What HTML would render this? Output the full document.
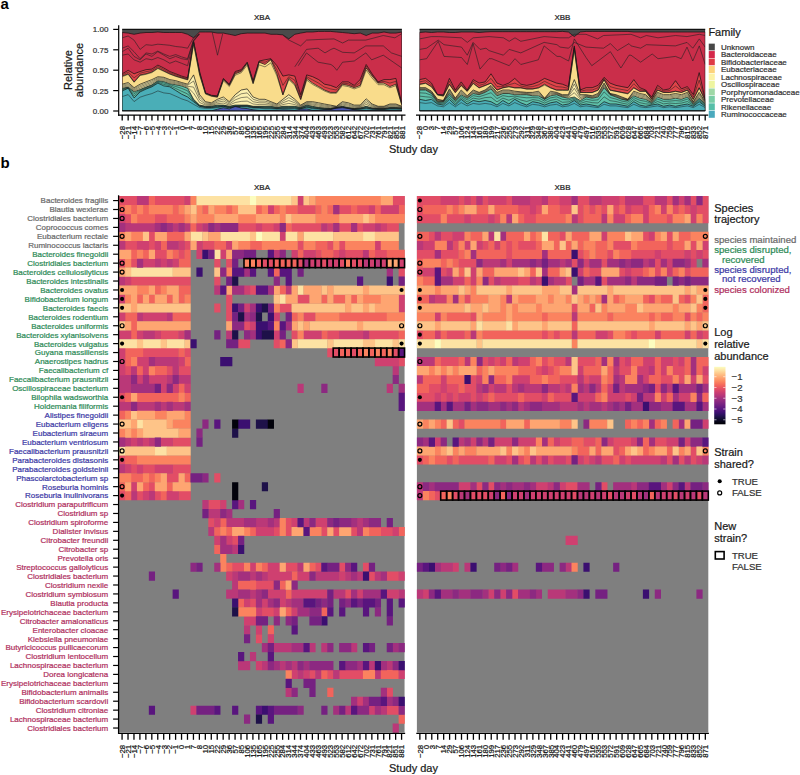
<!DOCTYPE html>
<html><head><meta charset="utf-8"><title>figure</title>
<style>
html,body{margin:0;padding:0;background:#fff;}
body{width:800px;height:775px;overflow:hidden;}
svg{display:block;font-family:"Liberation Sans", sans-serif;}
</style></head><body>
<svg width="800" height="775" viewBox="0 0 800 775">
<text x="0.6" y="8.5" font-size="15" font-weight="bold" fill="#000">a</text>
<text x="262" y="19.9" font-size="8" text-anchor="middle" fill="#1a1a1a" stroke="#1a1a1a" stroke-width="0.22">XBA</text>
<text x="562.4" y="19.9" font-size="8" text-anchor="middle" fill="#1a1a1a" stroke="#1a1a1a" stroke-width="0.22">XBB</text>
<defs><clipPath id="ca"><rect x="122.2" y="29.4" width="279.65000000000003" height="81.6"/></clipPath><clipPath id="cb"><rect x="419.6" y="29.4" width="285.6" height="81.6"/></clipPath></defs>
<g clip-path="url(#ca)"><polygon points="122.2,29.4 128.2,29.4 134.1,29.4 140.1,29.4 146.0,29.4 151.9,29.4 157.9,29.4 163.8,29.4 169.8,29.4 175.8,29.4 181.7,29.4 187.7,29.4 193.6,29.4 199.6,29.4 205.5,29.4 211.4,29.4 217.4,29.4 223.4,29.4 229.3,29.4 235.2,29.4 241.2,29.4 247.2,29.4 253.1,29.4 259.1,29.4 265.0,29.4 270.9,29.4 276.9,29.4 282.9,29.4 288.8,29.4 294.8,29.4 300.7,29.4 306.7,29.4 312.6,29.4 318.6,29.4 324.5,29.4 330.4,29.4 336.4,29.4 342.4,29.4 348.3,29.4 354.2,29.4 360.2,29.4 366.2,29.4 372.1,29.4 378.1,29.4 384.0,29.4 389.9,29.4 395.9,29.4 401.9,29.4 401.9,111.0 395.9,111.0 389.9,111.0 384.0,111.0 378.1,111.0 372.1,111.0 366.2,111.0 360.2,111.0 354.2,111.0 348.3,111.0 342.4,111.0 336.4,111.0 330.4,111.0 324.5,111.0 318.6,111.0 312.6,111.0 306.7,111.0 300.7,111.0 294.8,111.0 288.8,111.0 282.9,111.0 276.9,111.0 270.9,111.0 265.0,111.0 259.1,111.0 253.1,111.0 247.2,111.0 241.2,111.0 235.2,111.0 229.3,111.0 223.4,111.0 217.4,111.0 211.4,111.0 205.5,111.0 199.6,111.0 193.6,111.0 187.7,111.0 181.7,111.0 175.8,111.0 169.8,111.0 163.8,111.0 157.9,111.0 151.9,111.0 146.0,111.0 140.1,111.0 134.1,111.0 128.2,111.0 122.2,111.0" fill="#4a4a4a" stroke="#111" stroke-width="0.7" stroke-linejoin="round"/><polygon points="122.2,32.5 128.2,33.1 134.1,34.3 140.1,33.1 146.0,32.5 151.9,32.5 157.9,32.0 163.8,32.5 169.8,32.5 175.8,32.5 181.7,32.5 187.7,34.3 193.6,37.8 199.6,32.0 205.5,32.0 211.4,32.0 217.4,33.1 223.4,33.1 229.3,34.3 235.2,35.5 241.2,33.7 247.2,33.1 253.1,33.1 259.1,33.1 265.0,33.1 270.9,34.3 276.9,34.3 282.9,34.9 288.8,38.9 294.8,34.3 300.7,33.1 306.7,32.0 312.6,32.0 318.6,31.4 324.5,31.4 330.4,31.4 336.4,32.0 342.4,32.5 348.3,33.1 354.2,33.7 360.2,33.1 366.2,35.5 372.1,33.1 378.1,33.1 384.0,32.0 389.9,33.1 395.9,33.1 401.9,32.0 401.9,111.0 395.9,111.0 389.9,111.0 384.0,111.0 378.1,111.0 372.1,111.0 366.2,111.0 360.2,111.0 354.2,111.0 348.3,111.0 342.4,111.0 336.4,111.0 330.4,111.0 324.5,111.0 318.6,111.0 312.6,111.0 306.7,111.0 300.7,111.0 294.8,111.0 288.8,111.0 282.9,111.0 276.9,111.0 270.9,111.0 265.0,111.0 259.1,111.0 253.1,111.0 247.2,111.0 241.2,111.0 235.2,111.0 229.3,111.0 223.4,111.0 217.4,111.0 211.4,111.0 205.5,111.0 199.6,111.0 193.6,111.0 187.7,111.0 181.7,111.0 175.8,111.0 169.8,111.0 163.8,111.0 157.9,111.0 151.9,111.0 146.0,111.0 140.1,111.0 134.1,111.0 128.2,111.0 122.2,111.0" fill="#ca2e4a" stroke="#111" stroke-width="0.7" stroke-linejoin="round"/><polygon points="122.2,73.8 128.2,70.3 134.1,73.8 140.1,71.5 146.0,69.7 151.9,69.1 157.9,65.1 163.8,68.0 169.8,71.5 175.8,73.8 181.7,76.1 187.7,77.8 193.6,41.3 199.6,71.5 205.5,92.9 211.4,95.3 217.4,95.8 223.4,78.4 229.3,84.2 235.2,71.5 241.2,69.7 247.2,62.2 253.1,80.7 259.1,61.0 265.0,59.8 270.9,58.7 276.9,65.7 282.9,76.1 288.8,74.9 294.8,76.1 300.7,94.7 306.7,74.9 312.6,76.7 318.6,79.6 324.5,84.2 330.4,85.4 336.4,87.7 342.4,81.9 348.3,81.9 354.2,85.4 360.2,79.6 366.2,64.5 372.1,73.8 378.1,81.9 384.0,79.6 389.9,79.6 395.9,78.4 401.9,104.0 401.9,111.0 395.9,111.0 389.9,111.0 384.0,111.0 378.1,111.0 372.1,111.0 366.2,111.0 360.2,111.0 354.2,111.0 348.3,111.0 342.4,111.0 336.4,111.0 330.4,111.0 324.5,111.0 318.6,111.0 312.6,111.0 306.7,111.0 300.7,111.0 294.8,111.0 288.8,111.0 282.9,111.0 276.9,111.0 270.9,111.0 265.0,111.0 259.1,111.0 253.1,111.0 247.2,111.0 241.2,111.0 235.2,111.0 229.3,111.0 223.4,111.0 217.4,111.0 211.4,111.0 205.5,111.0 199.6,111.0 193.6,111.0 187.7,111.0 181.7,111.0 175.8,111.0 169.8,111.0 163.8,111.0 157.9,111.0 151.9,111.0 146.0,111.0 140.1,111.0 134.1,111.0 128.2,111.0 122.2,111.0" fill="#df4449" stroke="#111" stroke-width="0.7" stroke-linejoin="round"/><polygon points="122.2,76.1 128.2,73.8 134.1,81.9 140.1,74.9 146.0,73.8 151.9,72.0 157.9,68.0 163.8,70.9 169.8,73.8 175.8,76.1 181.7,77.8 187.7,79.6 193.6,42.4 199.6,73.8 205.5,93.5 211.4,95.8 217.4,97.0 223.4,79.6 229.3,85.4 235.2,73.8 241.2,71.5 247.2,63.3 253.1,83.1 259.1,62.2 265.0,64.5 270.9,59.8 276.9,73.8 282.9,94.7 288.8,78.4 294.8,84.2 300.7,99.3 306.7,78.4 312.6,83.1 318.6,86.6 324.5,90.0 330.4,92.4 336.4,92.4 342.4,84.2 348.3,85.4 354.2,87.7 360.2,85.4 366.2,68.0 372.1,76.1 378.1,83.1 384.0,83.1 389.9,86.6 395.9,84.2 401.9,105.1 401.9,111.0 395.9,111.0 389.9,111.0 384.0,111.0 378.1,111.0 372.1,111.0 366.2,111.0 360.2,111.0 354.2,111.0 348.3,111.0 342.4,111.0 336.4,111.0 330.4,111.0 324.5,111.0 318.6,111.0 312.6,111.0 306.7,111.0 300.7,111.0 294.8,111.0 288.8,111.0 282.9,111.0 276.9,111.0 270.9,111.0 265.0,111.0 259.1,111.0 253.1,111.0 247.2,111.0 241.2,111.0 235.2,111.0 229.3,111.0 223.4,111.0 217.4,111.0 211.4,111.0 205.5,111.0 199.6,111.0 193.6,111.0 187.7,111.0 181.7,111.0 175.8,111.0 169.8,111.0 163.8,111.0 157.9,111.0 151.9,111.0 146.0,111.0 140.1,111.0 134.1,111.0 128.2,111.0 122.2,111.0" fill="#f9dc8b" stroke="#111" stroke-width="0.7" stroke-linejoin="round"/><polygon points="122.2,84.2 128.2,82.5 134.1,87.7 140.1,84.2 146.0,81.9 151.9,79.6 157.9,76.7 163.8,77.3 169.8,79.6 175.8,80.7 181.7,82.5 187.7,84.2 193.6,74.9 199.6,94.7 205.5,101.7 211.4,102.8 217.4,99.3 223.4,97.0 229.3,101.7 235.2,94.7 241.2,90.0 247.2,88.9 253.1,97.0 259.1,99.3 265.0,99.3 270.9,101.7 276.9,104.0 282.9,99.3 288.8,94.7 294.8,99.3 300.7,105.1 306.7,101.7 312.6,101.7 318.6,102.8 324.5,104.0 330.4,105.1 336.4,106.3 342.4,101.7 348.3,102.8 354.2,105.1 360.2,105.1 366.2,98.8 372.1,104.0 378.1,106.3 384.0,106.3 389.9,104.0 395.9,104.0 401.9,106.3 401.9,111.0 395.9,111.0 389.9,111.0 384.0,111.0 378.1,111.0 372.1,111.0 366.2,111.0 360.2,111.0 354.2,111.0 348.3,111.0 342.4,111.0 336.4,111.0 330.4,111.0 324.5,111.0 318.6,111.0 312.6,111.0 306.7,111.0 300.7,111.0 294.8,111.0 288.8,111.0 282.9,111.0 276.9,111.0 270.9,111.0 265.0,111.0 259.1,111.0 253.1,111.0 247.2,111.0 241.2,111.0 235.2,111.0 229.3,111.0 223.4,111.0 217.4,111.0 211.4,111.0 205.5,111.0 199.6,111.0 193.6,111.0 187.7,111.0 181.7,111.0 175.8,111.0 169.8,111.0 163.8,111.0 157.9,111.0 151.9,111.0 146.0,111.0 140.1,111.0 134.1,111.0 128.2,111.0 122.2,111.0" fill="#fbf0b0" stroke="#111" stroke-width="0.7" stroke-linejoin="round"/><polygon points="122.2,88.3 128.2,87.1 134.1,91.8 140.1,89.5 146.0,87.1 151.9,84.8 157.9,80.7 163.8,81.6 169.8,83.7 175.8,84.8 181.7,86.0 187.7,88.3 193.6,99.3 199.6,105.1 205.5,106.3 211.4,106.3 217.4,105.1 223.4,105.1 229.3,106.3 235.2,105.1 241.2,105.1 247.2,105.1 253.1,106.3 259.1,106.3 265.0,106.3 270.9,106.3 276.9,107.5 282.9,106.3 288.8,106.3 294.8,106.3 300.7,107.5 306.7,105.1 312.6,106.3 318.6,107.5 324.5,108.0 330.4,108.6 336.4,107.5 342.4,106.3 348.3,107.5 354.2,108.6 360.2,108.0 366.2,106.3 372.1,108.0 378.1,108.6 384.0,108.6 389.9,107.5 395.9,107.5 401.9,108.0 401.9,111.0 395.9,111.0 389.9,111.0 384.0,111.0 378.1,111.0 372.1,111.0 366.2,111.0 360.2,111.0 354.2,111.0 348.3,111.0 342.4,111.0 336.4,111.0 330.4,111.0 324.5,111.0 318.6,111.0 312.6,111.0 306.7,111.0 300.7,111.0 294.8,111.0 288.8,111.0 282.9,111.0 276.9,111.0 270.9,111.0 265.0,111.0 259.1,111.0 253.1,111.0 247.2,111.0 241.2,111.0 235.2,111.0 229.3,111.0 223.4,111.0 217.4,111.0 211.4,111.0 205.5,111.0 199.6,111.0 193.6,111.0 187.7,111.0 181.7,111.0 175.8,111.0 169.8,111.0 163.8,111.0 157.9,111.0 151.9,111.0 146.0,111.0 140.1,111.0 134.1,111.0 128.2,111.0 122.2,111.0" fill="#5fc2aa" stroke="#111" stroke-width="0.7" stroke-linejoin="round"/><polygon points="122.2,91.0 128.2,88.2 134.1,97.9 140.1,91.9 146.0,89.1 151.9,86.8 157.9,83.1 163.8,85.9 169.8,86.8 175.8,90.5 181.7,94.2 187.7,97.0 193.6,101.7 199.6,106.3 205.5,107.5 211.4,107.5 217.4,106.9 223.4,106.3 229.3,107.5 235.2,106.9 241.2,106.3 247.2,106.3 253.1,107.5 259.1,107.5 265.0,108.0 270.9,108.0 276.9,108.6 282.9,108.0 288.8,108.0 294.8,108.0 300.7,108.6 306.7,106.9 312.6,108.0 318.6,108.6 324.5,109.2 330.4,109.2 336.4,108.6 342.4,108.0 348.3,108.6 354.2,109.2 360.2,108.9 366.2,108.0 372.1,108.9 378.1,109.2 384.0,109.2 389.9,108.6 395.9,108.6 401.9,108.9 401.9,111.0 395.9,111.0 389.9,111.0 384.0,111.0 378.1,111.0 372.1,111.0 366.2,111.0 360.2,111.0 354.2,111.0 348.3,111.0 342.4,111.0 336.4,111.0 330.4,111.0 324.5,111.0 318.6,111.0 312.6,111.0 306.7,111.0 300.7,111.0 294.8,111.0 288.8,111.0 282.9,111.0 276.9,111.0 270.9,111.0 265.0,111.0 259.1,111.0 253.1,111.0 247.2,111.0 241.2,111.0 235.2,111.0 229.3,111.0 223.4,111.0 217.4,111.0 211.4,111.0 205.5,111.0 199.6,111.0 193.6,111.0 187.7,111.0 181.7,111.0 175.8,111.0 169.8,111.0 163.8,111.0 157.9,111.0 151.9,111.0 146.0,111.0 140.1,111.0 134.1,111.0 128.2,111.0 122.2,111.0" fill="#4aaeb7" stroke="#111" stroke-width="0.7" stroke-linejoin="round"/><polygon points="122.2,110.9 128.2,110.9 134.1,110.9 140.1,110.9 146.0,110.9 151.9,110.9 157.9,110.9 163.8,110.9 169.8,110.9 175.8,110.9 181.7,110.9 187.7,110.9 193.6,110.9 199.6,110.9 205.5,110.9 211.4,110.9 217.4,109.2 223.4,107.7 229.3,108.9 235.2,106.3 241.2,108.0 247.2,108.6 253.1,109.8 259.1,110.4 265.0,110.4 270.9,110.4 276.9,110.4 282.9,109.8 288.8,110.0 294.8,110.4 300.7,109.2 306.7,108.9 312.6,110.4 318.6,110.4 324.5,109.8 330.4,109.6 336.4,107.7 342.4,106.9 348.3,108.4 354.2,109.8 360.2,110.4 366.2,110.4 372.1,110.4 378.1,110.4 384.0,110.4 389.9,110.4 395.9,110.4 401.9,110.4 401.9,111.0 395.9,111.0 389.9,111.0 384.0,111.0 378.1,111.0 372.1,111.0 366.2,111.0 360.2,111.0 354.2,111.0 348.3,111.0 342.4,111.0 336.4,111.0 330.4,111.0 324.5,111.0 318.6,111.0 312.6,111.0 306.7,111.0 300.7,111.0 294.8,111.0 288.8,111.0 282.9,111.0 276.9,111.0 270.9,111.0 265.0,111.0 259.1,111.0 253.1,111.0 247.2,111.0 241.2,111.0 235.2,111.0 229.3,111.0 223.4,111.0 217.4,111.0 211.4,111.0 205.5,111.0 199.6,111.0 193.6,111.0 187.7,111.0 181.7,111.0 175.8,111.0 169.8,111.0 163.8,111.0 157.9,111.0 151.9,111.0 146.0,111.0 140.1,111.0 134.1,111.0 128.2,111.0 122.2,111.0" fill="#4a58b4" stroke="#111" stroke-width="0.7" stroke-linejoin="round"/><polyline points="122.2,96.6 128.2,94.6 134.1,101.6 140.1,97.2 146.0,95.2 151.9,93.6 157.9,90.9 163.8,92.9 169.8,93.6 175.8,96.2 181.7,98.9 187.7,100.9 193.6,104.3 199.6,107.6 205.5,108.4 211.4,108.4 217.4,107.5 223.4,106.7 229.3,107.9 235.2,106.7 241.2,106.8 247.2,107.0 253.1,108.1 259.1,108.3 265.0,108.7 270.9,108.7 276.9,109.1 282.9,108.5 288.8,108.6 294.8,108.7 300.7,108.8 306.7,107.4 312.6,108.7 318.6,109.1 324.5,109.4 330.4,109.3 336.4,108.4 342.4,107.7 348.3,108.6 354.2,109.4 360.2,109.3 366.2,108.7 372.1,109.3 378.1,109.5 384.0,109.5 389.9,109.1 395.9,109.1 401.9,109.3" fill="none" stroke="#1a1a1a" stroke-width="0.5" stroke-linejoin="round"/><polyline points="122.2,90.0 128.2,87.8 134.1,95.8 140.1,91.0 146.0,88.4 151.9,86.1 157.9,82.3 163.8,84.4 169.8,85.7 175.8,88.5 181.7,91.3 187.7,94.0 193.6,100.8 199.6,105.9 205.5,107.1 211.4,107.1 217.4,106.3 223.4,105.9 229.3,107.1 235.2,106.3 241.2,105.9 247.2,105.9 253.1,107.1 259.1,107.1 265.0,107.4 270.9,107.4 276.9,108.2 282.9,107.4 288.8,107.4 294.8,107.4 300.7,108.2 306.7,106.3 312.6,107.4 318.6,108.2 324.5,108.8 330.4,109.0 336.4,108.2 342.4,107.4 348.3,108.2 354.2,109.0 360.2,108.6 366.2,107.4 372.1,108.6 378.1,109.0 384.0,109.0 389.9,108.2 395.9,108.2 401.9,108.6" fill="none" stroke="#1a1a1a" stroke-width="0.5" stroke-linejoin="round"/><polyline points="122.2,89.1 128.2,87.5 134.1,93.6 140.1,90.2 146.0,87.7 151.9,85.4 157.9,81.4 163.8,82.9 169.8,84.6 175.8,86.5 181.7,88.4 187.7,90.9 193.6,100.0 199.6,105.5 205.5,106.6 211.4,106.6 217.4,105.7 223.4,105.5 229.3,106.6 235.2,105.7 241.2,105.5 247.2,105.5 253.1,106.6 259.1,106.6 265.0,106.8 270.9,106.8 276.9,107.8 282.9,106.8 288.8,106.8 294.8,106.8 300.7,107.8 306.7,105.7 312.6,106.8 318.6,107.8 324.5,108.4 330.4,108.8 336.4,107.8 342.4,106.8 348.3,107.8 354.2,108.8 360.2,108.3 366.2,106.8 372.1,108.3 378.1,108.8 384.0,108.8 389.9,107.8 395.9,107.8 401.9,108.3" fill="none" stroke="#1a1a1a" stroke-width="0.5" stroke-linejoin="round"/><polyline points="122.2,87.3 128.2,86.0 134.1,90.8 140.1,88.2 146.0,85.8 151.9,83.5 157.9,79.7 163.8,80.5 169.8,82.6 175.8,83.8 181.7,85.1 187.7,87.3 193.6,93.2 199.6,102.5 205.5,105.1 211.4,105.4 217.4,103.7 223.4,103.1 229.3,105.1 235.2,102.5 241.2,101.4 247.2,101.1 253.1,104.0 259.1,104.6 265.0,104.6 270.9,105.1 276.9,106.6 282.9,104.6 288.8,103.4 294.8,104.6 300.7,106.9 306.7,104.3 312.6,105.1 318.6,106.3 324.5,107.0 330.4,107.8 336.4,107.2 342.4,105.1 348.3,106.3 354.2,107.8 360.2,107.3 366.2,104.4 372.1,107.0 378.1,108.0 384.0,108.0 389.9,106.6 395.9,106.6 401.9,107.6" fill="none" stroke="#1a1a1a" stroke-width="0.5" stroke-linejoin="round"/><polyline points="122.2,86.3 128.2,84.8 134.1,89.8 140.1,86.8 146.0,84.5 151.9,82.2 157.9,78.7 163.8,79.4 169.8,81.6 175.8,82.8 181.7,84.2 187.7,86.3 193.6,87.1 199.6,99.9 205.5,104.0 211.4,104.6 217.4,102.2 223.4,101.1 229.3,104.0 235.2,99.9 241.2,97.6 247.2,97.0 253.1,101.7 259.1,102.8 265.0,102.8 270.9,104.0 276.9,105.7 282.9,102.8 288.8,100.5 294.8,102.8 300.7,106.3 306.7,103.4 312.6,104.0 318.6,105.1 324.5,106.0 330.4,106.9 336.4,106.9 342.4,104.0 348.3,105.1 354.2,106.9 360.2,106.6 366.2,102.5 372.1,106.0 378.1,107.5 384.0,107.5 389.9,105.7 395.9,105.7 401.9,107.2" fill="none" stroke="#1a1a1a" stroke-width="0.5" stroke-linejoin="round"/><polyline points="122.2,85.2 128.2,83.7 134.1,88.7 140.1,85.5 146.0,83.2 151.9,80.9 157.9,77.7 163.8,78.3 169.8,80.6 175.8,81.8 181.7,83.4 187.7,85.2 193.6,81.0 199.6,97.3 205.5,102.8 211.4,103.7 217.4,100.8 223.4,99.0 229.3,102.8 235.2,97.3 241.2,93.8 247.2,92.9 253.1,99.3 259.1,101.1 265.0,101.1 270.9,102.8 276.9,104.8 282.9,101.1 288.8,97.6 294.8,101.1 300.7,105.7 306.7,102.5 312.6,102.8 318.6,104.0 324.5,105.0 330.4,106.0 336.4,106.6 342.4,102.8 348.3,104.0 354.2,106.0 360.2,105.9 366.2,100.6 372.1,105.0 378.1,106.9 384.0,106.9 389.9,104.8 395.9,104.8 401.9,106.7" fill="none" stroke="#1a1a1a" stroke-width="0.5" stroke-linejoin="round"/><polyline points="122.2,76.7 128.2,74.4 134.1,82.3 140.1,75.6 146.0,74.3 151.9,72.6 157.9,68.6 163.8,71.3 169.8,74.2 175.8,76.4 181.7,78.2 187.7,79.9 193.6,44.7 199.6,75.2 205.5,94.1 211.4,96.3 217.4,97.2 223.4,80.8 229.3,86.5 235.2,75.2 241.2,72.8 247.2,65.1 253.1,84.0 259.1,64.8 265.0,66.9 270.9,62.8 276.9,75.9 282.9,95.0 288.8,79.6 294.8,85.3 300.7,99.7 306.7,80.1 312.6,84.4 318.6,87.7 324.5,91.0 330.4,93.3 336.4,93.3 342.4,85.5 348.3,86.6 354.2,88.9 360.2,86.8 366.2,70.1 372.1,78.1 378.1,84.7 384.0,84.7 389.9,87.8 395.9,85.6 401.9,105.2" fill="none" stroke="#1a1a1a" stroke-width="0.5" stroke-linejoin="round"/><polyline points="122.2,74.9 128.2,72.0 134.1,77.8 140.1,73.2 146.0,71.7 151.9,70.6 157.9,66.5 163.8,69.4 169.8,72.6 175.8,74.9 181.7,77.0 187.7,78.7 193.6,41.8 199.6,72.6 205.5,93.2 211.4,95.6 217.4,96.4 223.4,79.0 229.3,84.8 235.2,72.6 241.2,70.6 247.2,62.7 253.1,81.9 259.1,61.6 265.0,62.2 270.9,59.3 276.9,69.7 282.9,85.4 288.8,76.7 294.8,80.2 300.7,97.0 306.7,76.7 312.6,79.9 318.6,83.1 324.5,87.1 330.4,88.9 336.4,90.0 342.4,83.1 348.3,83.7 354.2,86.6 360.2,82.5 366.2,66.2 372.1,74.9 378.1,82.5 384.0,81.3 389.9,83.1 395.9,81.3 401.9,104.6" fill="none" stroke="#1a1a1a" stroke-width="0.5" stroke-linejoin="round"/><polyline points="122.2,37.8 128.1,36.0 134.0,40.1 140.1,49.4 146.0,44.7 151.9,45.3 157.8,44.2 163.8,44.7 169.8,45.3 175.7,46.5 181.6,47.1 187.6,48.2 193.5,37.8 199.3,34.3" fill="none" stroke="#222" stroke-width="0.6" stroke-linejoin="round"/><polyline points="122.2,48.2 128.1,45.9 134.0,51.7 140.1,58.7 146.0,52.9 151.9,54.0 157.8,51.1 163.8,54.0 169.8,56.4 175.7,54.6 181.6,56.9 187.6,58.7 193.5,40.1 199.3,33.7" fill="none" stroke="#222" stroke-width="0.6" stroke-linejoin="round"/><polyline points="122.2,55.2 128.1,54.0 134.0,59.8 140.1,62.2 146.0,58.7 151.9,59.8 157.8,57.5 163.8,59.8 169.8,63.3 175.7,61.0 181.6,63.3 187.6,65.7 193.5,41.3 199.3,34.3" fill="none" stroke="#222" stroke-width="0.6" stroke-linejoin="round"/><polyline points="122.2,51.7 128.1,48.2 134.0,56.4 140.1,59.8 146.0,54.0 151.9,56.4 157.8,51.7 163.8,55.2 169.8,58.7 175.7,56.4 181.6,58.7 187.6,59.8 193.5,40.7 199.3,34.1" fill="none" stroke="#222" stroke-width="0.6" stroke-linejoin="round"/><polyline points="212.2,32.2 217.5,55.2 222.7,33.7" fill="none" stroke="#222" stroke-width="0.6" stroke-linejoin="round"/><polyline points="283.2,35.5 289.0,40.1 300.7,45.9 306.5,40.1 318.1,39.5 334.0,38.9 342.6,43.0 348.4,40.1 365.8,40.1 383.3,35.5 394.9,37.8 401.8,33.7" fill="none" stroke="#222" stroke-width="0.6" stroke-linejoin="round"/><polyline points="294.8,66.8 306.5,49.4 318.1,48.2 325.0,52.9 331.0,49.4 334.0,48.2 342.6,52.3 354.2,52.9 365.8,45.9 383.3,45.9 391.4,52.9 401.8,56.4" fill="none" stroke="#222" stroke-width="0.6" stroke-linejoin="round"/><polyline points="298.3,65.7 306.5,52.9 318.1,62.2 331.0,64.5 334.0,66.8 336.8,70.3 342.6,62.2 354.2,61.0 365.8,52.9 371.7,59.8 383.3,55.2 401.8,68.0" fill="none" stroke="#222" stroke-width="0.6" stroke-linejoin="round"/></g>
<g clip-path="url(#cb)"><polygon points="419.6,29.4 425.6,29.4 431.5,29.4 437.5,29.4 443.4,29.4 449.4,29.4 455.3,29.4 461.2,29.4 467.2,29.4 473.2,29.4 479.1,29.4 485.1,29.4 491.0,29.4 497.0,29.4 502.9,29.4 508.9,29.4 514.8,29.4 520.8,29.4 526.7,29.4 532.6,29.4 538.6,29.4 544.6,29.4 550.5,29.4 556.5,29.4 562.4,29.4 568.4,29.4 574.3,29.4 580.2,29.4 586.2,29.4 592.2,29.4 598.1,29.4 604.1,29.4 610.0,29.4 616.0,29.4 621.9,29.4 627.9,29.4 633.8,29.4 639.8,29.4 645.7,29.4 651.7,29.4 657.6,29.4 663.6,29.4 669.5,29.4 675.5,29.4 681.4,29.4 687.4,29.4 693.3,29.4 699.2,29.4 705.2,29.4 705.2,111.0 699.2,111.0 693.3,111.0 687.4,111.0 681.4,111.0 675.5,111.0 669.5,111.0 663.6,111.0 657.6,111.0 651.7,111.0 645.7,111.0 639.8,111.0 633.8,111.0 627.9,111.0 621.9,111.0 616.0,111.0 610.0,111.0 604.1,111.0 598.1,111.0 592.2,111.0 586.2,111.0 580.2,111.0 574.3,111.0 568.4,111.0 562.4,111.0 556.5,111.0 550.5,111.0 544.6,111.0 538.6,111.0 532.6,111.0 526.7,111.0 520.8,111.0 514.8,111.0 508.9,111.0 502.9,111.0 497.0,111.0 491.0,111.0 485.1,111.0 479.1,111.0 473.2,111.0 467.2,111.0 461.2,111.0 455.3,111.0 449.4,111.0 443.4,111.0 437.5,111.0 431.5,111.0 425.6,111.0 419.6,111.0" fill="#4a4a4a" stroke="#111" stroke-width="0.7" stroke-linejoin="round"/><polygon points="419.6,32.5 425.6,32.0 431.5,32.5 437.5,32.0 443.4,32.0 449.4,32.5 455.3,32.5 461.2,32.0 467.2,32.0 473.2,32.0 479.1,32.5 485.1,32.0 491.0,31.7 497.0,31.7 502.9,31.7 508.9,31.7 514.8,31.7 520.8,31.7 526.7,31.7 532.6,31.7 538.6,31.7 544.6,31.7 550.5,31.7 556.5,31.7 562.4,31.4 568.4,32.0 574.3,36.6 580.2,32.0 586.2,31.4 592.2,31.4 598.1,31.4 604.1,31.4 610.0,31.4 616.0,31.4 621.9,31.4 627.9,31.4 633.8,32.0 639.8,32.0 645.7,32.0 651.7,32.0 657.6,32.0 663.6,32.0 669.5,32.0 675.5,32.0 681.4,32.0 687.4,32.0 693.3,32.0 699.2,32.0 705.2,32.0 705.2,111.0 699.2,111.0 693.3,111.0 687.4,111.0 681.4,111.0 675.5,111.0 669.5,111.0 663.6,111.0 657.6,111.0 651.7,111.0 645.7,111.0 639.8,111.0 633.8,111.0 627.9,111.0 621.9,111.0 616.0,111.0 610.0,111.0 604.1,111.0 598.1,111.0 592.2,111.0 586.2,111.0 580.2,111.0 574.3,111.0 568.4,111.0 562.4,111.0 556.5,111.0 550.5,111.0 544.6,111.0 538.6,111.0 532.6,111.0 526.7,111.0 520.8,111.0 514.8,111.0 508.9,111.0 502.9,111.0 497.0,111.0 491.0,111.0 485.1,111.0 479.1,111.0 473.2,111.0 467.2,111.0 461.2,111.0 455.3,111.0 449.4,111.0 443.4,111.0 437.5,111.0 431.5,111.0 425.6,111.0 419.6,111.0" fill="#ca2e4a" stroke="#111" stroke-width="0.7" stroke-linejoin="round"/><polygon points="419.6,79.6 425.6,78.4 431.5,83.1 437.5,94.7 443.4,94.7 449.4,78.4 455.3,90.0 461.2,81.9 467.2,90.0 473.2,79.6 479.1,83.1 485.1,81.9 491.0,73.8 497.0,83.1 502.9,85.4 508.9,83.1 514.8,78.4 520.8,84.2 526.7,85.4 532.6,84.2 538.6,81.9 544.6,78.4 550.5,80.7 556.5,83.1 562.4,84.2 568.4,86.6 574.3,45.9 580.2,90.0 586.2,87.7 592.2,87.7 598.1,85.4 604.1,77.3 610.0,83.1 616.0,85.4 621.9,86.6 627.9,87.7 633.8,79.6 639.8,87.7 645.7,90.0 651.7,97.0 657.6,85.4 663.6,90.0 669.5,88.9 675.5,80.7 681.4,88.9 687.4,86.6 693.3,94.7 699.2,72.6 705.2,99.3 705.2,111.0 699.2,111.0 693.3,111.0 687.4,111.0 681.4,111.0 675.5,111.0 669.5,111.0 663.6,111.0 657.6,111.0 651.7,111.0 645.7,111.0 639.8,111.0 633.8,111.0 627.9,111.0 621.9,111.0 616.0,111.0 610.0,111.0 604.1,111.0 598.1,111.0 592.2,111.0 586.2,111.0 580.2,111.0 574.3,111.0 568.4,111.0 562.4,111.0 556.5,111.0 550.5,111.0 544.6,111.0 538.6,111.0 532.6,111.0 526.7,111.0 520.8,111.0 514.8,111.0 508.9,111.0 502.9,111.0 497.0,111.0 491.0,111.0 485.1,111.0 479.1,111.0 473.2,111.0 467.2,111.0 461.2,111.0 455.3,111.0 449.4,111.0 443.4,111.0 437.5,111.0 431.5,111.0 425.6,111.0 419.6,111.0" fill="#df4449" stroke="#111" stroke-width="0.7" stroke-linejoin="round"/><polygon points="419.6,84.2 425.6,83.1 431.5,86.6 437.5,94.7 443.4,95.8 449.4,84.2 455.3,92.4 461.2,85.4 467.2,91.2 473.2,83.1 479.1,87.7 485.1,85.4 491.0,83.1 497.0,90.0 502.9,87.7 508.9,86.6 514.8,87.7 520.8,87.7 526.7,88.9 532.6,88.9 538.6,87.7 544.6,84.2 550.5,87.7 556.5,90.0 562.4,90.0 568.4,90.0 574.3,48.2 580.2,92.4 586.2,92.4 592.2,92.4 598.1,90.0 604.1,79.6 610.0,90.0 616.0,91.2 621.9,92.4 627.9,93.5 633.8,87.7 639.8,91.2 645.7,91.2 651.7,99.3 657.6,90.0 663.6,92.4 669.5,92.4 675.5,91.2 681.4,92.4 687.4,90.0 693.3,99.3 699.2,87.7 705.2,100.5 705.2,111.0 699.2,111.0 693.3,111.0 687.4,111.0 681.4,111.0 675.5,111.0 669.5,111.0 663.6,111.0 657.6,111.0 651.7,111.0 645.7,111.0 639.8,111.0 633.8,111.0 627.9,111.0 621.9,111.0 616.0,111.0 610.0,111.0 604.1,111.0 598.1,111.0 592.2,111.0 586.2,111.0 580.2,111.0 574.3,111.0 568.4,111.0 562.4,111.0 556.5,111.0 550.5,111.0 544.6,111.0 538.6,111.0 532.6,111.0 526.7,111.0 520.8,111.0 514.8,111.0 508.9,111.0 502.9,111.0 497.0,111.0 491.0,111.0 485.1,111.0 479.1,111.0 473.2,111.0 467.2,111.0 461.2,111.0 455.3,111.0 449.4,111.0 443.4,111.0 437.5,111.0 431.5,111.0 425.6,111.0 419.6,111.0" fill="#f9dc8b" stroke="#111" stroke-width="0.7" stroke-linejoin="round"/><polygon points="419.6,87.7 425.6,87.7 431.5,91.2 437.5,99.3 443.4,100.5 449.4,88.9 455.3,98.2 461.2,90.0 467.2,95.8 473.2,90.0 479.1,92.4 485.1,90.0 491.0,85.4 497.0,92.4 502.9,90.0 508.9,90.0 514.8,91.2 520.8,91.8 526.7,92.4 532.6,92.4 538.6,91.2 544.6,98.2 550.5,91.2 556.5,92.4 562.4,94.7 568.4,94.7 574.3,79.6 580.2,94.7 586.2,94.7 592.2,95.8 598.1,93.5 604.1,83.1 610.0,93.5 616.0,94.7 621.9,97.0 627.9,99.3 633.8,91.2 639.8,93.5 645.7,94.7 651.7,100.5 657.6,92.4 663.6,94.7 669.5,94.7 675.5,93.5 681.4,94.7 687.4,92.4 693.3,101.7 699.2,92.4 705.2,101.7 705.2,111.0 699.2,111.0 693.3,111.0 687.4,111.0 681.4,111.0 675.5,111.0 669.5,111.0 663.6,111.0 657.6,111.0 651.7,111.0 645.7,111.0 639.8,111.0 633.8,111.0 627.9,111.0 621.9,111.0 616.0,111.0 610.0,111.0 604.1,111.0 598.1,111.0 592.2,111.0 586.2,111.0 580.2,111.0 574.3,111.0 568.4,111.0 562.4,111.0 556.5,111.0 550.5,111.0 544.6,111.0 538.6,111.0 532.6,111.0 526.7,111.0 520.8,111.0 514.8,111.0 508.9,111.0 502.9,111.0 497.0,111.0 491.0,111.0 485.1,111.0 479.1,111.0 473.2,111.0 467.2,111.0 461.2,111.0 455.3,111.0 449.4,111.0 443.4,111.0 437.5,111.0 431.5,111.0 425.6,111.0 419.6,111.0" fill="#fbf0b0" stroke="#111" stroke-width="0.7" stroke-linejoin="round"/><polygon points="419.6,90.0 425.6,90.0 431.5,93.5 437.5,101.7 443.4,101.7 449.4,93.5 455.3,100.5 461.2,94.7 467.2,98.2 473.2,93.5 479.1,94.7 485.1,92.4 491.0,88.9 497.0,95.8 502.9,93.5 508.9,93.5 514.8,94.7 520.8,94.7 526.7,94.7 532.6,95.8 538.6,95.8 544.6,99.3 550.5,95.8 556.5,94.7 562.4,97.0 568.4,98.2 574.3,97.0 580.2,100.5 586.2,97.0 592.2,98.2 598.1,97.0 604.1,87.7 610.0,94.7 616.0,97.0 621.9,99.3 627.9,100.5 633.8,95.8 639.8,98.2 645.7,99.3 651.7,102.8 657.6,97.0 663.6,99.3 669.5,99.3 675.5,98.2 681.4,99.3 687.4,97.0 693.3,104.0 699.2,98.2 705.2,104.0 705.2,111.0 699.2,111.0 693.3,111.0 687.4,111.0 681.4,111.0 675.5,111.0 669.5,111.0 663.6,111.0 657.6,111.0 651.7,111.0 645.7,111.0 639.8,111.0 633.8,111.0 627.9,111.0 621.9,111.0 616.0,111.0 610.0,111.0 604.1,111.0 598.1,111.0 592.2,111.0 586.2,111.0 580.2,111.0 574.3,111.0 568.4,111.0 562.4,111.0 556.5,111.0 550.5,111.0 544.6,111.0 538.6,111.0 532.6,111.0 526.7,111.0 520.8,111.0 514.8,111.0 508.9,111.0 502.9,111.0 497.0,111.0 491.0,111.0 485.1,111.0 479.1,111.0 473.2,111.0 467.2,111.0 461.2,111.0 455.3,111.0 449.4,111.0 443.4,111.0 437.5,111.0 431.5,111.0 425.6,111.0 419.6,111.0" fill="#5fc2aa" stroke="#111" stroke-width="0.7" stroke-linejoin="round"/><polygon points="419.6,99.3 425.6,100.5 431.5,99.3 437.5,104.0 443.4,105.1 449.4,99.3 455.3,105.1 461.2,99.3 467.2,104.0 473.2,100.5 479.1,101.7 485.1,100.5 491.0,101.7 497.0,105.1 502.9,100.5 508.9,104.0 514.8,99.3 520.8,102.8 526.7,105.1 532.6,101.7 538.6,102.8 544.6,105.1 550.5,102.8 556.5,101.7 562.4,105.1 568.4,104.0 574.3,100.5 580.2,105.1 586.2,104.0 592.2,105.1 598.1,106.3 604.1,101.7 610.0,104.0 616.0,104.0 621.9,105.1 627.9,106.3 633.8,101.7 639.8,105.1 645.7,106.3 651.7,105.1 657.6,104.0 663.6,106.3 669.5,105.1 675.5,106.3 681.4,105.1 687.4,104.0 693.3,106.3 699.2,101.7 705.2,106.3 705.2,111.0 699.2,111.0 693.3,111.0 687.4,111.0 681.4,111.0 675.5,111.0 669.5,111.0 663.6,111.0 657.6,111.0 651.7,111.0 645.7,111.0 639.8,111.0 633.8,111.0 627.9,111.0 621.9,111.0 616.0,111.0 610.0,111.0 604.1,111.0 598.1,111.0 592.2,111.0 586.2,111.0 580.2,111.0 574.3,111.0 568.4,111.0 562.4,111.0 556.5,111.0 550.5,111.0 544.6,111.0 538.6,111.0 532.6,111.0 526.7,111.0 520.8,111.0 514.8,111.0 508.9,111.0 502.9,111.0 497.0,111.0 491.0,111.0 485.1,111.0 479.1,111.0 473.2,111.0 467.2,111.0 461.2,111.0 455.3,111.0 449.4,111.0 443.4,111.0 437.5,111.0 431.5,111.0 425.6,111.0 419.6,111.0" fill="#4aaeb7" stroke="#111" stroke-width="0.7" stroke-linejoin="round"/><polygon points="419.6,110.9 425.6,110.9 431.5,110.9 437.5,110.9 443.4,110.9 449.4,110.9 455.3,110.9 461.2,110.9 467.2,110.9 473.2,110.9 479.1,110.9 485.1,110.9 491.0,110.9 497.0,110.9 502.9,110.9 508.9,110.9 514.8,110.9 520.8,110.9 526.7,110.9 532.6,110.9 538.6,110.9 544.6,110.9 550.5,110.9 556.5,110.9 562.4,110.9 568.4,110.9 574.3,110.9 580.2,110.9 586.2,110.9 592.2,110.9 598.1,110.9 604.1,110.9 610.0,110.9 616.0,110.9 621.9,110.9 627.9,110.9 633.8,110.9 639.8,110.9 645.7,110.9 651.7,110.9 657.6,110.9 663.6,110.9 669.5,110.9 675.5,110.9 681.4,110.9 687.4,110.9 693.3,110.9 699.2,110.9 705.2,110.9 705.2,111.0 699.2,111.0 693.3,111.0 687.4,111.0 681.4,111.0 675.5,111.0 669.5,111.0 663.6,111.0 657.6,111.0 651.7,111.0 645.7,111.0 639.8,111.0 633.8,111.0 627.9,111.0 621.9,111.0 616.0,111.0 610.0,111.0 604.1,111.0 598.1,111.0 592.2,111.0 586.2,111.0 580.2,111.0 574.3,111.0 568.4,111.0 562.4,111.0 556.5,111.0 550.5,111.0 544.6,111.0 538.6,111.0 532.6,111.0 526.7,111.0 520.8,111.0 514.8,111.0 508.9,111.0 502.9,111.0 497.0,111.0 491.0,111.0 485.1,111.0 479.1,111.0 473.2,111.0 467.2,111.0 461.2,111.0 455.3,111.0 449.4,111.0 443.4,111.0 437.5,111.0 431.5,111.0 425.6,111.0 419.6,111.0" fill="#4a58b4" stroke="#111" stroke-width="0.7" stroke-linejoin="round"/><polyline points="419.6,102.6 425.6,103.4 431.5,102.6 437.5,105.9 443.4,106.8 449.4,102.6 455.3,106.8 461.2,102.6 467.2,105.9 473.2,103.4 479.1,104.3 485.1,103.4 491.0,104.3 497.0,106.8 502.9,103.4 508.9,105.9 514.8,102.6 520.8,105.1 526.7,106.8 532.6,104.3 538.6,105.1 544.6,106.8 550.5,105.1 556.5,104.3 562.4,106.8 568.4,105.9 574.3,103.4 580.2,106.8 586.2,105.9 592.2,106.8 598.1,107.6 604.1,104.3 610.0,105.9 616.0,105.9 621.9,106.8 627.9,107.6 633.8,104.3 639.8,106.8 645.7,107.6 651.7,106.8 657.6,105.9 663.6,107.6 669.5,106.8 675.5,107.6 681.4,106.8 687.4,105.9 693.3,107.6 699.2,104.3 705.2,107.6" fill="none" stroke="#1a1a1a" stroke-width="0.5" stroke-linejoin="round"/><polyline points="419.6,96.1 425.6,96.8 431.5,97.3 437.5,103.2 443.4,103.9 449.4,97.3 455.3,103.5 461.2,97.7 467.2,101.9 473.2,98.1 479.1,99.2 485.1,97.6 491.0,97.2 497.0,101.9 502.9,98.1 508.9,100.3 514.8,97.7 520.8,100.0 526.7,101.5 532.6,99.6 538.6,100.4 544.6,103.1 550.5,100.4 556.5,99.2 562.4,102.3 568.4,101.9 574.3,99.3 580.2,103.5 586.2,101.5 592.2,102.7 598.1,103.0 604.1,96.8 610.0,100.7 616.0,101.5 621.9,103.1 627.9,104.3 633.8,99.6 639.8,102.7 645.7,103.9 651.7,104.3 657.6,101.5 663.6,103.9 669.5,103.1 675.5,103.5 681.4,103.1 687.4,101.5 693.3,105.5 699.2,100.4 705.2,105.5" fill="none" stroke="#1a1a1a" stroke-width="0.5" stroke-linejoin="round"/><polyline points="419.6,92.8 425.6,93.2 431.5,95.3 437.5,102.4 443.4,102.7 449.4,95.3 455.3,101.9 461.2,96.1 467.2,99.9 473.2,95.6 479.1,96.8 485.1,94.8 491.0,92.7 497.0,98.6 502.9,95.6 508.9,96.7 514.8,96.1 520.8,97.1 526.7,97.8 532.6,97.6 538.6,97.9 544.6,101.1 550.5,97.9 556.5,96.8 562.4,99.4 568.4,99.9 574.3,98.1 580.2,101.9 586.2,99.1 592.2,100.3 598.1,99.8 604.1,91.9 610.0,97.5 616.0,99.1 621.9,101.1 627.9,102.2 633.8,97.6 639.8,100.3 645.7,101.4 651.7,103.5 657.6,99.1 663.6,101.4 669.5,101.1 675.5,100.6 681.4,101.1 687.4,99.1 693.3,104.7 699.2,99.2 705.2,104.7" fill="none" stroke="#1a1a1a" stroke-width="0.5" stroke-linejoin="round"/><polyline points="419.6,89.5 425.6,89.5 431.5,92.9 437.5,101.1 443.4,101.4 449.4,92.4 455.3,99.9 461.2,93.5 467.2,97.6 473.2,92.7 479.1,94.1 485.1,91.8 491.0,88.0 497.0,95.0 502.9,92.7 508.9,92.7 514.8,93.8 520.8,94.0 526.7,94.1 532.6,95.0 538.6,94.7 544.6,99.0 550.5,94.7 556.5,94.1 562.4,96.4 568.4,97.3 574.3,92.7 580.2,99.0 586.2,96.4 592.2,97.6 598.1,96.1 604.1,86.6 610.0,94.4 616.0,96.4 621.9,98.8 627.9,100.2 633.8,94.7 639.8,97.0 645.7,98.2 651.7,102.2 657.6,95.8 663.6,98.2 669.5,98.2 675.5,97.0 681.4,98.2 687.4,95.8 693.3,103.4 699.2,96.7 705.2,103.4" fill="none" stroke="#1a1a1a" stroke-width="0.5" stroke-linejoin="round"/><polyline points="419.6,88.9 425.6,88.9 431.5,92.4 437.5,100.5 443.4,101.1 449.4,91.2 455.3,99.3 461.2,92.4 467.2,97.0 473.2,91.8 479.1,93.5 485.1,91.2 491.0,87.1 497.0,94.1 502.9,91.8 508.9,91.8 514.8,92.9 520.8,93.2 526.7,93.5 532.6,94.1 538.6,93.5 544.6,98.8 550.5,93.5 556.5,93.5 562.4,95.8 568.4,96.4 574.3,88.3 580.2,97.6 586.2,95.8 592.2,97.0 598.1,95.3 604.1,85.4 610.0,94.1 616.0,95.8 621.9,98.2 627.9,99.9 633.8,93.5 639.8,95.8 645.7,97.0 651.7,101.7 657.6,94.7 663.6,97.0 669.5,97.0 675.5,95.8 681.4,97.0 687.4,94.7 693.3,102.8 699.2,95.3 705.2,102.8" fill="none" stroke="#1a1a1a" stroke-width="0.5" stroke-linejoin="round"/><polyline points="419.6,88.3 425.6,88.3 431.5,91.8 437.5,99.9 443.4,100.8 449.4,90.0 455.3,98.8 461.2,91.2 467.2,96.4 473.2,90.9 479.1,92.9 485.1,90.6 491.0,86.3 497.0,93.2 502.9,90.9 508.9,90.9 514.8,92.1 520.8,92.5 526.7,92.9 532.6,93.2 538.6,92.4 544.6,98.5 550.5,92.4 556.5,92.9 562.4,95.3 568.4,95.6 574.3,83.9 580.2,96.1 586.2,95.3 592.2,96.4 598.1,94.4 604.1,84.2 610.0,93.8 616.0,95.3 621.9,97.6 627.9,99.6 633.8,92.4 639.8,94.7 645.7,95.8 651.7,101.1 657.6,93.5 663.6,95.8 669.5,95.8 675.5,94.7 681.4,95.8 687.4,93.5 693.3,102.2 699.2,93.8 705.2,102.2" fill="none" stroke="#1a1a1a" stroke-width="0.5" stroke-linejoin="round"/><polyline points="419.6,84.5 425.6,83.4 431.5,86.9 437.5,95.0 443.4,96.2 449.4,84.6 455.3,92.8 461.2,85.7 467.2,91.5 473.2,83.6 479.1,88.0 485.1,85.7 491.0,83.2 497.0,90.2 502.9,87.9 508.9,86.8 514.8,88.0 520.8,88.0 526.7,89.1 532.6,89.1 538.6,88.0 544.6,85.2 550.5,88.0 556.5,90.2 562.4,90.4 568.4,90.4 574.3,50.4 580.2,92.5 586.2,92.5 592.2,92.6 598.1,90.3 604.1,79.8 610.0,90.3 616.0,91.4 621.9,92.7 627.9,93.9 633.8,88.0 639.8,91.4 645.7,91.4 651.7,99.4 657.6,90.2 663.6,92.5 669.5,92.5 675.5,91.4 681.4,92.5 687.4,90.2 693.3,99.5 699.2,88.0 705.2,100.6" fill="none" stroke="#1a1a1a" stroke-width="0.5" stroke-linejoin="round"/><polyline points="419.6,81.9 425.6,80.7 431.5,84.8 437.5,94.7 443.4,95.3 449.4,81.3 455.3,91.2 461.2,83.7 467.2,90.6 473.2,81.3 479.1,85.4 485.1,83.7 491.0,78.4 497.0,86.6 502.9,86.6 508.9,84.8 514.8,83.1 520.8,86.0 526.7,87.1 532.6,86.6 538.6,84.8 544.6,81.3 550.5,84.2 556.5,86.6 562.4,87.1 568.4,88.3 574.3,47.1 580.2,91.2 586.2,90.0 592.2,90.0 598.1,87.7 604.1,78.4 610.0,86.6 616.0,88.3 621.9,89.5 627.9,90.6 633.8,83.7 639.8,89.5 645.7,90.6 651.7,98.2 657.6,87.7 663.6,91.2 669.5,90.6 675.5,86.0 681.4,90.6 687.4,88.3 693.3,97.0 699.2,80.2 705.2,99.9" fill="none" stroke="#1a1a1a" stroke-width="0.5" stroke-linejoin="round"/><polyline points="419.6,38.9 431.3,36.6 438.2,36.6 461.5,37.8 467.3,42.4 473.1,37.8 489.0,36.6 503.4,37.8 509.2,41.3 515.0,37.8 520.8,41.3 544.1,36.6 560.0,37.8 568.6,37.8 574.3,34.3 586.0,34.3 597.7,38.9 603.5,35.5 631.0,34.3 640.6,37.8 646.4,35.5 658.0,37.8 675.4,35.5 687.0,36.6 699.3,34.3 705.2,35.5" fill="none" stroke="#222" stroke-width="0.6" stroke-linejoin="round"/><polyline points="419.6,49.4 426.6,48.2 438.2,40.1 444.0,44.7 461.5,47.1 467.3,55.2 473.1,42.4 480.0,49.4 486.0,48.2 489.0,50.6 503.4,55.2 509.2,49.4 520.8,52.9 544.1,42.4 557.0,44.7 560.0,47.1 568.6,48.2 574.3,42.4 586.0,47.1 603.5,48.2 610.4,43.6 617.4,50.6 629.0,43.6 631.0,45.9 640.6,48.2 646.4,44.7 675.4,45.9 687.0,42.4 692.8,48.2 699.3,38.9 705.2,47.1" fill="none" stroke="#222" stroke-width="0.6" stroke-linejoin="round"/><polyline points="419.6,59.8 426.6,58.7 438.2,41.3 444.0,56.4 461.5,57.5 467.3,64.5 473.1,43.6 480.0,69.1 489.0,58.7 491.8,58.7 509.2,65.7 515.0,58.7 520.8,64.5 538.3,59.8 544.1,45.9 557.0,56.4 560.0,56.4 568.6,61.0 574.3,38.9 586.0,57.5 591.8,65.7 610.4,51.7 620.9,68.0 629.0,55.2 631.0,55.2 640.6,62.2 652.2,54.0 658.0,58.7 675.4,56.4 681.2,58.7 687.0,47.1 692.8,61.0 699.3,45.9 705.2,64.5" fill="none" stroke="#222" stroke-width="0.6" stroke-linejoin="round"/></g>
<line x1="122.2" y1="29.4" x2="401.85" y2="29.4" stroke="#111" stroke-width="1.4"/>
<line x1="419.6" y1="29.4" x2="705.2" y2="29.4" stroke="#111" stroke-width="1.4"/>
<line x1="122.2" y1="111.0" x2="401.85" y2="111.0" stroke="#111" stroke-width="1.0"/>
<line x1="419.6" y1="111.0" x2="705.2" y2="111.0" stroke="#111" stroke-width="1.0"/>
<line x1="118.7" y1="25.3" x2="118.7" y2="115.69999999999999" stroke="#000" stroke-width="1.2"/>
<line x1="118.10000000000001" y1="115.1" x2="405.5" y2="115.1" stroke="#000" stroke-width="1.2"/>
<line x1="416.0" y1="115.1" x2="708.6" y2="115.1" stroke="#000" stroke-width="1.2"/>
<line x1="113.2" y1="29.40" x2="118.7" y2="29.40" stroke="#000" stroke-width="1.2"/>
<text x="108.4" y="32.30" font-size="8" text-anchor="end" fill="#333333" stroke="#333333" stroke-width="0.22">1.00</text>
<line x1="113.2" y1="49.80" x2="118.7" y2="49.80" stroke="#000" stroke-width="1.2"/>
<text x="108.4" y="52.70" font-size="8" text-anchor="end" fill="#333333" stroke="#333333" stroke-width="0.22">0.75</text>
<line x1="113.2" y1="70.20" x2="118.7" y2="70.20" stroke="#000" stroke-width="1.2"/>
<text x="108.4" y="73.10" font-size="8" text-anchor="end" fill="#333333" stroke="#333333" stroke-width="0.22">0.50</text>
<line x1="113.2" y1="90.60" x2="118.7" y2="90.60" stroke="#000" stroke-width="1.2"/>
<text x="108.4" y="93.50" font-size="8" text-anchor="end" fill="#333333" stroke="#333333" stroke-width="0.22">0.25</text>
<line x1="113.2" y1="111.00" x2="118.7" y2="111.00" stroke="#000" stroke-width="1.2"/>
<text x="108.4" y="113.90" font-size="8" text-anchor="end" fill="#333333" stroke="#333333" stroke-width="0.22">0.00</text>
<text transform="translate(71.6,70) rotate(-90)" font-size="11" text-anchor="middle" fill="#1a1a1a" stroke="#1a1a1a" stroke-width="0.22">Relative</text>
<text transform="translate(83.4,70) rotate(-90)" font-size="11" text-anchor="middle" fill="#1a1a1a" stroke="#1a1a1a" stroke-width="0.22">abundance</text>
<line x1="122.20" y1="115.1" x2="122.20" y2="120.6" stroke="#000" stroke-width="1.3"/>
<text transform="translate(125.00,126.0) rotate(-90)" font-size="7.8" text-anchor="end" fill="#111" stroke="#111" stroke-width="0.22">−28</text>
<line x1="128.15" y1="115.1" x2="128.15" y2="120.6" stroke="#000" stroke-width="1.3"/>
<text transform="translate(130.95,126.0) rotate(-90)" font-size="7.8" text-anchor="end" fill="#111" stroke="#111" stroke-width="0.22">−21</text>
<line x1="134.10" y1="115.1" x2="134.10" y2="120.6" stroke="#000" stroke-width="1.3"/>
<text transform="translate(136.90,126.0) rotate(-90)" font-size="7.8" text-anchor="end" fill="#111" stroke="#111" stroke-width="0.22">−14</text>
<line x1="140.05" y1="115.1" x2="140.05" y2="120.6" stroke="#000" stroke-width="1.3"/>
<text transform="translate(142.85,126.0) rotate(-90)" font-size="7.8" text-anchor="end" fill="#111" stroke="#111" stroke-width="0.22">−7</text>
<line x1="146.00" y1="115.1" x2="146.00" y2="120.6" stroke="#000" stroke-width="1.3"/>
<text transform="translate(148.80,126.0) rotate(-90)" font-size="7.8" text-anchor="end" fill="#111" stroke="#111" stroke-width="0.22">−6</text>
<line x1="151.95" y1="115.1" x2="151.95" y2="120.6" stroke="#000" stroke-width="1.3"/>
<text transform="translate(154.75,126.0) rotate(-90)" font-size="7.8" text-anchor="end" fill="#111" stroke="#111" stroke-width="0.22">−5</text>
<line x1="157.90" y1="115.1" x2="157.90" y2="120.6" stroke="#000" stroke-width="1.3"/>
<text transform="translate(160.70,126.0) rotate(-90)" font-size="7.8" text-anchor="end" fill="#111" stroke="#111" stroke-width="0.22">−4</text>
<line x1="163.85" y1="115.1" x2="163.85" y2="120.6" stroke="#000" stroke-width="1.3"/>
<text transform="translate(166.65,126.0) rotate(-90)" font-size="7.8" text-anchor="end" fill="#111" stroke="#111" stroke-width="0.22">−3</text>
<line x1="169.80" y1="115.1" x2="169.80" y2="120.6" stroke="#000" stroke-width="1.3"/>
<text transform="translate(172.60,126.0) rotate(-90)" font-size="7.8" text-anchor="end" fill="#111" stroke="#111" stroke-width="0.22">−2</text>
<line x1="175.75" y1="115.1" x2="175.75" y2="120.6" stroke="#000" stroke-width="1.3"/>
<text transform="translate(178.55,126.0) rotate(-90)" font-size="7.8" text-anchor="end" fill="#111" stroke="#111" stroke-width="0.22">−1</text>
<line x1="181.70" y1="115.1" x2="181.70" y2="120.6" stroke="#000" stroke-width="1.3"/>
<text transform="translate(184.50,126.0) rotate(-90)" font-size="7.8" text-anchor="end" fill="#111" stroke="#111" stroke-width="0.22">0</text>
<line x1="187.65" y1="115.1" x2="187.65" y2="120.6" stroke="#000" stroke-width="1.3"/>
<text transform="translate(190.45,126.0) rotate(-90)" font-size="7.8" text-anchor="end" fill="#111" stroke="#111" stroke-width="0.22">1</text>
<line x1="193.60" y1="115.1" x2="193.60" y2="120.6" stroke="#000" stroke-width="1.3"/>
<text transform="translate(196.40,126.0) rotate(-90)" font-size="7.8" text-anchor="end" fill="#111" stroke="#111" stroke-width="0.22">7</text>
<line x1="199.55" y1="115.1" x2="199.55" y2="120.6" stroke="#000" stroke-width="1.3"/>
<text transform="translate(202.35,126.0) rotate(-90)" font-size="7.8" text-anchor="end" fill="#111" stroke="#111" stroke-width="0.22">8</text>
<line x1="205.50" y1="115.1" x2="205.50" y2="120.6" stroke="#000" stroke-width="1.3"/>
<text transform="translate(208.30,126.0) rotate(-90)" font-size="7.8" text-anchor="end" fill="#111" stroke="#111" stroke-width="0.22">10</text>
<line x1="211.45" y1="115.1" x2="211.45" y2="120.6" stroke="#000" stroke-width="1.3"/>
<text transform="translate(214.25,126.0) rotate(-90)" font-size="7.8" text-anchor="end" fill="#111" stroke="#111" stroke-width="0.22">15</text>
<line x1="217.40" y1="115.1" x2="217.40" y2="120.6" stroke="#000" stroke-width="1.3"/>
<text transform="translate(220.20,126.0) rotate(-90)" font-size="7.8" text-anchor="end" fill="#111" stroke="#111" stroke-width="0.22">22</text>
<line x1="223.35" y1="115.1" x2="223.35" y2="120.6" stroke="#000" stroke-width="1.3"/>
<text transform="translate(226.15,126.0) rotate(-90)" font-size="7.8" text-anchor="end" fill="#111" stroke="#111" stroke-width="0.22">29</text>
<line x1="229.30" y1="115.1" x2="229.30" y2="120.6" stroke="#000" stroke-width="1.3"/>
<text transform="translate(232.10,126.0) rotate(-90)" font-size="7.8" text-anchor="end" fill="#111" stroke="#111" stroke-width="0.22">36</text>
<line x1="235.25" y1="115.1" x2="235.25" y2="120.6" stroke="#000" stroke-width="1.3"/>
<text transform="translate(238.05,126.0) rotate(-90)" font-size="7.8" text-anchor="end" fill="#111" stroke="#111" stroke-width="0.22">57</text>
<line x1="241.20" y1="115.1" x2="241.20" y2="120.6" stroke="#000" stroke-width="1.3"/>
<text transform="translate(244.00,126.0) rotate(-90)" font-size="7.8" text-anchor="end" fill="#111" stroke="#111" stroke-width="0.22">85</text>
<line x1="247.15" y1="115.1" x2="247.15" y2="120.6" stroke="#000" stroke-width="1.3"/>
<text transform="translate(249.95,126.0) rotate(-90)" font-size="7.8" text-anchor="end" fill="#111" stroke="#111" stroke-width="0.22">106</text>
<line x1="253.10" y1="115.1" x2="253.10" y2="120.6" stroke="#000" stroke-width="1.3"/>
<text transform="translate(255.90,126.0) rotate(-90)" font-size="7.8" text-anchor="end" fill="#111" stroke="#111" stroke-width="0.22">135</text>
<line x1="259.05" y1="115.1" x2="259.05" y2="120.6" stroke="#000" stroke-width="1.3"/>
<text transform="translate(261.85,126.0) rotate(-90)" font-size="7.8" text-anchor="end" fill="#111" stroke="#111" stroke-width="0.22">165</text>
<line x1="265.00" y1="115.1" x2="265.00" y2="120.6" stroke="#000" stroke-width="1.3"/>
<text transform="translate(267.80,126.0) rotate(-90)" font-size="7.8" text-anchor="end" fill="#111" stroke="#111" stroke-width="0.22">195</text>
<line x1="270.95" y1="115.1" x2="270.95" y2="120.6" stroke="#000" stroke-width="1.3"/>
<text transform="translate(273.75,126.0) rotate(-90)" font-size="7.8" text-anchor="end" fill="#111" stroke="#111" stroke-width="0.22">225</text>
<line x1="276.90" y1="115.1" x2="276.90" y2="120.6" stroke="#000" stroke-width="1.3"/>
<text transform="translate(279.70,126.0) rotate(-90)" font-size="7.8" text-anchor="end" fill="#111" stroke="#111" stroke-width="0.22">255</text>
<line x1="282.85" y1="115.1" x2="282.85" y2="120.6" stroke="#000" stroke-width="1.3"/>
<text transform="translate(285.65,126.0) rotate(-90)" font-size="7.8" text-anchor="end" fill="#111" stroke="#111" stroke-width="0.22">284</text>
<line x1="288.80" y1="115.1" x2="288.80" y2="120.6" stroke="#000" stroke-width="1.3"/>
<text transform="translate(291.60,126.0) rotate(-90)" font-size="7.8" text-anchor="end" fill="#111" stroke="#111" stroke-width="0.22">314</text>
<line x1="294.75" y1="115.1" x2="294.75" y2="120.6" stroke="#000" stroke-width="1.3"/>
<text transform="translate(297.55,126.0) rotate(-90)" font-size="7.8" text-anchor="end" fill="#111" stroke="#111" stroke-width="0.22">344</text>
<line x1="300.70" y1="115.1" x2="300.70" y2="120.6" stroke="#000" stroke-width="1.3"/>
<text transform="translate(303.50,126.0) rotate(-90)" font-size="7.8" text-anchor="end" fill="#111" stroke="#111" stroke-width="0.22">374</text>
<line x1="306.65" y1="115.1" x2="306.65" y2="120.6" stroke="#000" stroke-width="1.3"/>
<text transform="translate(309.45,126.0) rotate(-90)" font-size="7.8" text-anchor="end" fill="#111" stroke="#111" stroke-width="0.22">404</text>
<line x1="312.60" y1="115.1" x2="312.60" y2="120.6" stroke="#000" stroke-width="1.3"/>
<text transform="translate(315.40,126.0) rotate(-90)" font-size="7.8" text-anchor="end" fill="#111" stroke="#111" stroke-width="0.22">433</text>
<line x1="318.55" y1="115.1" x2="318.55" y2="120.6" stroke="#000" stroke-width="1.3"/>
<text transform="translate(321.35,126.0) rotate(-90)" font-size="7.8" text-anchor="end" fill="#111" stroke="#111" stroke-width="0.22">463</text>
<line x1="324.50" y1="115.1" x2="324.50" y2="120.6" stroke="#000" stroke-width="1.3"/>
<text transform="translate(327.30,126.0) rotate(-90)" font-size="7.8" text-anchor="end" fill="#111" stroke="#111" stroke-width="0.22">493</text>
<line x1="330.45" y1="115.1" x2="330.45" y2="120.6" stroke="#000" stroke-width="1.3"/>
<text transform="translate(333.25,126.0) rotate(-90)" font-size="7.8" text-anchor="end" fill="#111" stroke="#111" stroke-width="0.22">523</text>
<line x1="336.40" y1="115.1" x2="336.40" y2="120.6" stroke="#000" stroke-width="1.3"/>
<text transform="translate(339.20,126.0) rotate(-90)" font-size="7.8" text-anchor="end" fill="#111" stroke="#111" stroke-width="0.22">553</text>
<line x1="342.35" y1="115.1" x2="342.35" y2="120.6" stroke="#000" stroke-width="1.3"/>
<text transform="translate(345.15,126.0) rotate(-90)" font-size="7.8" text-anchor="end" fill="#111" stroke="#111" stroke-width="0.22">582</text>
<line x1="348.30" y1="115.1" x2="348.30" y2="120.6" stroke="#000" stroke-width="1.3"/>
<text transform="translate(351.10,126.0) rotate(-90)" font-size="7.8" text-anchor="end" fill="#111" stroke="#111" stroke-width="0.22">612</text>
<line x1="354.25" y1="115.1" x2="354.25" y2="120.6" stroke="#000" stroke-width="1.3"/>
<text transform="translate(357.05,126.0) rotate(-90)" font-size="7.8" text-anchor="end" fill="#111" stroke="#111" stroke-width="0.22">642</text>
<line x1="360.20" y1="115.1" x2="360.20" y2="120.6" stroke="#000" stroke-width="1.3"/>
<text transform="translate(363.00,126.0) rotate(-90)" font-size="7.8" text-anchor="end" fill="#111" stroke="#111" stroke-width="0.22">672</text>
<line x1="366.15" y1="115.1" x2="366.15" y2="120.6" stroke="#000" stroke-width="1.3"/>
<text transform="translate(368.95,126.0) rotate(-90)" font-size="7.8" text-anchor="end" fill="#111" stroke="#111" stroke-width="0.22">702</text>
<line x1="372.10" y1="115.1" x2="372.10" y2="120.6" stroke="#000" stroke-width="1.3"/>
<text transform="translate(374.90,126.0) rotate(-90)" font-size="7.8" text-anchor="end" fill="#111" stroke="#111" stroke-width="0.22">731</text>
<line x1="378.05" y1="115.1" x2="378.05" y2="120.6" stroke="#000" stroke-width="1.3"/>
<text transform="translate(380.85,126.0) rotate(-90)" font-size="7.8" text-anchor="end" fill="#111" stroke="#111" stroke-width="0.22">761</text>
<line x1="384.00" y1="115.1" x2="384.00" y2="120.6" stroke="#000" stroke-width="1.3"/>
<text transform="translate(386.80,126.0) rotate(-90)" font-size="7.8" text-anchor="end" fill="#111" stroke="#111" stroke-width="0.22">791</text>
<line x1="389.95" y1="115.1" x2="389.95" y2="120.6" stroke="#000" stroke-width="1.3"/>
<text transform="translate(392.75,126.0) rotate(-90)" font-size="7.8" text-anchor="end" fill="#111" stroke="#111" stroke-width="0.22">821</text>
<line x1="395.90" y1="115.1" x2="395.90" y2="120.6" stroke="#000" stroke-width="1.3"/>
<text transform="translate(398.70,126.0) rotate(-90)" font-size="7.8" text-anchor="end" fill="#111" stroke="#111" stroke-width="0.22">851</text>
<line x1="401.85" y1="115.1" x2="401.85" y2="120.6" stroke="#000" stroke-width="1.3"/>
<text transform="translate(404.65,126.0) rotate(-90)" font-size="7.8" text-anchor="end" fill="#111" stroke="#111" stroke-width="0.22">881</text>
<line x1="419.60" y1="115.1" x2="419.60" y2="120.6" stroke="#000" stroke-width="1.3"/>
<text transform="translate(422.40,126.0) rotate(-90)" font-size="7.8" text-anchor="end" fill="#111" stroke="#111" stroke-width="0.22">−28</text>
<line x1="425.55" y1="115.1" x2="425.55" y2="120.6" stroke="#000" stroke-width="1.3"/>
<text transform="translate(428.35,126.0) rotate(-90)" font-size="7.8" text-anchor="end" fill="#111" stroke="#111" stroke-width="0.22">0</text>
<line x1="431.50" y1="115.1" x2="431.50" y2="120.6" stroke="#000" stroke-width="1.3"/>
<text transform="translate(434.30,126.0) rotate(-90)" font-size="7.8" text-anchor="end" fill="#111" stroke="#111" stroke-width="0.22">3</text>
<line x1="437.45" y1="115.1" x2="437.45" y2="120.6" stroke="#000" stroke-width="1.3"/>
<text transform="translate(440.25,126.0) rotate(-90)" font-size="7.8" text-anchor="end" fill="#111" stroke="#111" stroke-width="0.22">7</text>
<line x1="443.40" y1="115.1" x2="443.40" y2="120.6" stroke="#000" stroke-width="1.3"/>
<text transform="translate(446.20,126.0) rotate(-90)" font-size="7.8" text-anchor="end" fill="#111" stroke="#111" stroke-width="0.22">14</text>
<line x1="449.35" y1="115.1" x2="449.35" y2="120.6" stroke="#000" stroke-width="1.3"/>
<text transform="translate(452.15,126.0) rotate(-90)" font-size="7.8" text-anchor="end" fill="#111" stroke="#111" stroke-width="0.22">29</text>
<line x1="455.30" y1="115.1" x2="455.30" y2="120.6" stroke="#000" stroke-width="1.3"/>
<text transform="translate(458.10,126.0) rotate(-90)" font-size="7.8" text-anchor="end" fill="#111" stroke="#111" stroke-width="0.22">57</text>
<line x1="461.25" y1="115.1" x2="461.25" y2="120.6" stroke="#000" stroke-width="1.3"/>
<text transform="translate(464.05,126.0) rotate(-90)" font-size="7.8" text-anchor="end" fill="#111" stroke="#111" stroke-width="0.22">106</text>
<line x1="467.20" y1="115.1" x2="467.20" y2="120.6" stroke="#000" stroke-width="1.3"/>
<text transform="translate(470.00,126.0) rotate(-90)" font-size="7.8" text-anchor="end" fill="#111" stroke="#111" stroke-width="0.22">124</text>
<line x1="473.15" y1="115.1" x2="473.15" y2="120.6" stroke="#000" stroke-width="1.3"/>
<text transform="translate(475.95,126.0) rotate(-90)" font-size="7.8" text-anchor="end" fill="#111" stroke="#111" stroke-width="0.22">143</text>
<line x1="479.10" y1="115.1" x2="479.10" y2="120.6" stroke="#000" stroke-width="1.3"/>
<text transform="translate(481.90,126.0) rotate(-90)" font-size="7.8" text-anchor="end" fill="#111" stroke="#111" stroke-width="0.22">161</text>
<line x1="485.05" y1="115.1" x2="485.05" y2="120.6" stroke="#000" stroke-width="1.3"/>
<text transform="translate(487.85,126.0) rotate(-90)" font-size="7.8" text-anchor="end" fill="#111" stroke="#111" stroke-width="0.22">180</text>
<line x1="491.00" y1="115.1" x2="491.00" y2="120.6" stroke="#000" stroke-width="1.3"/>
<text transform="translate(493.80,126.0) rotate(-90)" font-size="7.8" text-anchor="end" fill="#111" stroke="#111" stroke-width="0.22">199</text>
<line x1="496.95" y1="115.1" x2="496.95" y2="120.6" stroke="#000" stroke-width="1.3"/>
<text transform="translate(499.75,126.0) rotate(-90)" font-size="7.8" text-anchor="end" fill="#111" stroke="#111" stroke-width="0.22">217</text>
<line x1="502.90" y1="115.1" x2="502.90" y2="120.6" stroke="#000" stroke-width="1.3"/>
<text transform="translate(505.70,126.0) rotate(-90)" font-size="7.8" text-anchor="end" fill="#111" stroke="#111" stroke-width="0.22">236</text>
<line x1="508.85" y1="115.1" x2="508.85" y2="120.6" stroke="#000" stroke-width="1.3"/>
<text transform="translate(511.65,126.0) rotate(-90)" font-size="7.8" text-anchor="end" fill="#111" stroke="#111" stroke-width="0.22">255</text>
<line x1="514.80" y1="115.1" x2="514.80" y2="120.6" stroke="#000" stroke-width="1.3"/>
<text transform="translate(517.60,126.0) rotate(-90)" font-size="7.8" text-anchor="end" fill="#111" stroke="#111" stroke-width="0.22">273</text>
<line x1="520.75" y1="115.1" x2="520.75" y2="120.6" stroke="#000" stroke-width="1.3"/>
<text transform="translate(523.55,126.0) rotate(-90)" font-size="7.8" text-anchor="end" fill="#111" stroke="#111" stroke-width="0.22">292</text>
<line x1="526.70" y1="115.1" x2="526.70" y2="120.6" stroke="#000" stroke-width="1.3"/>
<text transform="translate(529.50,126.0) rotate(-90)" font-size="7.8" text-anchor="end" fill="#111" stroke="#111" stroke-width="0.22">311</text>
<line x1="532.65" y1="115.1" x2="532.65" y2="120.6" stroke="#000" stroke-width="1.3"/>
<text transform="translate(535.45,126.0) rotate(-90)" font-size="7.8" text-anchor="end" fill="#111" stroke="#111" stroke-width="0.22">329</text>
<line x1="538.60" y1="115.1" x2="538.60" y2="120.6" stroke="#000" stroke-width="1.3"/>
<text transform="translate(541.40,126.0) rotate(-90)" font-size="7.8" text-anchor="end" fill="#111" stroke="#111" stroke-width="0.22">348</text>
<line x1="544.55" y1="115.1" x2="544.55" y2="120.6" stroke="#000" stroke-width="1.3"/>
<text transform="translate(547.35,126.0) rotate(-90)" font-size="7.8" text-anchor="end" fill="#111" stroke="#111" stroke-width="0.22">367</text>
<line x1="550.50" y1="115.1" x2="550.50" y2="120.6" stroke="#000" stroke-width="1.3"/>
<text transform="translate(553.30,126.0) rotate(-90)" font-size="7.8" text-anchor="end" fill="#111" stroke="#111" stroke-width="0.22">385</text>
<line x1="556.45" y1="115.1" x2="556.45" y2="120.6" stroke="#000" stroke-width="1.3"/>
<text transform="translate(559.25,126.0) rotate(-90)" font-size="7.8" text-anchor="end" fill="#111" stroke="#111" stroke-width="0.22">404</text>
<line x1="562.40" y1="115.1" x2="562.40" y2="120.6" stroke="#000" stroke-width="1.3"/>
<text transform="translate(565.20,126.0) rotate(-90)" font-size="7.8" text-anchor="end" fill="#111" stroke="#111" stroke-width="0.22">423</text>
<line x1="568.35" y1="115.1" x2="568.35" y2="120.6" stroke="#000" stroke-width="1.3"/>
<text transform="translate(571.15,126.0) rotate(-90)" font-size="7.8" text-anchor="end" fill="#111" stroke="#111" stroke-width="0.22">441</text>
<line x1="574.30" y1="115.1" x2="574.30" y2="120.6" stroke="#000" stroke-width="1.3"/>
<text transform="translate(577.10,126.0) rotate(-90)" font-size="7.8" text-anchor="end" fill="#111" stroke="#111" stroke-width="0.22">460</text>
<line x1="580.25" y1="115.1" x2="580.25" y2="120.6" stroke="#000" stroke-width="1.3"/>
<text transform="translate(583.05,126.0) rotate(-90)" font-size="7.8" text-anchor="end" fill="#111" stroke="#111" stroke-width="0.22">479</text>
<line x1="586.20" y1="115.1" x2="586.20" y2="120.6" stroke="#000" stroke-width="1.3"/>
<text transform="translate(589.00,126.0) rotate(-90)" font-size="7.8" text-anchor="end" fill="#111" stroke="#111" stroke-width="0.22">497</text>
<line x1="592.15" y1="115.1" x2="592.15" y2="120.6" stroke="#000" stroke-width="1.3"/>
<text transform="translate(594.95,126.0) rotate(-90)" font-size="7.8" text-anchor="end" fill="#111" stroke="#111" stroke-width="0.22">516</text>
<line x1="598.10" y1="115.1" x2="598.10" y2="120.6" stroke="#000" stroke-width="1.3"/>
<text transform="translate(600.90,126.0) rotate(-90)" font-size="7.8" text-anchor="end" fill="#111" stroke="#111" stroke-width="0.22">535</text>
<line x1="604.05" y1="115.1" x2="604.05" y2="120.6" stroke="#000" stroke-width="1.3"/>
<text transform="translate(606.85,126.0) rotate(-90)" font-size="7.8" text-anchor="end" fill="#111" stroke="#111" stroke-width="0.22">553</text>
<line x1="610.00" y1="115.1" x2="610.00" y2="120.6" stroke="#000" stroke-width="1.3"/>
<text transform="translate(612.80,126.0) rotate(-90)" font-size="7.8" text-anchor="end" fill="#111" stroke="#111" stroke-width="0.22">572</text>
<line x1="615.95" y1="115.1" x2="615.95" y2="120.6" stroke="#000" stroke-width="1.3"/>
<text transform="translate(618.75,126.0) rotate(-90)" font-size="7.8" text-anchor="end" fill="#111" stroke="#111" stroke-width="0.22">591</text>
<line x1="621.90" y1="115.1" x2="621.90" y2="120.6" stroke="#000" stroke-width="1.3"/>
<text transform="translate(624.70,126.0) rotate(-90)" font-size="7.8" text-anchor="end" fill="#111" stroke="#111" stroke-width="0.22">609</text>
<line x1="627.85" y1="115.1" x2="627.85" y2="120.6" stroke="#000" stroke-width="1.3"/>
<text transform="translate(630.65,126.0) rotate(-90)" font-size="7.8" text-anchor="end" fill="#111" stroke="#111" stroke-width="0.22">628</text>
<line x1="633.80" y1="115.1" x2="633.80" y2="120.6" stroke="#000" stroke-width="1.3"/>
<text transform="translate(636.60,126.0) rotate(-90)" font-size="7.8" text-anchor="end" fill="#111" stroke="#111" stroke-width="0.22">647</text>
<line x1="639.75" y1="115.1" x2="639.75" y2="120.6" stroke="#000" stroke-width="1.3"/>
<text transform="translate(642.55,126.0) rotate(-90)" font-size="7.8" text-anchor="end" fill="#111" stroke="#111" stroke-width="0.22">665</text>
<line x1="645.70" y1="115.1" x2="645.70" y2="120.6" stroke="#000" stroke-width="1.3"/>
<text transform="translate(648.50,126.0) rotate(-90)" font-size="7.8" text-anchor="end" fill="#111" stroke="#111" stroke-width="0.22">684</text>
<line x1="651.65" y1="115.1" x2="651.65" y2="120.6" stroke="#000" stroke-width="1.3"/>
<text transform="translate(654.45,126.0) rotate(-90)" font-size="7.8" text-anchor="end" fill="#111" stroke="#111" stroke-width="0.22">703</text>
<line x1="657.60" y1="115.1" x2="657.60" y2="120.6" stroke="#000" stroke-width="1.3"/>
<text transform="translate(660.40,126.0) rotate(-90)" font-size="7.8" text-anchor="end" fill="#111" stroke="#111" stroke-width="0.22">721</text>
<line x1="663.55" y1="115.1" x2="663.55" y2="120.6" stroke="#000" stroke-width="1.3"/>
<text transform="translate(666.35,126.0) rotate(-90)" font-size="7.8" text-anchor="end" fill="#111" stroke="#111" stroke-width="0.22">740</text>
<line x1="669.50" y1="115.1" x2="669.50" y2="120.6" stroke="#000" stroke-width="1.3"/>
<text transform="translate(672.30,126.0) rotate(-90)" font-size="7.8" text-anchor="end" fill="#111" stroke="#111" stroke-width="0.22">759</text>
<line x1="675.45" y1="115.1" x2="675.45" y2="120.6" stroke="#000" stroke-width="1.3"/>
<text transform="translate(678.25,126.0) rotate(-90)" font-size="7.8" text-anchor="end" fill="#111" stroke="#111" stroke-width="0.22">777</text>
<line x1="681.40" y1="115.1" x2="681.40" y2="120.6" stroke="#000" stroke-width="1.3"/>
<text transform="translate(684.20,126.0) rotate(-90)" font-size="7.8" text-anchor="end" fill="#111" stroke="#111" stroke-width="0.22">796</text>
<line x1="687.35" y1="115.1" x2="687.35" y2="120.6" stroke="#000" stroke-width="1.3"/>
<text transform="translate(690.15,126.0) rotate(-90)" font-size="7.8" text-anchor="end" fill="#111" stroke="#111" stroke-width="0.22">815</text>
<line x1="693.30" y1="115.1" x2="693.30" y2="120.6" stroke="#000" stroke-width="1.3"/>
<text transform="translate(696.10,126.0) rotate(-90)" font-size="7.8" text-anchor="end" fill="#111" stroke="#111" stroke-width="0.22">833</text>
<line x1="699.25" y1="115.1" x2="699.25" y2="120.6" stroke="#000" stroke-width="1.3"/>
<text transform="translate(702.05,126.0) rotate(-90)" font-size="7.8" text-anchor="end" fill="#111" stroke="#111" stroke-width="0.22">852</text>
<line x1="705.20" y1="115.1" x2="705.20" y2="120.6" stroke="#000" stroke-width="1.3"/>
<text transform="translate(708.00,126.0) rotate(-90)" font-size="7.8" text-anchor="end" fill="#111" stroke="#111" stroke-width="0.22">871</text>
<text x="413.5" y="153.1" font-size="11" text-anchor="middle" fill="#1a1a1a" stroke="#1a1a1a" stroke-width="0.22">Study day</text>
<text x="708.4" y="35.6" font-size="11" fill="#1a1a1a" stroke="#1a1a1a" stroke-width="0.22">Family</text>
<rect x="708.6" y="43.40" width="6.4" height="7.46" fill="#474747" stroke="#fff" stroke-width="0.4"/>
<text x="721" y="49.93" font-size="8" fill="#333333" stroke="#333333" stroke-width="0.22">Unknown</text>
<rect x="708.6" y="50.86" width="6.4" height="7.46" fill="#d5274a" stroke="#fff" stroke-width="0.4"/>
<text x="721" y="57.39" font-size="8" fill="#333333" stroke="#333333" stroke-width="0.22">Bacteroidaceae</text>
<rect x="708.6" y="58.32" width="6.4" height="7.46" fill="#df3b45" stroke="#fff" stroke-width="0.4"/>
<text x="721" y="64.85" font-size="8" fill="#333333" stroke="#333333" stroke-width="0.22">Bifidobacteriaceae</text>
<rect x="708.6" y="65.78" width="6.4" height="7.46" fill="#fdd37c" stroke="#fff" stroke-width="0.4"/>
<text x="721" y="72.31" font-size="8" fill="#333333" stroke="#333333" stroke-width="0.22">Eubacteriaceae</text>
<rect x="708.6" y="73.24" width="6.4" height="7.46" fill="#fdf2a5" stroke="#fff" stroke-width="0.4"/>
<text x="721" y="79.77" font-size="8" fill="#333333" stroke="#333333" stroke-width="0.22">Lachnospiraceae</text>
<rect x="708.6" y="80.70" width="6.4" height="7.46" fill="#eef5a0" stroke="#fff" stroke-width="0.4"/>
<text x="721" y="87.23" font-size="8" fill="#333333" stroke="#333333" stroke-width="0.22">Oscillospiraceae</text>
<rect x="708.6" y="88.16" width="6.4" height="7.46" fill="#9fd8a6" stroke="#fff" stroke-width="0.4"/>
<text x="721" y="94.69" font-size="8" fill="#333333" stroke="#333333" stroke-width="0.22">Porphyromonadaceae</text>
<rect x="708.6" y="95.62" width="6.4" height="7.46" fill="#79cda6" stroke="#fff" stroke-width="0.4"/>
<text x="721" y="102.15" font-size="8" fill="#333333" stroke="#333333" stroke-width="0.22">Prevotellaceae</text>
<rect x="708.6" y="103.08" width="6.4" height="7.46" fill="#56bfa8" stroke="#fff" stroke-width="0.4"/>
<text x="721" y="109.61" font-size="8" fill="#333333" stroke="#333333" stroke-width="0.22">Rikenellaceae</text>
<rect x="708.6" y="110.54" width="6.4" height="7.46" fill="#4aa9bd" stroke="#fff" stroke-width="0.4"/>
<text x="721" y="117.07" font-size="8" fill="#333333" stroke="#333333" stroke-width="0.22">Ruminococcaceae</text>
<text x="0.6" y="167.8" font-size="15" font-weight="bold" fill="#000">b</text>
<text x="262" y="189.6" font-size="8" text-anchor="middle" fill="#1a1a1a" stroke="#1a1a1a" stroke-width="0.22">XBA</text>
<text x="562.5" y="189.6" font-size="8" text-anchor="middle" fill="#1a1a1a" stroke="#1a1a1a" stroke-width="0.22">XBB</text>
<rect x="119.1" y="196.1" width="285.46" height="536.40" fill="#7f7f7f"/>
<rect x="416.9" y="196.1" width="291.40" height="536.40" fill="#7f7f7f"/>
<path fill="#e24d66" d="M119.10 196.10h6.20v9.19h-6.20zM125.05 196.10h6.20v9.19h-6.20zM130.99 196.10h6.20v9.19h-6.20zM154.78 196.10h6.20v9.19h-6.20zM160.73 196.10h6.20v9.19h-6.20zM166.68 196.10h6.20v9.19h-6.20zM172.62 196.10h6.20v9.19h-6.20zM178.57 196.10h6.20v9.19h-6.20zM392.66 196.10h6.20v9.19h-6.20zM398.61 196.10h6.20v9.19h-6.20zM297.51 205.04h6.20v9.19h-6.20zM303.46 205.04h6.20v9.19h-6.20zM309.40 205.04h6.20v9.19h-6.20zM339.14 205.04h6.20v9.19h-6.20zM345.09 205.04h6.20v9.19h-6.20zM356.98 205.04h6.20v9.19h-6.20zM362.93 205.04h6.20v9.19h-6.20zM125.05 213.98h6.20v9.19h-6.20zM154.78 213.98h6.20v9.19h-6.20zM160.73 213.98h6.20v9.19h-6.20zM238.04 222.92h6.20v9.19h-6.20zM243.99 222.92h6.20v9.19h-6.20zM249.93 222.92h6.20v9.19h-6.20zM261.83 222.92h6.20v9.19h-6.20zM267.77 222.92h6.20v9.19h-6.20zM291.56 222.92h6.20v9.19h-6.20zM297.51 222.92h6.20v9.19h-6.20zM303.46 222.92h6.20v9.19h-6.20zM309.40 222.92h6.20v9.19h-6.20zM315.35 222.92h6.20v9.19h-6.20zM339.14 222.92h6.20v9.19h-6.20zM345.09 222.92h6.20v9.19h-6.20zM356.98 222.92h6.20v9.19h-6.20zM386.72 222.92h6.20v9.19h-6.20zM392.66 222.92h6.20v9.19h-6.20zM148.83 231.86h6.20v9.19h-6.20zM125.05 240.80h6.20v9.19h-6.20zM130.99 240.80h6.20v9.19h-6.20zM148.83 240.80h6.20v9.19h-6.20zM184.52 240.80h6.20v9.19h-6.20zM202.36 240.80h6.20v9.19h-6.20zM208.31 240.80h6.20v9.19h-6.20zM297.51 240.80h6.20v9.19h-6.20zM327.25 240.80h6.20v9.19h-6.20zM339.14 240.80h6.20v9.19h-6.20zM154.78 249.74h6.20v9.19h-6.20zM160.73 249.74h6.20v9.19h-6.20zM178.57 249.74h6.20v9.19h-6.20zM315.35 249.74h6.20v9.19h-6.20zM333.19 249.74h6.20v9.19h-6.20zM345.09 249.74h6.20v9.19h-6.20zM351.03 249.74h6.20v9.19h-6.20zM356.98 249.74h6.20v9.19h-6.20zM374.82 249.74h6.20v9.19h-6.20zM380.77 249.74h6.20v9.19h-6.20zM119.10 258.68h6.20v9.19h-6.20zM130.99 258.68h6.20v9.19h-6.20zM214.25 258.68h6.20v9.19h-6.20zM226.15 258.68h6.20v9.19h-6.20zM261.83 258.68h6.20v9.19h-6.20zM267.77 258.68h6.20v9.19h-6.20zM297.51 258.68h6.20v9.19h-6.20zM321.30 258.68h6.20v9.19h-6.20zM339.14 258.68h6.20v9.19h-6.20zM351.03 258.68h6.20v9.19h-6.20zM356.98 258.68h6.20v9.19h-6.20zM398.61 267.62h6.20v9.19h-6.20zM130.99 276.56h6.20v9.19h-6.20zM136.94 276.56h6.20v9.19h-6.20zM142.89 276.56h6.20v9.19h-6.20zM148.83 276.56h6.20v9.19h-6.20zM154.78 276.56h6.20v9.19h-6.20zM160.73 276.56h6.20v9.19h-6.20zM166.68 276.56h6.20v9.19h-6.20zM172.62 276.56h6.20v9.19h-6.20zM178.57 276.56h6.20v9.19h-6.20zM184.52 276.56h6.20v9.19h-6.20zM214.25 276.56h6.20v9.19h-6.20zM249.93 285.50h6.20v9.19h-6.20zM226.15 294.44h6.20v9.19h-6.20zM297.51 294.44h6.20v9.19h-6.20zM303.46 294.44h6.20v9.19h-6.20zM214.25 303.38h6.20v9.19h-6.20zM226.15 303.38h6.20v9.19h-6.20zM279.67 303.38h6.20v9.19h-6.20zM285.62 303.38h6.20v9.19h-6.20zM226.15 312.32h6.20v9.19h-6.20zM303.46 312.32h6.20v9.19h-6.20zM309.40 312.32h6.20v9.19h-6.20zM243.99 321.26h6.20v9.19h-6.20zM160.73 330.20h6.20v9.19h-6.20zM166.68 330.20h6.20v9.19h-6.20zM172.62 330.20h6.20v9.19h-6.20zM291.56 330.20h6.20v9.19h-6.20zM327.25 330.20h6.20v9.19h-6.20zM333.19 330.20h6.20v9.19h-6.20zM368.87 330.20h6.20v9.19h-6.20zM374.82 330.20h6.20v9.19h-6.20zM380.77 330.20h6.20v9.19h-6.20zM386.72 330.20h6.20v9.19h-6.20zM392.66 330.20h6.20v9.19h-6.20zM238.04 339.14h6.20v9.19h-6.20zM243.99 339.14h6.20v9.19h-6.20zM273.72 339.14h6.20v9.19h-6.20zM142.89 348.08h6.20v9.19h-6.20zM148.83 348.08h6.20v9.19h-6.20zM154.78 348.08h6.20v9.19h-6.20zM160.73 348.08h6.20v9.19h-6.20zM166.68 348.08h6.20v9.19h-6.20zM172.62 348.08h6.20v9.19h-6.20zM184.52 348.08h6.20v9.19h-6.20zM327.25 348.08h6.20v9.19h-6.20zM333.19 348.08h6.20v9.19h-6.20zM351.03 348.08h6.20v9.19h-6.20zM392.66 348.08h6.20v9.19h-6.20zM398.61 357.02h6.20v9.19h-6.20zM125.05 365.96h6.20v9.19h-6.20zM166.68 365.96h6.20v9.19h-6.20zM178.57 365.96h6.20v9.19h-6.20zM184.52 365.96h6.20v9.19h-6.20zM119.10 392.78h6.20v9.19h-6.20zM172.62 437.48h6.20v9.19h-6.20zM178.57 437.48h6.20v9.19h-6.20zM184.52 437.48h6.20v9.19h-6.20zM119.10 455.36h6.20v9.19h-6.20zM130.99 464.30h6.20v9.19h-6.20zM142.89 464.30h6.20v9.19h-6.20zM148.83 464.30h6.20v9.19h-6.20zM172.62 464.30h6.20v9.19h-6.20zM178.57 464.30h6.20v9.19h-6.20zM184.52 464.30h6.20v9.19h-6.20zM166.68 473.24h6.20v9.19h-6.20zM172.62 473.24h6.20v9.19h-6.20zM214.25 473.24h6.20v9.19h-6.20zM148.83 482.18h6.20v9.19h-6.20zM119.10 491.12h6.20v9.19h-6.20zM136.94 491.12h6.20v9.19h-6.20zM154.78 491.12h6.20v9.19h-6.20zM178.57 491.12h6.20v9.19h-6.20zM184.52 491.12h6.20v9.19h-6.20zM208.31 500.06h6.20v9.19h-6.20zM214.25 500.06h6.20v9.19h-6.20zM208.31 517.94h6.20v9.19h-6.20zM285.62 517.94h6.20v9.19h-6.20zM273.72 526.88h6.20v9.19h-6.20zM285.62 526.88h6.20v9.19h-6.20zM321.30 526.88h6.20v9.19h-6.20zM333.19 526.88h6.20v9.19h-6.20zM351.03 526.88h6.20v9.19h-6.20zM380.77 526.88h6.20v9.19h-6.20zM386.72 526.88h6.20v9.19h-6.20zM232.09 535.82h6.20v9.19h-6.20zM232.09 562.64h6.20v9.19h-6.20zM238.04 562.64h6.20v9.19h-6.20zM285.62 562.64h6.20v9.19h-6.20zM291.56 562.64h6.20v9.19h-6.20zM315.35 562.64h6.20v9.19h-6.20zM339.14 562.64h6.20v9.19h-6.20zM362.93 562.64h6.20v9.19h-6.20zM368.87 571.58h6.20v9.19h-6.20zM386.72 571.58h6.20v9.19h-6.20zM392.66 571.58h6.20v9.19h-6.20zM255.88 580.52h6.20v9.19h-6.20zM261.83 580.52h6.20v9.19h-6.20zM267.77 580.52h6.20v9.19h-6.20zM345.09 589.46h6.20v9.19h-6.20zM249.93 598.40h6.20v9.19h-6.20zM261.83 607.34h6.20v9.19h-6.20zM267.77 607.34h6.20v9.19h-6.20zM255.88 634.16h6.20v9.19h-6.20zM309.40 669.92h6.20v9.19h-6.20zM327.25 669.92h6.20v9.19h-6.20zM339.14 669.92h6.20v9.19h-6.20zM345.09 669.92h6.20v9.19h-6.20zM351.03 669.92h6.20v9.19h-6.20zM356.98 669.92h6.20v9.19h-6.20zM386.72 687.80h6.20v9.19h-6.20zM386.72 705.68h6.20v9.19h-6.20zM392.66 705.68h6.20v9.19h-6.20z"/>
<path fill="#ba3878" d="M136.94 196.10h6.20v9.19h-6.20zM142.89 196.10h6.20v9.19h-6.20zM125.05 222.92h6.20v9.19h-6.20zM130.99 222.92h6.20v9.19h-6.20zM136.94 222.92h6.20v9.19h-6.20zM142.89 222.92h6.20v9.19h-6.20zM148.83 222.92h6.20v9.19h-6.20zM172.62 222.92h6.20v9.19h-6.20zM184.52 222.92h6.20v9.19h-6.20zM202.36 222.92h6.20v9.19h-6.20zM321.30 222.92h6.20v9.19h-6.20zM374.82 222.92h6.20v9.19h-6.20zM119.10 240.80h6.20v9.19h-6.20zM166.68 240.80h6.20v9.19h-6.20zM172.62 240.80h6.20v9.19h-6.20zM273.72 249.74h6.20v9.19h-6.20zM362.93 249.74h6.20v9.19h-6.20zM154.78 258.68h6.20v9.19h-6.20zM166.68 258.68h6.20v9.19h-6.20zM362.93 258.68h6.20v9.19h-6.20zM374.82 258.68h6.20v9.19h-6.20zM119.10 276.56h6.20v9.19h-6.20zM214.25 285.50h6.20v9.19h-6.20zM285.62 285.50h6.20v9.19h-6.20zM136.94 312.32h6.20v9.19h-6.20zM166.68 312.32h6.20v9.19h-6.20zM142.89 330.20h6.20v9.19h-6.20zM148.83 330.20h6.20v9.19h-6.20zM226.15 330.20h6.20v9.19h-6.20zM362.93 330.20h6.20v9.19h-6.20zM154.78 357.02h6.20v9.19h-6.20zM160.73 357.02h6.20v9.19h-6.20zM166.68 357.02h6.20v9.19h-6.20zM172.62 357.02h6.20v9.19h-6.20zM130.99 365.96h6.20v9.19h-6.20zM172.62 365.96h6.20v9.19h-6.20zM392.66 365.96h6.20v9.19h-6.20zM119.10 374.90h6.20v9.19h-6.20zM125.05 374.90h6.20v9.19h-6.20zM166.68 374.90h6.20v9.19h-6.20zM178.57 374.90h6.20v9.19h-6.20zM184.52 374.90h6.20v9.19h-6.20zM119.10 383.84h6.20v9.19h-6.20zM125.05 383.84h6.20v9.19h-6.20zM297.51 383.84h6.20v9.19h-6.20zM386.72 383.84h6.20v9.19h-6.20zM119.10 401.72h6.20v9.19h-6.20zM125.05 401.72h6.20v9.19h-6.20zM136.94 401.72h6.20v9.19h-6.20zM142.89 401.72h6.20v9.19h-6.20zM148.83 401.72h6.20v9.19h-6.20zM160.73 401.72h6.20v9.19h-6.20zM172.62 401.72h6.20v9.19h-6.20zM178.57 401.72h6.20v9.19h-6.20zM125.05 437.48h6.20v9.19h-6.20zM136.94 437.48h6.20v9.19h-6.20zM148.83 437.48h6.20v9.19h-6.20zM119.10 464.30h6.20v9.19h-6.20zM130.99 491.12h6.20v9.19h-6.20zM148.83 491.12h6.20v9.19h-6.20zM202.36 500.06h6.20v9.19h-6.20zM208.31 509.00h6.20v9.19h-6.20zM214.25 509.00h6.20v9.19h-6.20zM226.15 517.94h6.20v9.19h-6.20zM232.09 517.94h6.20v9.19h-6.20zM238.04 517.94h6.20v9.19h-6.20zM255.88 517.94h6.20v9.19h-6.20zM261.83 517.94h6.20v9.19h-6.20zM273.72 517.94h6.20v9.19h-6.20zM303.46 517.94h6.20v9.19h-6.20zM356.98 517.94h6.20v9.19h-6.20zM208.31 526.88h6.20v9.19h-6.20zM356.98 526.88h6.20v9.19h-6.20zM232.09 544.76h6.20v9.19h-6.20zM297.51 562.64h6.20v9.19h-6.20zM232.09 571.58h6.20v9.19h-6.20zM249.93 571.58h6.20v9.19h-6.20zM261.83 571.58h6.20v9.19h-6.20zM315.35 571.58h6.20v9.19h-6.20zM321.30 571.58h6.20v9.19h-6.20zM327.25 571.58h6.20v9.19h-6.20zM333.19 571.58h6.20v9.19h-6.20zM345.09 571.58h6.20v9.19h-6.20zM356.98 571.58h6.20v9.19h-6.20zM374.82 571.58h6.20v9.19h-6.20zM232.09 580.52h6.20v9.19h-6.20zM226.15 589.46h6.20v9.19h-6.20zM232.09 589.46h6.20v9.19h-6.20zM249.93 589.46h6.20v9.19h-6.20zM333.19 589.46h6.20v9.19h-6.20zM339.14 589.46h6.20v9.19h-6.20zM398.61 589.46h6.20v9.19h-6.20zM285.62 598.40h6.20v9.19h-6.20zM243.99 625.22h6.20v9.19h-6.20zM273.72 643.10h6.20v9.19h-6.20zM279.67 643.10h6.20v9.19h-6.20zM285.62 643.10h6.20v9.19h-6.20zM309.40 643.10h6.20v9.19h-6.20zM321.30 643.10h6.20v9.19h-6.20zM351.03 643.10h6.20v9.19h-6.20zM249.93 652.04h6.20v9.19h-6.20zM238.04 660.98h6.20v9.19h-6.20zM243.99 660.98h6.20v9.19h-6.20zM261.83 660.98h6.20v9.19h-6.20zM279.67 660.98h6.20v9.19h-6.20zM291.56 660.98h6.20v9.19h-6.20zM368.87 660.98h6.20v9.19h-6.20zM386.72 660.98h6.20v9.19h-6.20zM297.51 669.92h6.20v9.19h-6.20zM315.35 669.92h6.20v9.19h-6.20zM333.19 669.92h6.20v9.19h-6.20zM374.82 669.92h6.20v9.19h-6.20zM285.62 687.80h6.20v9.19h-6.20zM345.09 705.68h6.20v9.19h-6.20zM380.77 705.68h6.20v9.19h-6.20zM392.66 723.56h6.20v9.19h-6.20z"/>
<path fill="#f2645c" d="M148.83 196.10h6.20v9.19h-6.20zM119.10 205.04h6.20v9.19h-6.20zM130.99 205.04h6.20v9.19h-6.20zM142.89 205.04h6.20v9.19h-6.20zM172.62 205.04h6.20v9.19h-6.20zM202.36 205.04h6.20v9.19h-6.20zM226.15 205.04h6.20v9.19h-6.20zM255.88 205.04h6.20v9.19h-6.20zM273.72 205.04h6.20v9.19h-6.20zM285.62 205.04h6.20v9.19h-6.20zM291.56 205.04h6.20v9.19h-6.20zM315.35 205.04h6.20v9.19h-6.20zM327.25 205.04h6.20v9.19h-6.20zM351.03 205.04h6.20v9.19h-6.20zM374.82 205.04h6.20v9.19h-6.20zM398.61 205.04h6.20v9.19h-6.20zM136.94 213.98h6.20v9.19h-6.20zM142.89 213.98h6.20v9.19h-6.20zM148.83 213.98h6.20v9.19h-6.20zM166.68 213.98h6.20v9.19h-6.20zM172.62 213.98h6.20v9.19h-6.20zM178.57 213.98h6.20v9.19h-6.20zM190.46 222.92h6.20v9.19h-6.20zM285.62 222.92h6.20v9.19h-6.20zM166.68 231.86h6.20v9.19h-6.20zM172.62 231.86h6.20v9.19h-6.20zM178.57 231.86h6.20v9.19h-6.20zM160.73 240.80h6.20v9.19h-6.20zM214.25 240.80h6.20v9.19h-6.20zM220.20 240.80h6.20v9.19h-6.20zM249.93 240.80h6.20v9.19h-6.20zM255.88 240.80h6.20v9.19h-6.20zM315.35 240.80h6.20v9.19h-6.20zM321.30 240.80h6.20v9.19h-6.20zM130.99 249.74h6.20v9.19h-6.20zM142.89 249.74h6.20v9.19h-6.20zM172.62 249.74h6.20v9.19h-6.20zM184.52 249.74h6.20v9.19h-6.20zM297.51 249.74h6.20v9.19h-6.20zM321.30 249.74h6.20v9.19h-6.20zM327.25 249.74h6.20v9.19h-6.20zM368.87 249.74h6.20v9.19h-6.20zM386.72 249.74h6.20v9.19h-6.20zM392.66 249.74h6.20v9.19h-6.20zM398.61 249.74h6.20v9.19h-6.20zM178.57 258.68h6.20v9.19h-6.20zM184.52 258.68h6.20v9.19h-6.20zM255.88 258.68h6.20v9.19h-6.20zM273.72 258.68h6.20v9.19h-6.20zM279.67 258.68h6.20v9.19h-6.20zM285.62 258.68h6.20v9.19h-6.20zM291.56 258.68h6.20v9.19h-6.20zM273.72 267.62h6.20v9.19h-6.20zM154.78 285.50h6.20v9.19h-6.20zM178.57 285.50h6.20v9.19h-6.20zM184.52 285.50h6.20v9.19h-6.20zM279.67 285.50h6.20v9.19h-6.20zM136.94 294.44h6.20v9.19h-6.20zM148.83 294.44h6.20v9.19h-6.20zM166.68 294.44h6.20v9.19h-6.20zM178.57 294.44h6.20v9.19h-6.20zM321.30 294.44h6.20v9.19h-6.20zM333.19 294.44h6.20v9.19h-6.20zM339.14 294.44h6.20v9.19h-6.20zM351.03 294.44h6.20v9.19h-6.20zM125.05 312.32h6.20v9.19h-6.20zM130.99 312.32h6.20v9.19h-6.20zM172.62 312.32h6.20v9.19h-6.20zM178.57 312.32h6.20v9.19h-6.20zM184.52 312.32h6.20v9.19h-6.20zM291.56 312.32h6.20v9.19h-6.20zM339.14 312.32h6.20v9.19h-6.20zM345.09 312.32h6.20v9.19h-6.20zM351.03 312.32h6.20v9.19h-6.20zM356.98 312.32h6.20v9.19h-6.20zM362.93 312.32h6.20v9.19h-6.20zM368.87 312.32h6.20v9.19h-6.20zM374.82 312.32h6.20v9.19h-6.20zM380.77 312.32h6.20v9.19h-6.20zM130.99 321.26h6.20v9.19h-6.20zM130.99 330.20h6.20v9.19h-6.20zM321.30 330.20h6.20v9.19h-6.20zM398.61 330.20h6.20v9.19h-6.20zM279.67 339.14h6.20v9.19h-6.20zM125.05 348.08h6.20v9.19h-6.20zM130.99 348.08h6.20v9.19h-6.20zM136.94 348.08h6.20v9.19h-6.20zM178.57 348.08h6.20v9.19h-6.20zM339.14 348.08h6.20v9.19h-6.20zM345.09 348.08h6.20v9.19h-6.20zM356.98 348.08h6.20v9.19h-6.20zM368.87 348.08h6.20v9.19h-6.20zM380.77 348.08h6.20v9.19h-6.20zM125.05 357.02h6.20v9.19h-6.20zM184.52 357.02h6.20v9.19h-6.20zM136.94 365.96h6.20v9.19h-6.20zM154.78 365.96h6.20v9.19h-6.20zM160.73 365.96h6.20v9.19h-6.20zM178.57 383.84h6.20v9.19h-6.20zM125.05 392.78h6.20v9.19h-6.20zM136.94 392.78h6.20v9.19h-6.20zM142.89 392.78h6.20v9.19h-6.20zM148.83 392.78h6.20v9.19h-6.20zM154.78 392.78h6.20v9.19h-6.20zM160.73 392.78h6.20v9.19h-6.20zM166.68 392.78h6.20v9.19h-6.20zM172.62 392.78h6.20v9.19h-6.20zM184.52 392.78h6.20v9.19h-6.20zM119.10 410.66h6.20v9.19h-6.20zM125.05 455.36h6.20v9.19h-6.20zM130.99 455.36h6.20v9.19h-6.20zM130.99 473.24h6.20v9.19h-6.20zM136.94 473.24h6.20v9.19h-6.20zM148.83 473.24h6.20v9.19h-6.20zM184.52 473.24h6.20v9.19h-6.20zM119.10 482.18h6.20v9.19h-6.20zM142.89 482.18h6.20v9.19h-6.20zM166.68 482.18h6.20v9.19h-6.20zM125.05 491.12h6.20v9.19h-6.20zM160.73 491.12h6.20v9.19h-6.20zM220.20 517.94h6.20v9.19h-6.20zM214.25 526.88h6.20v9.19h-6.20zM226.15 526.88h6.20v9.19h-6.20zM249.93 526.88h6.20v9.19h-6.20zM368.87 526.88h6.20v9.19h-6.20zM374.82 526.88h6.20v9.19h-6.20zM398.61 526.88h6.20v9.19h-6.20zM214.25 544.76h6.20v9.19h-6.20zM226.15 562.64h6.20v9.19h-6.20zM261.83 562.64h6.20v9.19h-6.20zM309.40 562.64h6.20v9.19h-6.20zM291.56 571.58h6.20v9.19h-6.20zM238.04 580.52h6.20v9.19h-6.20zM243.99 580.52h6.20v9.19h-6.20zM249.93 580.52h6.20v9.19h-6.20zM279.67 580.52h6.20v9.19h-6.20zM285.62 589.46h6.20v9.19h-6.20zM238.04 598.40h6.20v9.19h-6.20zM285.62 607.34h6.20v9.19h-6.20zM321.30 607.34h6.20v9.19h-6.20zM267.77 625.22h6.20v9.19h-6.20zM321.30 669.92h6.20v9.19h-6.20zM380.77 669.92h6.20v9.19h-6.20zM386.72 669.92h6.20v9.19h-6.20zM392.66 669.92h6.20v9.19h-6.20zM327.25 687.80h6.20v9.19h-6.20zM398.61 714.62h6.20v9.19h-6.20z"/>
<path fill="#cf4070" d="M184.52 196.10h6.20v9.19h-6.20zM297.51 196.10h6.20v9.19h-6.20zM267.77 205.04h6.20v9.19h-6.20zM368.87 205.04h6.20v9.19h-6.20zM380.77 205.04h6.20v9.19h-6.20zM386.72 205.04h6.20v9.19h-6.20zM392.66 205.04h6.20v9.19h-6.20zM119.10 213.98h6.20v9.19h-6.20zM196.41 222.92h6.20v9.19h-6.20zM255.88 222.92h6.20v9.19h-6.20zM273.72 222.92h6.20v9.19h-6.20zM327.25 222.92h6.20v9.19h-6.20zM362.93 222.92h6.20v9.19h-6.20zM368.87 222.92h6.20v9.19h-6.20zM380.77 222.92h6.20v9.19h-6.20zM279.67 231.86h6.20v9.19h-6.20zM136.94 240.80h6.20v9.19h-6.20zM142.89 240.80h6.20v9.19h-6.20zM154.78 240.80h6.20v9.19h-6.20zM178.57 240.80h6.20v9.19h-6.20zM196.41 240.80h6.20v9.19h-6.20zM226.15 240.80h6.20v9.19h-6.20zM374.82 240.80h6.20v9.19h-6.20zM196.41 249.74h6.20v9.19h-6.20zM220.20 249.74h6.20v9.19h-6.20zM291.56 249.74h6.20v9.19h-6.20zM303.46 249.74h6.20v9.19h-6.20zM309.40 249.74h6.20v9.19h-6.20zM339.14 249.74h6.20v9.19h-6.20zM142.89 258.68h6.20v9.19h-6.20zM148.83 258.68h6.20v9.19h-6.20zM160.73 258.68h6.20v9.19h-6.20zM172.62 258.68h6.20v9.19h-6.20zM309.40 258.68h6.20v9.19h-6.20zM315.35 258.68h6.20v9.19h-6.20zM327.25 258.68h6.20v9.19h-6.20zM333.19 258.68h6.20v9.19h-6.20zM368.87 258.68h6.20v9.19h-6.20zM380.77 258.68h6.20v9.19h-6.20zM398.61 258.68h6.20v9.19h-6.20zM125.05 276.56h6.20v9.19h-6.20zM243.99 285.50h6.20v9.19h-6.20zM119.10 294.44h6.20v9.19h-6.20zM398.61 294.44h6.20v9.19h-6.20zM243.99 303.38h6.20v9.19h-6.20zM398.61 303.38h6.20v9.19h-6.20zM119.10 312.32h6.20v9.19h-6.20zM142.89 312.32h6.20v9.19h-6.20zM148.83 312.32h6.20v9.19h-6.20zM154.78 312.32h6.20v9.19h-6.20zM160.73 312.32h6.20v9.19h-6.20zM273.72 312.32h6.20v9.19h-6.20zM249.93 321.26h6.20v9.19h-6.20zM119.10 330.20h6.20v9.19h-6.20zM125.05 330.20h6.20v9.19h-6.20zM136.94 330.20h6.20v9.19h-6.20zM154.78 330.20h6.20v9.19h-6.20zM178.57 330.20h6.20v9.19h-6.20zM273.72 330.20h6.20v9.19h-6.20zM303.46 330.20h6.20v9.19h-6.20zM309.40 330.20h6.20v9.19h-6.20zM315.35 330.20h6.20v9.19h-6.20zM339.14 330.20h6.20v9.19h-6.20zM345.09 330.20h6.20v9.19h-6.20zM351.03 330.20h6.20v9.19h-6.20zM356.98 330.20h6.20v9.19h-6.20zM119.10 348.08h6.20v9.19h-6.20zM119.10 357.02h6.20v9.19h-6.20zM136.94 357.02h6.20v9.19h-6.20zM142.89 357.02h6.20v9.19h-6.20zM178.57 357.02h6.20v9.19h-6.20zM374.82 357.02h6.20v9.19h-6.20zM380.77 357.02h6.20v9.19h-6.20zM386.72 357.02h6.20v9.19h-6.20zM392.66 357.02h6.20v9.19h-6.20zM119.10 365.96h6.20v9.19h-6.20zM142.89 365.96h6.20v9.19h-6.20zM136.94 374.90h6.20v9.19h-6.20zM148.83 374.90h6.20v9.19h-6.20zM154.78 374.90h6.20v9.19h-6.20zM160.73 374.90h6.20v9.19h-6.20zM160.73 383.84h6.20v9.19h-6.20zM172.62 383.84h6.20v9.19h-6.20zM184.52 383.84h6.20v9.19h-6.20zM130.99 437.48h6.20v9.19h-6.20zM142.89 437.48h6.20v9.19h-6.20zM160.73 437.48h6.20v9.19h-6.20zM166.68 437.48h6.20v9.19h-6.20zM125.05 464.30h6.20v9.19h-6.20zM136.94 464.30h6.20v9.19h-6.20zM154.78 464.30h6.20v9.19h-6.20zM160.73 464.30h6.20v9.19h-6.20zM166.68 464.30h6.20v9.19h-6.20zM130.99 482.18h6.20v9.19h-6.20zM142.89 491.12h6.20v9.19h-6.20zM166.68 491.12h6.20v9.19h-6.20zM172.62 491.12h6.20v9.19h-6.20zM220.20 500.06h6.20v9.19h-6.20zM214.25 517.94h6.20v9.19h-6.20zM291.56 517.94h6.20v9.19h-6.20zM315.35 517.94h6.20v9.19h-6.20zM321.30 517.94h6.20v9.19h-6.20zM255.88 526.88h6.20v9.19h-6.20zM261.83 526.88h6.20v9.19h-6.20zM267.77 526.88h6.20v9.19h-6.20zM392.66 526.88h6.20v9.19h-6.20zM214.25 535.82h6.20v9.19h-6.20zM226.15 535.82h6.20v9.19h-6.20zM249.93 562.64h6.20v9.19h-6.20zM267.77 562.64h6.20v9.19h-6.20zM273.72 562.64h6.20v9.19h-6.20zM226.15 571.58h6.20v9.19h-6.20zM267.77 571.58h6.20v9.19h-6.20zM273.72 571.58h6.20v9.19h-6.20zM279.67 571.58h6.20v9.19h-6.20zM285.62 571.58h6.20v9.19h-6.20zM297.51 571.58h6.20v9.19h-6.20zM303.46 571.58h6.20v9.19h-6.20zM339.14 571.58h6.20v9.19h-6.20zM398.61 571.58h6.20v9.19h-6.20zM267.77 589.46h6.20v9.19h-6.20zM273.72 589.46h6.20v9.19h-6.20zM279.67 589.46h6.20v9.19h-6.20zM291.56 589.46h6.20v9.19h-6.20zM297.51 589.46h6.20v9.19h-6.20zM303.46 589.46h6.20v9.19h-6.20zM309.40 589.46h6.20v9.19h-6.20zM315.35 589.46h6.20v9.19h-6.20zM321.30 589.46h6.20v9.19h-6.20zM356.98 589.46h6.20v9.19h-6.20zM386.72 589.46h6.20v9.19h-6.20zM392.66 589.46h6.20v9.19h-6.20zM243.99 598.40h6.20v9.19h-6.20zM261.83 598.40h6.20v9.19h-6.20zM279.67 598.40h6.20v9.19h-6.20zM255.88 607.34h6.20v9.19h-6.20zM273.72 607.34h6.20v9.19h-6.20zM291.56 607.34h6.20v9.19h-6.20zM243.99 616.28h6.20v9.19h-6.20zM249.93 616.28h6.20v9.19h-6.20zM255.88 625.22h6.20v9.19h-6.20zM267.77 634.16h6.20v9.19h-6.20zM255.88 660.98h6.20v9.19h-6.20zM291.56 669.92h6.20v9.19h-6.20zM303.46 669.92h6.20v9.19h-6.20zM398.61 669.92h6.20v9.19h-6.20zM356.98 696.74h6.20v9.19h-6.20zM190.46 705.68h6.20v9.19h-6.20zM368.87 705.68h6.20v9.19h-6.20z"/>
<path fill="#fb835f" d="M190.46 196.10h6.20v9.19h-6.20zM315.35 196.10h6.20v9.19h-6.20zM321.30 196.10h6.20v9.19h-6.20zM327.25 196.10h6.20v9.19h-6.20zM333.19 196.10h6.20v9.19h-6.20zM339.14 196.10h6.20v9.19h-6.20zM345.09 196.10h6.20v9.19h-6.20zM351.03 196.10h6.20v9.19h-6.20zM356.98 196.10h6.20v9.19h-6.20zM362.93 196.10h6.20v9.19h-6.20zM368.87 196.10h6.20v9.19h-6.20zM374.82 196.10h6.20v9.19h-6.20zM125.05 205.04h6.20v9.19h-6.20zM136.94 205.04h6.20v9.19h-6.20zM148.83 205.04h6.20v9.19h-6.20zM154.78 205.04h6.20v9.19h-6.20zM160.73 205.04h6.20v9.19h-6.20zM166.68 205.04h6.20v9.19h-6.20zM178.57 205.04h6.20v9.19h-6.20zM196.41 205.04h6.20v9.19h-6.20zM214.25 205.04h6.20v9.19h-6.20zM220.20 205.04h6.20v9.19h-6.20zM232.09 205.04h6.20v9.19h-6.20zM261.83 205.04h6.20v9.19h-6.20zM279.67 205.04h6.20v9.19h-6.20zM321.30 205.04h6.20v9.19h-6.20zM130.99 213.98h6.20v9.19h-6.20zM184.52 213.98h6.20v9.19h-6.20zM196.41 213.98h6.20v9.19h-6.20zM202.36 213.98h6.20v9.19h-6.20zM208.31 213.98h6.20v9.19h-6.20zM238.04 213.98h6.20v9.19h-6.20zM243.99 213.98h6.20v9.19h-6.20zM249.93 213.98h6.20v9.19h-6.20zM279.67 213.98h6.20v9.19h-6.20zM315.35 213.98h6.20v9.19h-6.20zM321.30 213.98h6.20v9.19h-6.20zM327.25 213.98h6.20v9.19h-6.20zM333.19 213.98h6.20v9.19h-6.20zM374.82 213.98h6.20v9.19h-6.20zM380.77 213.98h6.20v9.19h-6.20zM386.72 213.98h6.20v9.19h-6.20zM392.66 213.98h6.20v9.19h-6.20zM398.61 213.98h6.20v9.19h-6.20zM119.10 231.86h6.20v9.19h-6.20zM130.99 231.86h6.20v9.19h-6.20zM136.94 231.86h6.20v9.19h-6.20zM238.04 240.80h6.20v9.19h-6.20zM243.99 240.80h6.20v9.19h-6.20zM261.83 240.80h6.20v9.19h-6.20zM267.77 240.80h6.20v9.19h-6.20zM273.72 240.80h6.20v9.19h-6.20zM279.67 240.80h6.20v9.19h-6.20zM285.62 240.80h6.20v9.19h-6.20zM291.56 240.80h6.20v9.19h-6.20zM303.46 240.80h6.20v9.19h-6.20zM309.40 240.80h6.20v9.19h-6.20zM333.19 240.80h6.20v9.19h-6.20zM345.09 240.80h6.20v9.19h-6.20zM351.03 240.80h6.20v9.19h-6.20zM356.98 240.80h6.20v9.19h-6.20zM362.93 240.80h6.20v9.19h-6.20zM368.87 240.80h6.20v9.19h-6.20zM380.77 240.80h6.20v9.19h-6.20zM386.72 240.80h6.20v9.19h-6.20zM392.66 240.80h6.20v9.19h-6.20zM136.94 249.74h6.20v9.19h-6.20zM166.68 249.74h6.20v9.19h-6.20zM125.05 258.68h6.20v9.19h-6.20zM243.99 258.68h6.20v9.19h-6.20zM249.93 258.68h6.20v9.19h-6.20zM345.09 258.68h6.20v9.19h-6.20zM226.15 267.62h6.20v9.19h-6.20zM136.94 285.50h6.20v9.19h-6.20zM142.89 285.50h6.20v9.19h-6.20zM160.73 285.50h6.20v9.19h-6.20zM125.05 294.44h6.20v9.19h-6.20zM184.52 294.44h6.20v9.19h-6.20zM362.93 294.44h6.20v9.19h-6.20zM368.87 294.44h6.20v9.19h-6.20zM374.82 294.44h6.20v9.19h-6.20zM273.72 303.38h6.20v9.19h-6.20zM297.51 312.32h6.20v9.19h-6.20zM315.35 312.32h6.20v9.19h-6.20zM321.30 312.32h6.20v9.19h-6.20zM327.25 312.32h6.20v9.19h-6.20zM333.19 312.32h6.20v9.19h-6.20zM386.72 312.32h6.20v9.19h-6.20zM392.66 312.32h6.20v9.19h-6.20zM398.61 312.32h6.20v9.19h-6.20zM273.72 321.26h6.20v9.19h-6.20zM297.51 330.20h6.20v9.19h-6.20zM362.93 348.08h6.20v9.19h-6.20zM374.82 348.08h6.20v9.19h-6.20zM386.72 348.08h6.20v9.19h-6.20zM130.99 357.02h6.20v9.19h-6.20zM148.83 365.96h6.20v9.19h-6.20zM178.57 392.78h6.20v9.19h-6.20zM125.05 410.66h6.20v9.19h-6.20zM154.78 410.66h6.20v9.19h-6.20zM160.73 410.66h6.20v9.19h-6.20zM184.52 410.66h6.20v9.19h-6.20zM172.62 419.60h6.20v9.19h-6.20zM178.57 419.60h6.20v9.19h-6.20zM184.52 419.60h6.20v9.19h-6.20zM119.10 428.54h6.20v9.19h-6.20zM130.99 428.54h6.20v9.19h-6.20zM136.94 455.36h6.20v9.19h-6.20zM142.89 455.36h6.20v9.19h-6.20zM148.83 455.36h6.20v9.19h-6.20zM154.78 455.36h6.20v9.19h-6.20zM160.73 455.36h6.20v9.19h-6.20zM166.68 455.36h6.20v9.19h-6.20zM172.62 455.36h6.20v9.19h-6.20zM178.57 455.36h6.20v9.19h-6.20zM184.52 455.36h6.20v9.19h-6.20zM119.10 473.24h6.20v9.19h-6.20zM125.05 473.24h6.20v9.19h-6.20zM142.89 473.24h6.20v9.19h-6.20zM154.78 473.24h6.20v9.19h-6.20zM279.67 517.94h6.20v9.19h-6.20zM220.20 526.88h6.20v9.19h-6.20zM243.99 526.88h6.20v9.19h-6.20zM279.67 526.88h6.20v9.19h-6.20zM309.40 526.88h6.20v9.19h-6.20zM315.35 526.88h6.20v9.19h-6.20zM362.93 526.88h6.20v9.19h-6.20zM220.20 553.70h6.20v9.19h-6.20zM220.20 562.64h6.20v9.19h-6.20zM243.99 562.64h6.20v9.19h-6.20zM255.88 562.64h6.20v9.19h-6.20zM238.04 607.34h6.20v9.19h-6.20zM243.99 607.34h6.20v9.19h-6.20zM249.93 607.34h6.20v9.19h-6.20zM285.62 669.92h6.20v9.19h-6.20zM362.93 669.92h6.20v9.19h-6.20zM368.87 669.92h6.20v9.19h-6.20z"/>
<path fill="#fde2a3" d="M196.41 196.10h6.20v9.19h-6.20zM202.36 196.10h6.20v9.19h-6.20zM208.31 196.10h6.20v9.19h-6.20zM214.25 196.10h6.20v9.19h-6.20zM220.20 196.10h6.20v9.19h-6.20zM226.15 196.10h6.20v9.19h-6.20zM232.09 196.10h6.20v9.19h-6.20zM238.04 196.10h6.20v9.19h-6.20zM243.99 196.10h6.20v9.19h-6.20zM255.88 196.10h6.20v9.19h-6.20zM261.83 196.10h6.20v9.19h-6.20zM267.77 196.10h6.20v9.19h-6.20zM273.72 196.10h6.20v9.19h-6.20zM279.67 196.10h6.20v9.19h-6.20zM285.62 196.10h6.20v9.19h-6.20zM190.46 231.86h6.20v9.19h-6.20zM196.41 231.86h6.20v9.19h-6.20zM220.20 231.86h6.20v9.19h-6.20zM226.15 231.86h6.20v9.19h-6.20zM232.09 231.86h6.20v9.19h-6.20zM238.04 231.86h6.20v9.19h-6.20zM243.99 231.86h6.20v9.19h-6.20zM261.83 231.86h6.20v9.19h-6.20zM267.77 231.86h6.20v9.19h-6.20zM273.72 231.86h6.20v9.19h-6.20zM285.62 231.86h6.20v9.19h-6.20zM291.56 231.86h6.20v9.19h-6.20zM303.46 231.86h6.20v9.19h-6.20zM309.40 231.86h6.20v9.19h-6.20zM315.35 231.86h6.20v9.19h-6.20zM321.30 231.86h6.20v9.19h-6.20zM327.25 231.86h6.20v9.19h-6.20zM362.93 231.86h6.20v9.19h-6.20zM368.87 231.86h6.20v9.19h-6.20zM214.25 249.74h6.20v9.19h-6.20zM130.99 267.62h6.20v9.19h-6.20zM136.94 267.62h6.20v9.19h-6.20zM142.89 267.62h6.20v9.19h-6.20zM148.83 267.62h6.20v9.19h-6.20zM154.78 267.62h6.20v9.19h-6.20zM160.73 267.62h6.20v9.19h-6.20zM166.68 267.62h6.20v9.19h-6.20zM297.51 285.50h6.20v9.19h-6.20zM279.67 294.44h6.20v9.19h-6.20zM119.10 339.14h6.20v9.19h-6.20zM125.05 339.14h6.20v9.19h-6.20zM130.99 339.14h6.20v9.19h-6.20zM142.89 339.14h6.20v9.19h-6.20zM148.83 339.14h6.20v9.19h-6.20zM154.78 339.14h6.20v9.19h-6.20zM166.68 339.14h6.20v9.19h-6.20zM172.62 339.14h6.20v9.19h-6.20zM178.57 339.14h6.20v9.19h-6.20zM297.51 339.14h6.20v9.19h-6.20zM303.46 339.14h6.20v9.19h-6.20zM309.40 339.14h6.20v9.19h-6.20zM315.35 339.14h6.20v9.19h-6.20zM321.30 339.14h6.20v9.19h-6.20zM333.19 339.14h6.20v9.19h-6.20zM339.14 339.14h6.20v9.19h-6.20zM345.09 339.14h6.20v9.19h-6.20zM351.03 339.14h6.20v9.19h-6.20zM356.98 339.14h6.20v9.19h-6.20zM374.82 339.14h6.20v9.19h-6.20zM380.77 339.14h6.20v9.19h-6.20zM386.72 339.14h6.20v9.19h-6.20zM398.61 339.14h6.20v9.19h-6.20zM136.94 419.60h6.20v9.19h-6.20zM119.10 446.42h6.20v9.19h-6.20zM154.78 446.42h6.20v9.19h-6.20zM160.73 446.42h6.20v9.19h-6.20z"/>
<path fill="#fcfdbf" d="M249.93 196.10h6.20v9.19h-6.20zM255.88 231.86h6.20v9.19h-6.20z"/>
<path fill="#fec488" d="M291.56 196.10h6.20v9.19h-6.20zM303.46 196.10h6.20v9.19h-6.20zM190.46 205.04h6.20v9.19h-6.20zM238.04 205.04h6.20v9.19h-6.20zM243.99 205.04h6.20v9.19h-6.20zM249.93 205.04h6.20v9.19h-6.20zM285.62 213.98h6.20v9.19h-6.20zM362.93 213.98h6.20v9.19h-6.20zM142.89 231.86h6.20v9.19h-6.20zM202.36 231.86h6.20v9.19h-6.20zM249.93 231.86h6.20v9.19h-6.20zM333.19 231.86h6.20v9.19h-6.20zM339.14 231.86h6.20v9.19h-6.20zM345.09 231.86h6.20v9.19h-6.20zM351.03 231.86h6.20v9.19h-6.20zM356.98 231.86h6.20v9.19h-6.20zM374.82 231.86h6.20v9.19h-6.20zM380.77 231.86h6.20v9.19h-6.20zM386.72 231.86h6.20v9.19h-6.20zM392.66 231.86h6.20v9.19h-6.20zM125.05 267.62h6.20v9.19h-6.20zM172.62 267.62h6.20v9.19h-6.20zM178.57 267.62h6.20v9.19h-6.20zM184.52 267.62h6.20v9.19h-6.20zM214.25 267.62h6.20v9.19h-6.20zM321.30 285.50h6.20v9.19h-6.20zM333.19 285.50h6.20v9.19h-6.20zM339.14 285.50h6.20v9.19h-6.20zM345.09 285.50h6.20v9.19h-6.20zM351.03 285.50h6.20v9.19h-6.20zM356.98 285.50h6.20v9.19h-6.20zM368.87 285.50h6.20v9.19h-6.20zM374.82 285.50h6.20v9.19h-6.20zM380.77 285.50h6.20v9.19h-6.20zM386.72 285.50h6.20v9.19h-6.20zM392.66 285.50h6.20v9.19h-6.20zM398.61 285.50h6.20v9.19h-6.20zM273.72 294.44h6.20v9.19h-6.20zM119.10 303.38h6.20v9.19h-6.20zM125.05 303.38h6.20v9.19h-6.20zM136.94 303.38h6.20v9.19h-6.20zM142.89 303.38h6.20v9.19h-6.20zM148.83 303.38h6.20v9.19h-6.20zM154.78 303.38h6.20v9.19h-6.20zM160.73 303.38h6.20v9.19h-6.20zM166.68 303.38h6.20v9.19h-6.20zM172.62 303.38h6.20v9.19h-6.20zM178.57 303.38h6.20v9.19h-6.20zM184.52 303.38h6.20v9.19h-6.20zM291.56 303.38h6.20v9.19h-6.20zM297.51 303.38h6.20v9.19h-6.20zM303.46 303.38h6.20v9.19h-6.20zM309.40 303.38h6.20v9.19h-6.20zM315.35 303.38h6.20v9.19h-6.20zM321.30 303.38h6.20v9.19h-6.20zM327.25 303.38h6.20v9.19h-6.20zM333.19 303.38h6.20v9.19h-6.20zM339.14 303.38h6.20v9.19h-6.20zM351.03 303.38h6.20v9.19h-6.20zM356.98 303.38h6.20v9.19h-6.20zM368.87 303.38h6.20v9.19h-6.20zM119.10 321.26h6.20v9.19h-6.20zM297.51 321.26h6.20v9.19h-6.20zM309.40 321.26h6.20v9.19h-6.20zM315.35 321.26h6.20v9.19h-6.20zM321.30 321.26h6.20v9.19h-6.20zM327.25 321.26h6.20v9.19h-6.20zM333.19 321.26h6.20v9.19h-6.20zM339.14 321.26h6.20v9.19h-6.20zM345.09 321.26h6.20v9.19h-6.20zM351.03 321.26h6.20v9.19h-6.20zM362.93 321.26h6.20v9.19h-6.20zM368.87 321.26h6.20v9.19h-6.20zM374.82 321.26h6.20v9.19h-6.20zM380.77 321.26h6.20v9.19h-6.20zM386.72 321.26h6.20v9.19h-6.20zM392.66 321.26h6.20v9.19h-6.20zM398.61 321.26h6.20v9.19h-6.20zM136.94 339.14h6.20v9.19h-6.20zM160.73 339.14h6.20v9.19h-6.20zM184.52 339.14h6.20v9.19h-6.20zM291.56 339.14h6.20v9.19h-6.20zM327.25 339.14h6.20v9.19h-6.20zM362.93 339.14h6.20v9.19h-6.20zM368.87 339.14h6.20v9.19h-6.20zM392.66 339.14h6.20v9.19h-6.20zM130.99 410.66h6.20v9.19h-6.20zM119.10 419.60h6.20v9.19h-6.20zM125.05 419.60h6.20v9.19h-6.20zM142.89 419.60h6.20v9.19h-6.20zM148.83 419.60h6.20v9.19h-6.20zM154.78 419.60h6.20v9.19h-6.20zM160.73 419.60h6.20v9.19h-6.20zM142.89 428.54h6.20v9.19h-6.20zM148.83 428.54h6.20v9.19h-6.20zM154.78 428.54h6.20v9.19h-6.20zM160.73 428.54h6.20v9.19h-6.20zM166.68 428.54h6.20v9.19h-6.20zM172.62 428.54h6.20v9.19h-6.20zM125.05 446.42h6.20v9.19h-6.20zM130.99 446.42h6.20v9.19h-6.20zM136.94 446.42h6.20v9.19h-6.20zM142.89 446.42h6.20v9.19h-6.20zM148.83 446.42h6.20v9.19h-6.20zM166.68 446.42h6.20v9.19h-6.20zM172.62 446.42h6.20v9.19h-6.20zM178.57 446.42h6.20v9.19h-6.20zM184.52 446.42h6.20v9.19h-6.20z"/>
<path fill="#fea571" d="M309.40 196.10h6.20v9.19h-6.20zM380.77 196.10h6.20v9.19h-6.20zM386.72 196.10h6.20v9.19h-6.20zM184.52 205.04h6.20v9.19h-6.20zM208.31 205.04h6.20v9.19h-6.20zM190.46 213.98h6.20v9.19h-6.20zM214.25 213.98h6.20v9.19h-6.20zM220.20 213.98h6.20v9.19h-6.20zM226.15 213.98h6.20v9.19h-6.20zM232.09 213.98h6.20v9.19h-6.20zM255.88 213.98h6.20v9.19h-6.20zM261.83 213.98h6.20v9.19h-6.20zM267.77 213.98h6.20v9.19h-6.20zM273.72 213.98h6.20v9.19h-6.20zM291.56 213.98h6.20v9.19h-6.20zM297.51 213.98h6.20v9.19h-6.20zM303.46 213.98h6.20v9.19h-6.20zM309.40 213.98h6.20v9.19h-6.20zM339.14 213.98h6.20v9.19h-6.20zM345.09 213.98h6.20v9.19h-6.20zM351.03 213.98h6.20v9.19h-6.20zM356.98 213.98h6.20v9.19h-6.20zM368.87 213.98h6.20v9.19h-6.20zM125.05 231.86h6.20v9.19h-6.20zM154.78 231.86h6.20v9.19h-6.20zM160.73 231.86h6.20v9.19h-6.20zM184.52 231.86h6.20v9.19h-6.20zM208.31 231.86h6.20v9.19h-6.20zM214.25 231.86h6.20v9.19h-6.20zM297.51 231.86h6.20v9.19h-6.20zM190.46 240.80h6.20v9.19h-6.20zM232.09 240.80h6.20v9.19h-6.20zM119.10 249.74h6.20v9.19h-6.20zM125.05 249.74h6.20v9.19h-6.20zM148.83 249.74h6.20v9.19h-6.20zM226.15 249.74h6.20v9.19h-6.20zM386.72 258.68h6.20v9.19h-6.20zM392.66 258.68h6.20v9.19h-6.20zM119.10 267.62h6.20v9.19h-6.20zM119.10 285.50h6.20v9.19h-6.20zM125.05 285.50h6.20v9.19h-6.20zM130.99 285.50h6.20v9.19h-6.20zM148.83 285.50h6.20v9.19h-6.20zM166.68 285.50h6.20v9.19h-6.20zM172.62 285.50h6.20v9.19h-6.20zM226.15 285.50h6.20v9.19h-6.20zM273.72 285.50h6.20v9.19h-6.20zM291.56 285.50h6.20v9.19h-6.20zM303.46 285.50h6.20v9.19h-6.20zM309.40 285.50h6.20v9.19h-6.20zM315.35 285.50h6.20v9.19h-6.20zM327.25 285.50h6.20v9.19h-6.20zM362.93 285.50h6.20v9.19h-6.20zM130.99 294.44h6.20v9.19h-6.20zM142.89 294.44h6.20v9.19h-6.20zM154.78 294.44h6.20v9.19h-6.20zM160.73 294.44h6.20v9.19h-6.20zM172.62 294.44h6.20v9.19h-6.20zM285.62 294.44h6.20v9.19h-6.20zM291.56 294.44h6.20v9.19h-6.20zM309.40 294.44h6.20v9.19h-6.20zM315.35 294.44h6.20v9.19h-6.20zM327.25 294.44h6.20v9.19h-6.20zM345.09 294.44h6.20v9.19h-6.20zM356.98 294.44h6.20v9.19h-6.20zM380.77 294.44h6.20v9.19h-6.20zM386.72 294.44h6.20v9.19h-6.20zM392.66 294.44h6.20v9.19h-6.20zM130.99 303.38h6.20v9.19h-6.20zM345.09 303.38h6.20v9.19h-6.20zM362.93 303.38h6.20v9.19h-6.20zM374.82 303.38h6.20v9.19h-6.20zM380.77 303.38h6.20v9.19h-6.20zM386.72 303.38h6.20v9.19h-6.20zM392.66 303.38h6.20v9.19h-6.20zM125.05 321.26h6.20v9.19h-6.20zM136.94 321.26h6.20v9.19h-6.20zM142.89 321.26h6.20v9.19h-6.20zM148.83 321.26h6.20v9.19h-6.20zM154.78 321.26h6.20v9.19h-6.20zM160.73 321.26h6.20v9.19h-6.20zM166.68 321.26h6.20v9.19h-6.20zM172.62 321.26h6.20v9.19h-6.20zM178.57 321.26h6.20v9.19h-6.20zM184.52 321.26h6.20v9.19h-6.20zM226.15 321.26h6.20v9.19h-6.20zM291.56 321.26h6.20v9.19h-6.20zM303.46 321.26h6.20v9.19h-6.20zM356.98 321.26h6.20v9.19h-6.20zM130.99 392.78h6.20v9.19h-6.20zM136.94 410.66h6.20v9.19h-6.20zM142.89 410.66h6.20v9.19h-6.20zM148.83 410.66h6.20v9.19h-6.20zM166.68 410.66h6.20v9.19h-6.20zM172.62 410.66h6.20v9.19h-6.20zM178.57 410.66h6.20v9.19h-6.20zM130.99 419.60h6.20v9.19h-6.20zM166.68 419.60h6.20v9.19h-6.20zM125.05 428.54h6.20v9.19h-6.20zM136.94 428.54h6.20v9.19h-6.20zM178.57 428.54h6.20v9.19h-6.20zM184.52 428.54h6.20v9.19h-6.20zM160.73 473.24h6.20v9.19h-6.20zM178.57 473.24h6.20v9.19h-6.20zM125.05 482.18h6.20v9.19h-6.20zM136.94 482.18h6.20v9.19h-6.20zM154.78 482.18h6.20v9.19h-6.20zM160.73 482.18h6.20v9.19h-6.20zM172.62 482.18h6.20v9.19h-6.20zM178.57 482.18h6.20v9.19h-6.20zM184.52 482.18h6.20v9.19h-6.20zM232.09 526.88h6.20v9.19h-6.20zM238.04 526.88h6.20v9.19h-6.20zM291.56 526.88h6.20v9.19h-6.20zM297.51 526.88h6.20v9.19h-6.20zM327.25 526.88h6.20v9.19h-6.20zM339.14 526.88h6.20v9.19h-6.20zM345.09 526.88h6.20v9.19h-6.20zM279.67 562.64h6.20v9.19h-6.20zM303.46 562.64h6.20v9.19h-6.20zM285.62 580.52h6.20v9.19h-6.20zM279.67 607.34h6.20v9.19h-6.20z"/>
<path fill="#a3307e" d="M333.19 205.04h6.20v9.19h-6.20zM119.10 222.92h6.20v9.19h-6.20zM154.78 222.92h6.20v9.19h-6.20zM166.68 222.92h6.20v9.19h-6.20zM178.57 222.92h6.20v9.19h-6.20zM214.25 222.92h6.20v9.19h-6.20zM333.19 222.92h6.20v9.19h-6.20zM351.03 222.92h6.20v9.19h-6.20zM136.94 258.68h6.20v9.19h-6.20zM303.46 258.68h6.20v9.19h-6.20zM243.99 267.62h6.20v9.19h-6.20zM386.72 267.62h6.20v9.19h-6.20zM232.09 285.50h6.20v9.19h-6.20zM238.04 285.50h6.20v9.19h-6.20zM267.77 285.50h6.20v9.19h-6.20zM249.93 303.38h6.20v9.19h-6.20zM243.99 312.32h6.20v9.19h-6.20zM285.62 321.26h6.20v9.19h-6.20zM184.52 330.20h6.20v9.19h-6.20zM249.93 330.20h6.20v9.19h-6.20zM148.83 357.02h6.20v9.19h-6.20zM142.89 374.90h6.20v9.19h-6.20zM130.99 383.84h6.20v9.19h-6.20zM136.94 383.84h6.20v9.19h-6.20zM142.89 383.84h6.20v9.19h-6.20zM148.83 383.84h6.20v9.19h-6.20zM398.61 383.84h6.20v9.19h-6.20zM154.78 401.72h6.20v9.19h-6.20zM166.68 401.72h6.20v9.19h-6.20zM184.52 401.72h6.20v9.19h-6.20zM119.10 437.48h6.20v9.19h-6.20zM238.04 500.06h6.20v9.19h-6.20zM226.15 509.00h6.20v9.19h-6.20zM243.99 517.94h6.20v9.19h-6.20zM249.93 517.94h6.20v9.19h-6.20zM267.77 517.94h6.20v9.19h-6.20zM351.03 517.94h6.20v9.19h-6.20zM362.93 517.94h6.20v9.19h-6.20zM220.20 535.82h6.20v9.19h-6.20zM220.20 544.76h6.20v9.19h-6.20zM226.15 544.76h6.20v9.19h-6.20zM214.25 562.64h6.20v9.19h-6.20zM238.04 571.58h6.20v9.19h-6.20zM243.99 571.58h6.20v9.19h-6.20zM255.88 571.58h6.20v9.19h-6.20zM351.03 571.58h6.20v9.19h-6.20zM380.77 571.58h6.20v9.19h-6.20zM238.04 589.46h6.20v9.19h-6.20zM243.99 589.46h6.20v9.19h-6.20zM255.88 589.46h6.20v9.19h-6.20zM351.03 589.46h6.20v9.19h-6.20zM362.93 589.46h6.20v9.19h-6.20zM368.87 589.46h6.20v9.19h-6.20zM374.82 589.46h6.20v9.19h-6.20zM255.88 598.40h6.20v9.19h-6.20zM267.77 598.40h6.20v9.19h-6.20zM291.56 598.40h6.20v9.19h-6.20zM297.51 598.40h6.20v9.19h-6.20zM297.51 607.34h6.20v9.19h-6.20zM303.46 607.34h6.20v9.19h-6.20zM261.83 643.10h6.20v9.19h-6.20zM291.56 643.10h6.20v9.19h-6.20zM297.51 643.10h6.20v9.19h-6.20zM392.66 643.10h6.20v9.19h-6.20zM273.72 660.98h6.20v9.19h-6.20zM285.62 660.98h6.20v9.19h-6.20zM303.46 660.98h6.20v9.19h-6.20zM356.98 660.98h6.20v9.19h-6.20zM380.77 660.98h6.20v9.19h-6.20zM380.77 687.80h6.20v9.19h-6.20zM351.03 696.74h6.20v9.19h-6.20zM362.93 696.74h6.20v9.19h-6.20zM386.72 696.74h6.20v9.19h-6.20zM333.19 705.68h6.20v9.19h-6.20zM374.82 705.68h6.20v9.19h-6.20z"/>
<path fill="#8c2981" d="M160.73 222.92h6.20v9.19h-6.20zM208.31 222.92h6.20v9.19h-6.20zM220.20 222.92h6.20v9.19h-6.20zM226.15 222.92h6.20v9.19h-6.20zM232.09 222.92h6.20v9.19h-6.20zM279.67 222.92h6.20v9.19h-6.20zM232.09 249.74h6.20v9.19h-6.20zM238.04 249.74h6.20v9.19h-6.20zM279.67 249.74h6.20v9.19h-6.20zM220.20 267.62h6.20v9.19h-6.20zM273.72 276.56h6.20v9.19h-6.20zM249.93 312.32h6.20v9.19h-6.20zM232.09 321.26h6.20v9.19h-6.20zM238.04 321.26h6.20v9.19h-6.20zM243.99 330.20h6.20v9.19h-6.20zM285.62 339.14h6.20v9.19h-6.20zM130.99 374.90h6.20v9.19h-6.20zM172.62 374.90h6.20v9.19h-6.20zM392.66 374.90h6.20v9.19h-6.20zM166.68 383.84h6.20v9.19h-6.20zM321.30 383.84h6.20v9.19h-6.20zM130.99 401.72h6.20v9.19h-6.20zM202.36 419.60h6.20v9.19h-6.20zM196.41 428.54h6.20v9.19h-6.20zM154.78 437.48h6.20v9.19h-6.20zM202.36 473.24h6.20v9.19h-6.20zM220.20 509.00h6.20v9.19h-6.20zM309.40 517.94h6.20v9.19h-6.20zM327.25 517.94h6.20v9.19h-6.20zM339.14 517.94h6.20v9.19h-6.20zM345.09 517.94h6.20v9.19h-6.20zM368.87 517.94h6.20v9.19h-6.20zM374.82 517.94h6.20v9.19h-6.20zM190.46 562.64h6.20v9.19h-6.20zM345.09 562.64h6.20v9.19h-6.20zM309.40 571.58h6.20v9.19h-6.20zM273.72 580.52h6.20v9.19h-6.20zM291.56 580.52h6.20v9.19h-6.20zM261.83 589.46h6.20v9.19h-6.20zM273.72 598.40h6.20v9.19h-6.20zM321.30 598.40h6.20v9.19h-6.20zM345.09 598.40h6.20v9.19h-6.20zM309.40 607.34h6.20v9.19h-6.20zM315.35 607.34h6.20v9.19h-6.20zM374.82 607.34h6.20v9.19h-6.20zM273.72 616.28h6.20v9.19h-6.20zM285.62 616.28h6.20v9.19h-6.20zM327.25 643.10h6.20v9.19h-6.20zM339.14 643.10h6.20v9.19h-6.20zM345.09 643.10h6.20v9.19h-6.20zM398.61 643.10h6.20v9.19h-6.20zM267.77 660.98h6.20v9.19h-6.20zM297.51 660.98h6.20v9.19h-6.20zM309.40 660.98h6.20v9.19h-6.20zM315.35 660.98h6.20v9.19h-6.20zM321.30 660.98h6.20v9.19h-6.20zM327.25 660.98h6.20v9.19h-6.20zM345.09 660.98h6.20v9.19h-6.20zM351.03 660.98h6.20v9.19h-6.20zM392.66 660.98h6.20v9.19h-6.20zM291.56 687.80h6.20v9.19h-6.20zM392.66 696.74h6.20v9.19h-6.20zM297.51 705.68h6.20v9.19h-6.20zM356.98 705.68h6.20v9.19h-6.20zM362.93 705.68h6.20v9.19h-6.20zM398.61 705.68h6.20v9.19h-6.20zM243.99 714.62h6.20v9.19h-6.20z"/>
<path fill="#3b0f70" d="M202.36 249.74h6.20v9.19h-6.20zM196.41 267.62h6.20v9.19h-6.20zM386.72 276.56h6.20v9.19h-6.20zM232.09 303.38h6.20v9.19h-6.20zM255.88 303.38h6.20v9.19h-6.20zM267.77 312.32h6.20v9.19h-6.20zM255.88 321.26h6.20v9.19h-6.20zM261.83 321.26h6.20v9.19h-6.20zM255.88 330.20h6.20v9.19h-6.20zM190.46 339.14h6.20v9.19h-6.20zM220.20 357.02h6.20v9.19h-6.20zM226.15 357.02h6.20v9.19h-6.20zM238.04 419.60h6.20v9.19h-6.20zM243.99 419.60h6.20v9.19h-6.20zM238.04 544.76h6.20v9.19h-6.20zM362.93 571.58h6.20v9.19h-6.20zM232.09 598.40h6.20v9.19h-6.20zM321.30 616.28h6.20v9.19h-6.20zM374.82 660.98h6.20v9.19h-6.20zM398.61 660.98h6.20v9.19h-6.20zM398.61 696.74h6.20v9.19h-6.20zM261.83 705.68h6.20v9.19h-6.20z"/>
<path fill="#752181" d="M208.31 249.74h6.20v9.19h-6.20zM243.99 249.74h6.20v9.19h-6.20zM249.93 249.74h6.20v9.19h-6.20zM232.09 258.68h6.20v9.19h-6.20zM297.51 267.62h6.20v9.19h-6.20zM226.15 276.56h6.20v9.19h-6.20zM398.61 276.56h6.20v9.19h-6.20zM238.04 303.38h6.20v9.19h-6.20zM267.77 303.38h6.20v9.19h-6.20zM232.09 312.32h6.20v9.19h-6.20zM285.62 312.32h6.20v9.19h-6.20zM214.25 330.20h6.20v9.19h-6.20zM279.67 330.20h6.20v9.19h-6.20zM226.15 339.14h6.20v9.19h-6.20zM232.09 339.14h6.20v9.19h-6.20zM154.78 383.84h6.20v9.19h-6.20zM196.41 437.48h6.20v9.19h-6.20zM190.46 473.24h6.20v9.19h-6.20zM196.41 473.24h6.20v9.19h-6.20zM202.36 509.00h6.20v9.19h-6.20zM273.72 509.00h6.20v9.19h-6.20zM333.19 517.94h6.20v9.19h-6.20zM386.72 517.94h6.20v9.19h-6.20zM238.04 535.82h6.20v9.19h-6.20zM196.41 562.64h6.20v9.19h-6.20zM327.25 562.64h6.20v9.19h-6.20zM333.19 562.64h6.20v9.19h-6.20zM368.87 562.64h6.20v9.19h-6.20zM148.83 571.58h6.20v9.19h-6.20zM327.25 589.46h6.20v9.19h-6.20zM315.35 598.40h6.20v9.19h-6.20zM327.25 598.40h6.20v9.19h-6.20zM339.14 598.40h6.20v9.19h-6.20zM356.98 598.40h6.20v9.19h-6.20zM374.82 598.40h6.20v9.19h-6.20zM255.88 616.28h6.20v9.19h-6.20zM261.83 616.28h6.20v9.19h-6.20zM291.56 616.28h6.20v9.19h-6.20zM309.40 616.28h6.20v9.19h-6.20zM315.35 616.28h6.20v9.19h-6.20zM386.72 616.28h6.20v9.19h-6.20zM243.99 634.16h6.20v9.19h-6.20zM267.77 643.10h6.20v9.19h-6.20zM368.87 643.10h6.20v9.19h-6.20zM386.72 643.10h6.20v9.19h-6.20zM303.46 678.86h6.20v9.19h-6.20zM309.40 678.86h6.20v9.19h-6.20zM309.40 687.80h6.20v9.19h-6.20zM368.87 696.74h6.20v9.19h-6.20zM374.82 696.74h6.20v9.19h-6.20zM196.41 705.68h6.20v9.19h-6.20zM202.36 705.68h6.20v9.19h-6.20zM208.31 705.68h6.20v9.19h-6.20zM273.72 705.68h6.20v9.19h-6.20zM279.67 705.68h6.20v9.19h-6.20zM285.62 705.68h6.20v9.19h-6.20zM291.56 705.68h6.20v9.19h-6.20zM321.30 705.68h6.20v9.19h-6.20zM339.14 705.68h6.20v9.19h-6.20z"/>
<path fill="#59157e" d="M267.77 249.74h6.20v9.19h-6.20zM232.09 267.62h6.20v9.19h-6.20zM238.04 267.62h6.20v9.19h-6.20zM249.93 267.62h6.20v9.19h-6.20zM267.77 267.62h6.20v9.19h-6.20zM279.67 267.62h6.20v9.19h-6.20zM285.62 267.62h6.20v9.19h-6.20zM285.62 276.56h6.20v9.19h-6.20zM356.98 276.56h6.20v9.19h-6.20zM220.20 285.50h6.20v9.19h-6.20zM255.88 285.50h6.20v9.19h-6.20zM261.83 285.50h6.20v9.19h-6.20zM267.77 321.26h6.20v9.19h-6.20zM279.67 321.26h6.20v9.19h-6.20zM398.61 348.08h6.20v9.19h-6.20zM398.61 392.78h6.20v9.19h-6.20zM398.61 401.72h6.20v9.19h-6.20zM214.25 419.60h6.20v9.19h-6.20zM232.09 500.06h6.20v9.19h-6.20zM249.93 500.06h6.20v9.19h-6.20zM297.51 517.94h6.20v9.19h-6.20zM303.46 526.88h6.20v9.19h-6.20zM321.30 562.64h6.20v9.19h-6.20zM351.03 562.64h6.20v9.19h-6.20zM172.62 589.46h6.20v9.19h-6.20zM380.77 589.46h6.20v9.19h-6.20zM303.46 598.40h6.20v9.19h-6.20zM309.40 598.40h6.20v9.19h-6.20zM351.03 598.40h6.20v9.19h-6.20zM362.93 598.40h6.20v9.19h-6.20zM368.87 598.40h6.20v9.19h-6.20zM386.72 598.40h6.20v9.19h-6.20zM398.61 598.40h6.20v9.19h-6.20zM327.25 607.34h6.20v9.19h-6.20zM339.14 607.34h6.20v9.19h-6.20zM362.93 607.34h6.20v9.19h-6.20zM386.72 607.34h6.20v9.19h-6.20zM291.56 625.22h6.20v9.19h-6.20zM303.46 643.10h6.20v9.19h-6.20zM362.93 643.10h6.20v9.19h-6.20zM238.04 652.04h6.20v9.19h-6.20zM267.77 652.04h6.20v9.19h-6.20zM339.14 660.98h6.20v9.19h-6.20zM362.93 660.98h6.20v9.19h-6.20zM285.62 678.86h6.20v9.19h-6.20zM380.77 696.74h6.20v9.19h-6.20zM148.83 705.68h6.20v9.19h-6.20zM214.25 705.68h6.20v9.19h-6.20zM232.09 705.68h6.20v9.19h-6.20zM255.88 705.68h6.20v9.19h-6.20zM267.77 705.68h6.20v9.19h-6.20zM351.03 705.68h6.20v9.19h-6.20zM267.77 714.62h6.20v9.19h-6.20z"/>
<path fill="#1e1149" d="M232.09 276.56h6.20v9.19h-6.20zM261.83 303.38h6.20v9.19h-6.20zM238.04 312.32h6.20v9.19h-6.20zM255.88 312.32h6.20v9.19h-6.20zM232.09 330.20h6.20v9.19h-6.20zM261.83 330.20h6.20v9.19h-6.20zM267.77 330.20h6.20v9.19h-6.20zM255.88 419.60h6.20v9.19h-6.20zM261.83 419.60h6.20v9.19h-6.20zM232.09 428.54h6.20v9.19h-6.20zM261.83 482.18h6.20v9.19h-6.20zM232.09 607.34h6.20v9.19h-6.20zM255.88 714.62h6.20v9.19h-6.20z"/>
<path fill="#02020b" d="M232.09 419.60h6.20v9.19h-6.20zM267.77 419.60h6.20v9.19h-6.20zM232.09 482.18h6.20v9.19h-6.20zM232.09 491.12h6.20v9.19h-6.20z"/>
<path fill="#e24d66" d="M416.90 196.10h6.20v9.19h-6.20zM422.85 196.10h6.20v9.19h-6.20zM428.79 196.10h6.20v9.19h-6.20zM434.74 196.10h6.20v9.19h-6.20zM458.53 196.10h6.20v9.19h-6.20zM470.42 196.10h6.20v9.19h-6.20zM482.32 196.10h6.20v9.19h-6.20zM506.10 196.10h6.20v9.19h-6.20zM547.73 196.10h6.20v9.19h-6.20zM553.68 196.10h6.20v9.19h-6.20zM577.47 196.10h6.20v9.19h-6.20zM583.42 196.10h6.20v9.19h-6.20zM619.10 196.10h6.20v9.19h-6.20zM642.89 196.10h6.20v9.19h-6.20zM648.83 196.10h6.20v9.19h-6.20zM666.67 196.10h6.20v9.19h-6.20zM690.46 196.10h6.20v9.19h-6.20zM702.36 196.10h6.20v9.19h-6.20zM416.90 205.04h6.20v9.19h-6.20zM518.00 205.04h6.20v9.19h-6.20zM523.95 205.04h6.20v9.19h-6.20zM535.84 205.04h6.20v9.19h-6.20zM559.63 205.04h6.20v9.19h-6.20zM565.58 205.04h6.20v9.19h-6.20zM577.47 205.04h6.20v9.19h-6.20zM589.36 205.04h6.20v9.19h-6.20zM601.26 205.04h6.20v9.19h-6.20zM613.15 205.04h6.20v9.19h-6.20zM630.99 205.04h6.20v9.19h-6.20zM636.94 205.04h6.20v9.19h-6.20zM672.62 205.04h6.20v9.19h-6.20zM684.51 205.04h6.20v9.19h-6.20zM696.41 205.04h6.20v9.19h-6.20zM702.36 205.04h6.20v9.19h-6.20zM416.90 213.98h6.20v9.19h-6.20zM422.85 213.98h6.20v9.19h-6.20zM428.79 213.98h6.20v9.19h-6.20zM434.74 213.98h6.20v9.19h-6.20zM446.63 213.98h6.20v9.19h-6.20zM452.58 213.98h6.20v9.19h-6.20zM458.53 213.98h6.20v9.19h-6.20zM470.42 213.98h6.20v9.19h-6.20zM476.37 213.98h6.20v9.19h-6.20zM482.32 213.98h6.20v9.19h-6.20zM494.21 213.98h6.20v9.19h-6.20zM523.95 213.98h6.20v9.19h-6.20zM529.89 213.98h6.20v9.19h-6.20zM577.47 213.98h6.20v9.19h-6.20zM666.67 213.98h6.20v9.19h-6.20zM702.36 213.98h6.20v9.19h-6.20zM428.79 231.86h6.20v9.19h-6.20zM440.69 231.86h6.20v9.19h-6.20zM446.63 231.86h6.20v9.19h-6.20zM559.63 231.86h6.20v9.19h-6.20zM642.89 231.86h6.20v9.19h-6.20zM666.67 231.86h6.20v9.19h-6.20zM452.58 240.80h6.20v9.19h-6.20zM482.32 240.80h6.20v9.19h-6.20zM506.10 240.80h6.20v9.19h-6.20zM518.00 240.80h6.20v9.19h-6.20zM523.95 240.80h6.20v9.19h-6.20zM529.89 240.80h6.20v9.19h-6.20zM613.15 240.80h6.20v9.19h-6.20zM619.10 240.80h6.20v9.19h-6.20zM625.04 240.80h6.20v9.19h-6.20zM666.67 240.80h6.20v9.19h-6.20zM690.46 240.80h6.20v9.19h-6.20zM416.90 249.74h6.20v9.19h-6.20zM422.85 249.74h6.20v9.19h-6.20zM428.79 249.74h6.20v9.19h-6.20zM440.69 249.74h6.20v9.19h-6.20zM446.63 249.74h6.20v9.19h-6.20zM452.58 249.74h6.20v9.19h-6.20zM506.10 249.74h6.20v9.19h-6.20zM577.47 249.74h6.20v9.19h-6.20zM607.20 249.74h6.20v9.19h-6.20zM630.99 249.74h6.20v9.19h-6.20zM636.94 249.74h6.20v9.19h-6.20zM642.89 249.74h6.20v9.19h-6.20zM648.83 249.74h6.20v9.19h-6.20zM660.73 249.74h6.20v9.19h-6.20zM666.67 249.74h6.20v9.19h-6.20zM672.62 249.74h6.20v9.19h-6.20zM678.57 249.74h6.20v9.19h-6.20zM690.46 249.74h6.20v9.19h-6.20zM702.36 249.74h6.20v9.19h-6.20zM458.53 258.68h6.20v9.19h-6.20zM464.48 258.68h6.20v9.19h-6.20zM470.42 258.68h6.20v9.19h-6.20zM571.52 258.68h6.20v9.19h-6.20zM601.26 258.68h6.20v9.19h-6.20zM654.78 258.68h6.20v9.19h-6.20zM416.90 267.62h6.20v9.19h-6.20zM440.69 267.62h6.20v9.19h-6.20zM589.36 267.62h6.20v9.19h-6.20zM595.31 267.62h6.20v9.19h-6.20zM619.10 267.62h6.20v9.19h-6.20zM630.99 267.62h6.20v9.19h-6.20zM636.94 267.62h6.20v9.19h-6.20zM654.78 267.62h6.20v9.19h-6.20zM684.51 267.62h6.20v9.19h-6.20zM488.26 276.56h6.20v9.19h-6.20zM518.00 276.56h6.20v9.19h-6.20zM523.95 276.56h6.20v9.19h-6.20zM565.58 276.56h6.20v9.19h-6.20zM601.26 276.56h6.20v9.19h-6.20zM464.48 294.44h6.20v9.19h-6.20zM648.83 294.44h6.20v9.19h-6.20zM684.51 294.44h6.20v9.19h-6.20zM571.52 303.38h6.20v9.19h-6.20zM470.42 312.32h6.20v9.19h-6.20zM684.51 312.32h6.20v9.19h-6.20zM416.90 330.20h6.20v9.19h-6.20zM446.63 330.20h6.20v9.19h-6.20zM452.58 330.20h6.20v9.19h-6.20zM458.53 330.20h6.20v9.19h-6.20zM541.79 330.20h6.20v9.19h-6.20zM553.68 330.20h6.20v9.19h-6.20zM607.20 330.20h6.20v9.19h-6.20zM630.99 330.20h6.20v9.19h-6.20zM702.36 330.20h6.20v9.19h-6.20zM440.69 357.02h6.20v9.19h-6.20zM446.63 357.02h6.20v9.19h-6.20zM452.58 357.02h6.20v9.19h-6.20zM482.32 357.02h6.20v9.19h-6.20zM494.21 357.02h6.20v9.19h-6.20zM541.79 357.02h6.20v9.19h-6.20zM553.68 357.02h6.20v9.19h-6.20zM559.63 357.02h6.20v9.19h-6.20zM577.47 357.02h6.20v9.19h-6.20zM583.42 357.02h6.20v9.19h-6.20zM589.36 357.02h6.20v9.19h-6.20zM619.10 357.02h6.20v9.19h-6.20zM672.62 357.02h6.20v9.19h-6.20zM535.84 365.96h6.20v9.19h-6.20zM547.73 365.96h6.20v9.19h-6.20zM619.10 365.96h6.20v9.19h-6.20zM625.04 365.96h6.20v9.19h-6.20zM672.62 365.96h6.20v9.19h-6.20zM678.57 365.96h6.20v9.19h-6.20zM470.42 374.90h6.20v9.19h-6.20zM559.63 374.90h6.20v9.19h-6.20zM565.58 374.90h6.20v9.19h-6.20zM571.52 374.90h6.20v9.19h-6.20zM583.42 374.90h6.20v9.19h-6.20zM660.73 374.90h6.20v9.19h-6.20zM666.67 374.90h6.20v9.19h-6.20zM678.57 374.90h6.20v9.19h-6.20zM702.36 374.90h6.20v9.19h-6.20zM428.79 383.84h6.20v9.19h-6.20zM434.74 383.84h6.20v9.19h-6.20zM446.63 383.84h6.20v9.19h-6.20zM452.58 383.84h6.20v9.19h-6.20zM464.48 383.84h6.20v9.19h-6.20zM470.42 383.84h6.20v9.19h-6.20zM506.10 383.84h6.20v9.19h-6.20zM654.78 383.84h6.20v9.19h-6.20zM416.90 392.78h6.20v9.19h-6.20zM422.85 392.78h6.20v9.19h-6.20zM428.79 392.78h6.20v9.19h-6.20zM440.69 392.78h6.20v9.19h-6.20zM452.58 392.78h6.20v9.19h-6.20zM470.42 392.78h6.20v9.19h-6.20zM482.32 392.78h6.20v9.19h-6.20zM494.21 392.78h6.20v9.19h-6.20zM500.16 392.78h6.20v9.19h-6.20zM506.10 392.78h6.20v9.19h-6.20zM512.05 392.78h6.20v9.19h-6.20zM523.95 392.78h6.20v9.19h-6.20zM529.89 392.78h6.20v9.19h-6.20zM535.84 392.78h6.20v9.19h-6.20zM553.68 392.78h6.20v9.19h-6.20zM559.63 392.78h6.20v9.19h-6.20zM565.58 392.78h6.20v9.19h-6.20zM625.04 392.78h6.20v9.19h-6.20zM458.53 419.60h6.20v9.19h-6.20zM559.63 437.48h6.20v9.19h-6.20zM565.58 437.48h6.20v9.19h-6.20zM583.42 437.48h6.20v9.19h-6.20zM589.36 437.48h6.20v9.19h-6.20zM613.15 437.48h6.20v9.19h-6.20zM619.10 437.48h6.20v9.19h-6.20zM625.04 437.48h6.20v9.19h-6.20zM654.78 437.48h6.20v9.19h-6.20zM660.73 437.48h6.20v9.19h-6.20zM613.15 446.42h6.20v9.19h-6.20zM690.46 446.42h6.20v9.19h-6.20zM416.90 455.36h6.20v9.19h-6.20zM446.63 455.36h6.20v9.19h-6.20zM458.53 455.36h6.20v9.19h-6.20zM464.48 455.36h6.20v9.19h-6.20zM470.42 455.36h6.20v9.19h-6.20zM476.37 455.36h6.20v9.19h-6.20zM482.32 455.36h6.20v9.19h-6.20zM506.10 455.36h6.20v9.19h-6.20zM518.00 455.36h6.20v9.19h-6.20zM535.84 455.36h6.20v9.19h-6.20zM547.73 455.36h6.20v9.19h-6.20zM565.58 455.36h6.20v9.19h-6.20zM583.42 455.36h6.20v9.19h-6.20zM601.26 455.36h6.20v9.19h-6.20zM607.20 455.36h6.20v9.19h-6.20zM625.04 455.36h6.20v9.19h-6.20zM666.67 455.36h6.20v9.19h-6.20zM678.57 455.36h6.20v9.19h-6.20zM690.46 455.36h6.20v9.19h-6.20zM476.37 482.18h6.20v9.19h-6.20zM488.26 482.18h6.20v9.19h-6.20zM565.58 482.18h6.20v9.19h-6.20zM571.52 482.18h6.20v9.19h-6.20zM601.26 482.18h6.20v9.19h-6.20zM434.74 491.12h6.20v9.19h-6.20zM452.58 491.12h6.20v9.19h-6.20zM470.42 491.12h6.20v9.19h-6.20zM476.37 491.12h6.20v9.19h-6.20zM482.32 491.12h6.20v9.19h-6.20zM571.52 491.12h6.20v9.19h-6.20zM607.20 491.12h6.20v9.19h-6.20zM630.99 491.12h6.20v9.19h-6.20zM672.62 491.12h6.20v9.19h-6.20zM696.41 491.12h6.20v9.19h-6.20zM512.05 589.46h6.20v9.19h-6.20z"/>
<path fill="#cf4070" d="M440.69 196.10h6.20v9.19h-6.20zM446.63 196.10h6.20v9.19h-6.20zM452.58 196.10h6.20v9.19h-6.20zM464.48 196.10h6.20v9.19h-6.20zM488.26 196.10h6.20v9.19h-6.20zM494.21 196.10h6.20v9.19h-6.20zM500.16 196.10h6.20v9.19h-6.20zM529.89 196.10h6.20v9.19h-6.20zM535.84 196.10h6.20v9.19h-6.20zM559.63 196.10h6.20v9.19h-6.20zM565.58 196.10h6.20v9.19h-6.20zM601.26 196.10h6.20v9.19h-6.20zM607.20 196.10h6.20v9.19h-6.20zM613.15 196.10h6.20v9.19h-6.20zM678.57 196.10h6.20v9.19h-6.20zM529.89 205.04h6.20v9.19h-6.20zM625.04 205.04h6.20v9.19h-6.20zM642.89 205.04h6.20v9.19h-6.20zM660.73 205.04h6.20v9.19h-6.20zM690.46 205.04h6.20v9.19h-6.20zM464.48 213.98h6.20v9.19h-6.20zM488.26 213.98h6.20v9.19h-6.20zM613.15 213.98h6.20v9.19h-6.20zM619.10 213.98h6.20v9.19h-6.20zM642.89 213.98h6.20v9.19h-6.20zM690.46 213.98h6.20v9.19h-6.20zM452.58 231.86h6.20v9.19h-6.20zM458.53 231.86h6.20v9.19h-6.20zM601.26 231.86h6.20v9.19h-6.20zM648.83 231.86h6.20v9.19h-6.20zM422.85 240.80h6.20v9.19h-6.20zM428.79 240.80h6.20v9.19h-6.20zM464.48 240.80h6.20v9.19h-6.20zM476.37 240.80h6.20v9.19h-6.20zM494.21 240.80h6.20v9.19h-6.20zM702.36 240.80h6.20v9.19h-6.20zM654.78 249.74h6.20v9.19h-6.20zM684.51 249.74h6.20v9.19h-6.20zM696.41 249.74h6.20v9.19h-6.20zM506.10 258.68h6.20v9.19h-6.20zM583.42 258.68h6.20v9.19h-6.20zM666.67 258.68h6.20v9.19h-6.20zM690.46 258.68h6.20v9.19h-6.20zM422.85 267.62h6.20v9.19h-6.20zM428.79 267.62h6.20v9.19h-6.20zM446.63 267.62h6.20v9.19h-6.20zM470.42 267.62h6.20v9.19h-6.20zM577.47 267.62h6.20v9.19h-6.20zM625.04 267.62h6.20v9.19h-6.20zM666.67 267.62h6.20v9.19h-6.20zM452.58 276.56h6.20v9.19h-6.20zM458.53 276.56h6.20v9.19h-6.20zM470.42 276.56h6.20v9.19h-6.20zM500.16 276.56h6.20v9.19h-6.20zM506.10 276.56h6.20v9.19h-6.20zM512.05 276.56h6.20v9.19h-6.20zM535.84 276.56h6.20v9.19h-6.20zM434.74 294.44h6.20v9.19h-6.20zM440.69 294.44h6.20v9.19h-6.20zM434.74 312.32h6.20v9.19h-6.20zM434.74 330.20h6.20v9.19h-6.20zM595.31 330.20h6.20v9.19h-6.20zM601.26 330.20h6.20v9.19h-6.20zM654.78 330.20h6.20v9.19h-6.20zM684.51 330.20h6.20v9.19h-6.20zM696.41 330.20h6.20v9.19h-6.20zM488.26 357.02h6.20v9.19h-6.20zM500.16 357.02h6.20v9.19h-6.20zM518.00 357.02h6.20v9.19h-6.20zM523.95 357.02h6.20v9.19h-6.20zM625.04 357.02h6.20v9.19h-6.20zM642.89 357.02h6.20v9.19h-6.20zM648.83 357.02h6.20v9.19h-6.20zM660.73 357.02h6.20v9.19h-6.20zM666.67 357.02h6.20v9.19h-6.20zM678.57 357.02h6.20v9.19h-6.20zM541.79 365.96h6.20v9.19h-6.20zM577.47 365.96h6.20v9.19h-6.20zM636.94 365.96h6.20v9.19h-6.20zM642.89 365.96h6.20v9.19h-6.20zM660.73 365.96h6.20v9.19h-6.20zM702.36 365.96h6.20v9.19h-6.20zM440.69 374.90h6.20v9.19h-6.20zM476.37 374.90h6.20v9.19h-6.20zM512.05 374.90h6.20v9.19h-6.20zM518.00 374.90h6.20v9.19h-6.20zM523.95 374.90h6.20v9.19h-6.20zM589.36 374.90h6.20v9.19h-6.20zM595.31 374.90h6.20v9.19h-6.20zM642.89 374.90h6.20v9.19h-6.20zM690.46 374.90h6.20v9.19h-6.20zM440.69 383.84h6.20v9.19h-6.20zM488.26 383.84h6.20v9.19h-6.20zM559.63 383.84h6.20v9.19h-6.20zM607.20 383.84h6.20v9.19h-6.20zM434.74 392.78h6.20v9.19h-6.20zM446.63 392.78h6.20v9.19h-6.20zM458.53 392.78h6.20v9.19h-6.20zM464.48 392.78h6.20v9.19h-6.20zM476.37 392.78h6.20v9.19h-6.20zM541.79 392.78h6.20v9.19h-6.20zM577.47 392.78h6.20v9.19h-6.20zM583.42 392.78h6.20v9.19h-6.20zM589.36 392.78h6.20v9.19h-6.20zM607.20 392.78h6.20v9.19h-6.20zM613.15 392.78h6.20v9.19h-6.20zM619.10 392.78h6.20v9.19h-6.20zM630.99 392.78h6.20v9.19h-6.20zM660.73 392.78h6.20v9.19h-6.20zM678.57 392.78h6.20v9.19h-6.20zM684.51 392.78h6.20v9.19h-6.20zM702.36 419.60h6.20v9.19h-6.20zM434.74 437.48h6.20v9.19h-6.20zM470.42 437.48h6.20v9.19h-6.20zM494.21 437.48h6.20v9.19h-6.20zM500.16 437.48h6.20v9.19h-6.20zM506.10 437.48h6.20v9.19h-6.20zM518.00 437.48h6.20v9.19h-6.20zM523.95 437.48h6.20v9.19h-6.20zM529.89 437.48h6.20v9.19h-6.20zM553.68 437.48h6.20v9.19h-6.20zM607.20 437.48h6.20v9.19h-6.20zM630.99 437.48h6.20v9.19h-6.20zM666.67 437.48h6.20v9.19h-6.20zM672.62 437.48h6.20v9.19h-6.20zM684.51 437.48h6.20v9.19h-6.20zM494.21 455.36h6.20v9.19h-6.20zM500.16 455.36h6.20v9.19h-6.20zM553.68 455.36h6.20v9.19h-6.20zM559.63 455.36h6.20v9.19h-6.20zM577.47 455.36h6.20v9.19h-6.20zM589.36 455.36h6.20v9.19h-6.20zM619.10 455.36h6.20v9.19h-6.20zM630.99 455.36h6.20v9.19h-6.20zM636.94 455.36h6.20v9.19h-6.20zM642.89 455.36h6.20v9.19h-6.20zM648.83 455.36h6.20v9.19h-6.20zM654.78 455.36h6.20v9.19h-6.20zM696.41 455.36h6.20v9.19h-6.20zM458.53 482.18h6.20v9.19h-6.20zM464.48 482.18h6.20v9.19h-6.20zM535.84 482.18h6.20v9.19h-6.20zM541.79 482.18h6.20v9.19h-6.20zM559.63 482.18h6.20v9.19h-6.20zM666.67 482.18h6.20v9.19h-6.20zM488.26 491.12h6.20v9.19h-6.20zM512.05 491.12h6.20v9.19h-6.20zM518.00 491.12h6.20v9.19h-6.20zM529.89 491.12h6.20v9.19h-6.20zM535.84 491.12h6.20v9.19h-6.20zM541.79 491.12h6.20v9.19h-6.20zM547.73 491.12h6.20v9.19h-6.20zM553.68 491.12h6.20v9.19h-6.20zM559.63 491.12h6.20v9.19h-6.20zM565.58 491.12h6.20v9.19h-6.20zM589.36 491.12h6.20v9.19h-6.20zM601.26 491.12h6.20v9.19h-6.20zM625.04 491.12h6.20v9.19h-6.20zM660.73 491.12h6.20v9.19h-6.20zM666.67 491.12h6.20v9.19h-6.20zM684.51 491.12h6.20v9.19h-6.20zM565.58 535.82h6.20v9.19h-6.20zM571.52 535.82h6.20v9.19h-6.20zM452.58 562.64h6.20v9.19h-6.20zM422.85 589.46h6.20v9.19h-6.20zM488.26 589.46h6.20v9.19h-6.20zM500.16 589.46h6.20v9.19h-6.20z"/>
<path fill="#ba3878" d="M476.37 196.10h6.20v9.19h-6.20zM512.05 196.10h6.20v9.19h-6.20zM518.00 196.10h6.20v9.19h-6.20zM523.95 196.10h6.20v9.19h-6.20zM541.79 196.10h6.20v9.19h-6.20zM589.36 196.10h6.20v9.19h-6.20zM595.31 196.10h6.20v9.19h-6.20zM625.04 196.10h6.20v9.19h-6.20zM630.99 196.10h6.20v9.19h-6.20zM636.94 196.10h6.20v9.19h-6.20zM654.78 196.10h6.20v9.19h-6.20zM660.73 196.10h6.20v9.19h-6.20zM506.10 213.98h6.20v9.19h-6.20zM571.52 213.98h6.20v9.19h-6.20zM601.26 213.98h6.20v9.19h-6.20zM434.74 231.86h6.20v9.19h-6.20zM488.26 231.86h6.20v9.19h-6.20zM416.90 240.80h6.20v9.19h-6.20zM446.63 240.80h6.20v9.19h-6.20zM482.32 258.68h6.20v9.19h-6.20zM488.26 258.68h6.20v9.19h-6.20zM494.21 258.68h6.20v9.19h-6.20zM559.63 258.68h6.20v9.19h-6.20zM642.89 258.68h6.20v9.19h-6.20zM494.21 276.56h6.20v9.19h-6.20zM529.89 276.56h6.20v9.19h-6.20zM553.68 276.56h6.20v9.19h-6.20zM559.63 276.56h6.20v9.19h-6.20zM630.99 276.56h6.20v9.19h-6.20zM428.79 294.44h6.20v9.19h-6.20zM506.10 294.44h6.20v9.19h-6.20zM571.52 312.32h6.20v9.19h-6.20zM470.42 330.20h6.20v9.19h-6.20zM571.52 330.20h6.20v9.19h-6.20zM416.90 357.02h6.20v9.19h-6.20zM422.85 357.02h6.20v9.19h-6.20zM428.79 357.02h6.20v9.19h-6.20zM464.48 357.02h6.20v9.19h-6.20zM512.05 357.02h6.20v9.19h-6.20zM565.58 357.02h6.20v9.19h-6.20zM613.15 365.96h6.20v9.19h-6.20zM648.83 365.96h6.20v9.19h-6.20zM416.90 374.90h6.20v9.19h-6.20zM577.47 374.90h6.20v9.19h-6.20zM619.10 374.90h6.20v9.19h-6.20zM476.37 383.84h6.20v9.19h-6.20zM494.21 383.84h6.20v9.19h-6.20zM500.16 383.84h6.20v9.19h-6.20zM512.05 383.84h6.20v9.19h-6.20zM523.95 383.84h6.20v9.19h-6.20zM529.89 383.84h6.20v9.19h-6.20zM535.84 383.84h6.20v9.19h-6.20zM547.73 383.84h6.20v9.19h-6.20zM553.68 383.84h6.20v9.19h-6.20zM565.58 383.84h6.20v9.19h-6.20zM583.42 383.84h6.20v9.19h-6.20zM595.31 383.84h6.20v9.19h-6.20zM619.10 383.84h6.20v9.19h-6.20zM666.67 383.84h6.20v9.19h-6.20zM642.89 392.78h6.20v9.19h-6.20zM648.83 392.78h6.20v9.19h-6.20zM518.00 401.72h6.20v9.19h-6.20zM559.63 401.72h6.20v9.19h-6.20zM565.58 401.72h6.20v9.19h-6.20zM571.52 401.72h6.20v9.19h-6.20zM583.42 401.72h6.20v9.19h-6.20zM601.26 401.72h6.20v9.19h-6.20zM458.53 437.48h6.20v9.19h-6.20zM482.32 437.48h6.20v9.19h-6.20zM529.89 455.36h6.20v9.19h-6.20zM541.79 455.36h6.20v9.19h-6.20zM595.31 455.36h6.20v9.19h-6.20zM660.73 455.36h6.20v9.19h-6.20zM684.51 455.36h6.20v9.19h-6.20zM702.36 455.36h6.20v9.19h-6.20zM416.90 482.18h6.20v9.19h-6.20zM547.73 482.18h6.20v9.19h-6.20zM630.99 482.18h6.20v9.19h-6.20zM684.51 482.18h6.20v9.19h-6.20zM416.90 491.12h6.20v9.19h-6.20zM458.53 491.12h6.20v9.19h-6.20zM577.47 491.12h6.20v9.19h-6.20zM583.42 491.12h6.20v9.19h-6.20zM595.31 491.12h6.20v9.19h-6.20zM613.15 491.12h6.20v9.19h-6.20zM619.10 491.12h6.20v9.19h-6.20zM636.94 491.12h6.20v9.19h-6.20zM654.78 491.12h6.20v9.19h-6.20zM678.57 491.12h6.20v9.19h-6.20zM690.46 491.12h6.20v9.19h-6.20zM702.36 491.12h6.20v9.19h-6.20zM440.69 562.64h6.20v9.19h-6.20zM446.63 562.64h6.20v9.19h-6.20zM464.48 562.64h6.20v9.19h-6.20zM565.58 562.64h6.20v9.19h-6.20zM416.90 589.46h6.20v9.19h-6.20zM547.73 589.46h6.20v9.19h-6.20zM553.68 589.46h6.20v9.19h-6.20zM559.63 589.46h6.20v9.19h-6.20z"/>
<path fill="#a3307e" d="M571.52 196.10h6.20v9.19h-6.20zM672.62 196.10h6.20v9.19h-6.20zM684.51 196.10h6.20v9.19h-6.20zM500.16 231.86h6.20v9.19h-6.20zM434.74 249.74h6.20v9.19h-6.20zM470.42 249.74h6.20v9.19h-6.20zM541.79 249.74h6.20v9.19h-6.20zM500.16 258.68h6.20v9.19h-6.20zM512.05 258.68h6.20v9.19h-6.20zM518.00 258.68h6.20v9.19h-6.20zM523.95 258.68h6.20v9.19h-6.20zM535.84 258.68h6.20v9.19h-6.20zM547.73 258.68h6.20v9.19h-6.20zM553.68 258.68h6.20v9.19h-6.20zM565.58 258.68h6.20v9.19h-6.20zM589.36 258.68h6.20v9.19h-6.20zM595.31 258.68h6.20v9.19h-6.20zM607.20 258.68h6.20v9.19h-6.20zM613.15 258.68h6.20v9.19h-6.20zM625.04 258.68h6.20v9.19h-6.20zM648.83 258.68h6.20v9.19h-6.20zM660.73 258.68h6.20v9.19h-6.20zM684.51 258.68h6.20v9.19h-6.20zM702.36 258.68h6.20v9.19h-6.20zM541.79 267.62h6.20v9.19h-6.20zM440.69 276.56h6.20v9.19h-6.20zM446.63 276.56h6.20v9.19h-6.20zM547.73 276.56h6.20v9.19h-6.20zM583.42 276.56h6.20v9.19h-6.20zM589.36 276.56h6.20v9.19h-6.20zM607.20 276.56h6.20v9.19h-6.20zM613.15 276.56h6.20v9.19h-6.20zM619.10 276.56h6.20v9.19h-6.20zM571.52 285.50h6.20v9.19h-6.20zM452.58 294.44h6.20v9.19h-6.20zM601.26 294.44h6.20v9.19h-6.20zM601.26 357.02h6.20v9.19h-6.20zM613.15 357.02h6.20v9.19h-6.20zM690.46 357.02h6.20v9.19h-6.20zM690.46 365.96h6.20v9.19h-6.20zM613.15 374.90h6.20v9.19h-6.20zM636.94 374.90h6.20v9.19h-6.20zM482.32 383.84h6.20v9.19h-6.20zM518.00 383.84h6.20v9.19h-6.20zM577.47 383.84h6.20v9.19h-6.20zM625.04 383.84h6.20v9.19h-6.20zM630.99 383.84h6.20v9.19h-6.20zM636.94 383.84h6.20v9.19h-6.20zM678.57 383.84h6.20v9.19h-6.20zM684.51 383.84h6.20v9.19h-6.20zM690.46 383.84h6.20v9.19h-6.20zM702.36 383.84h6.20v9.19h-6.20zM672.62 392.78h6.20v9.19h-6.20zM416.90 401.72h6.20v9.19h-6.20zM422.85 401.72h6.20v9.19h-6.20zM428.79 401.72h6.20v9.19h-6.20zM440.69 401.72h6.20v9.19h-6.20zM452.58 401.72h6.20v9.19h-6.20zM458.53 401.72h6.20v9.19h-6.20zM470.42 401.72h6.20v9.19h-6.20zM488.26 401.72h6.20v9.19h-6.20zM494.21 401.72h6.20v9.19h-6.20zM506.10 401.72h6.20v9.19h-6.20zM523.95 401.72h6.20v9.19h-6.20zM541.79 401.72h6.20v9.19h-6.20zM547.73 401.72h6.20v9.19h-6.20zM553.68 401.72h6.20v9.19h-6.20zM577.47 401.72h6.20v9.19h-6.20zM589.36 401.72h6.20v9.19h-6.20zM595.31 401.72h6.20v9.19h-6.20zM607.20 401.72h6.20v9.19h-6.20zM619.10 401.72h6.20v9.19h-6.20zM630.99 401.72h6.20v9.19h-6.20zM636.94 401.72h6.20v9.19h-6.20zM660.73 401.72h6.20v9.19h-6.20zM666.67 401.72h6.20v9.19h-6.20zM684.51 401.72h6.20v9.19h-6.20zM690.46 401.72h6.20v9.19h-6.20zM702.36 401.72h6.20v9.19h-6.20zM648.83 419.60h6.20v9.19h-6.20zM678.57 419.60h6.20v9.19h-6.20zM422.85 437.48h6.20v9.19h-6.20zM464.48 437.48h6.20v9.19h-6.20zM541.79 437.48h6.20v9.19h-6.20zM648.83 437.48h6.20v9.19h-6.20zM512.05 455.36h6.20v9.19h-6.20zM672.62 455.36h6.20v9.19h-6.20zM428.79 482.18h6.20v9.19h-6.20zM470.42 482.18h6.20v9.19h-6.20zM500.16 482.18h6.20v9.19h-6.20zM512.05 482.18h6.20v9.19h-6.20zM518.00 482.18h6.20v9.19h-6.20zM529.89 482.18h6.20v9.19h-6.20zM577.47 482.18h6.20v9.19h-6.20zM583.42 482.18h6.20v9.19h-6.20zM613.15 482.18h6.20v9.19h-6.20zM619.10 482.18h6.20v9.19h-6.20zM625.04 482.18h6.20v9.19h-6.20zM660.73 482.18h6.20v9.19h-6.20zM464.48 491.12h6.20v9.19h-6.20zM523.95 491.12h6.20v9.19h-6.20zM642.89 491.12h6.20v9.19h-6.20zM434.74 562.64h6.20v9.19h-6.20zM512.05 562.64h6.20v9.19h-6.20zM440.69 589.46h6.20v9.19h-6.20zM446.63 589.46h6.20v9.19h-6.20zM458.53 589.46h6.20v9.19h-6.20zM464.48 589.46h6.20v9.19h-6.20zM482.32 589.46h6.20v9.19h-6.20zM518.00 589.46h6.20v9.19h-6.20zM523.95 589.46h6.20v9.19h-6.20zM535.84 589.46h6.20v9.19h-6.20zM565.58 589.46h6.20v9.19h-6.20zM571.52 589.46h6.20v9.19h-6.20z"/>
<path fill="#8c2981" d="M696.41 196.10h6.20v9.19h-6.20zM476.37 258.68h6.20v9.19h-6.20zM529.89 258.68h6.20v9.19h-6.20zM577.47 258.68h6.20v9.19h-6.20zM619.10 258.68h6.20v9.19h-6.20zM630.99 258.68h6.20v9.19h-6.20zM636.94 258.68h6.20v9.19h-6.20zM672.62 258.68h6.20v9.19h-6.20zM678.57 258.68h6.20v9.19h-6.20zM482.32 276.56h6.20v9.19h-6.20zM625.04 276.56h6.20v9.19h-6.20zM636.94 276.56h6.20v9.19h-6.20zM642.89 276.56h6.20v9.19h-6.20zM648.83 276.56h6.20v9.19h-6.20zM678.57 276.56h6.20v9.19h-6.20zM690.46 276.56h6.20v9.19h-6.20zM696.41 276.56h6.20v9.19h-6.20zM702.36 276.56h6.20v9.19h-6.20zM476.37 357.02h6.20v9.19h-6.20zM488.26 374.90h6.20v9.19h-6.20zM541.79 383.84h6.20v9.19h-6.20zM589.36 383.84h6.20v9.19h-6.20zM642.89 383.84h6.20v9.19h-6.20zM660.73 383.84h6.20v9.19h-6.20zM696.41 392.78h6.20v9.19h-6.20zM476.37 401.72h6.20v9.19h-6.20zM482.32 401.72h6.20v9.19h-6.20zM500.16 401.72h6.20v9.19h-6.20zM512.05 401.72h6.20v9.19h-6.20zM529.89 401.72h6.20v9.19h-6.20zM535.84 401.72h6.20v9.19h-6.20zM613.15 401.72h6.20v9.19h-6.20zM648.83 401.72h6.20v9.19h-6.20zM654.78 401.72h6.20v9.19h-6.20zM583.42 419.60h6.20v9.19h-6.20zM416.90 437.48h6.20v9.19h-6.20zM440.69 437.48h6.20v9.19h-6.20zM476.37 437.48h6.20v9.19h-6.20zM512.05 437.48h6.20v9.19h-6.20zM601.26 437.48h6.20v9.19h-6.20zM636.94 437.48h6.20v9.19h-6.20zM690.46 437.48h6.20v9.19h-6.20zM696.41 437.48h6.20v9.19h-6.20zM422.85 482.18h6.20v9.19h-6.20zM434.74 482.18h6.20v9.19h-6.20zM440.69 482.18h6.20v9.19h-6.20zM446.63 482.18h6.20v9.19h-6.20zM452.58 482.18h6.20v9.19h-6.20zM482.32 482.18h6.20v9.19h-6.20zM494.21 482.18h6.20v9.19h-6.20zM506.10 482.18h6.20v9.19h-6.20zM523.95 482.18h6.20v9.19h-6.20zM553.68 482.18h6.20v9.19h-6.20zM636.94 482.18h6.20v9.19h-6.20zM642.89 482.18h6.20v9.19h-6.20zM672.62 482.18h6.20v9.19h-6.20zM702.36 482.18h6.20v9.19h-6.20zM494.21 491.12h6.20v9.19h-6.20zM506.10 491.12h6.20v9.19h-6.20zM500.16 562.64h6.20v9.19h-6.20zM541.79 562.64h6.20v9.19h-6.20zM547.73 562.64h6.20v9.19h-6.20zM559.63 562.64h6.20v9.19h-6.20zM428.79 589.46h6.20v9.19h-6.20zM452.58 589.46h6.20v9.19h-6.20zM470.42 589.46h6.20v9.19h-6.20zM476.37 589.46h6.20v9.19h-6.20zM494.21 589.46h6.20v9.19h-6.20zM506.10 589.46h6.20v9.19h-6.20zM529.89 589.46h6.20v9.19h-6.20zM577.47 589.46h6.20v9.19h-6.20zM654.78 589.46h6.20v9.19h-6.20zM696.41 589.46h6.20v9.19h-6.20z"/>
<path fill="#f2645c" d="M422.85 205.04h6.20v9.19h-6.20zM428.79 205.04h6.20v9.19h-6.20zM434.74 205.04h6.20v9.19h-6.20zM440.69 205.04h6.20v9.19h-6.20zM452.58 205.04h6.20v9.19h-6.20zM476.37 205.04h6.20v9.19h-6.20zM482.32 205.04h6.20v9.19h-6.20zM494.21 205.04h6.20v9.19h-6.20zM500.16 205.04h6.20v9.19h-6.20zM506.10 205.04h6.20v9.19h-6.20zM512.05 205.04h6.20v9.19h-6.20zM547.73 205.04h6.20v9.19h-6.20zM553.68 205.04h6.20v9.19h-6.20zM583.42 205.04h6.20v9.19h-6.20zM595.31 205.04h6.20v9.19h-6.20zM619.10 205.04h6.20v9.19h-6.20zM648.83 205.04h6.20v9.19h-6.20zM678.57 205.04h6.20v9.19h-6.20zM518.00 213.98h6.20v9.19h-6.20zM535.84 213.98h6.20v9.19h-6.20zM541.79 213.98h6.20v9.19h-6.20zM547.73 213.98h6.20v9.19h-6.20zM553.68 213.98h6.20v9.19h-6.20zM559.63 213.98h6.20v9.19h-6.20zM583.42 213.98h6.20v9.19h-6.20zM589.36 213.98h6.20v9.19h-6.20zM595.31 213.98h6.20v9.19h-6.20zM625.04 213.98h6.20v9.19h-6.20zM648.83 213.98h6.20v9.19h-6.20zM654.78 213.98h6.20v9.19h-6.20zM660.73 213.98h6.20v9.19h-6.20zM416.90 231.86h6.20v9.19h-6.20zM422.85 231.86h6.20v9.19h-6.20zM470.42 231.86h6.20v9.19h-6.20zM476.37 231.86h6.20v9.19h-6.20zM506.10 231.86h6.20v9.19h-6.20zM512.05 231.86h6.20v9.19h-6.20zM518.00 231.86h6.20v9.19h-6.20zM529.89 231.86h6.20v9.19h-6.20zM547.73 231.86h6.20v9.19h-6.20zM553.68 231.86h6.20v9.19h-6.20zM571.52 231.86h6.20v9.19h-6.20zM577.47 231.86h6.20v9.19h-6.20zM583.42 231.86h6.20v9.19h-6.20zM678.57 231.86h6.20v9.19h-6.20zM684.51 231.86h6.20v9.19h-6.20zM488.26 240.80h6.20v9.19h-6.20zM500.16 240.80h6.20v9.19h-6.20zM512.05 240.80h6.20v9.19h-6.20zM535.84 240.80h6.20v9.19h-6.20zM553.68 240.80h6.20v9.19h-6.20zM565.58 240.80h6.20v9.19h-6.20zM577.47 240.80h6.20v9.19h-6.20zM595.31 240.80h6.20v9.19h-6.20zM601.26 240.80h6.20v9.19h-6.20zM636.94 240.80h6.20v9.19h-6.20zM642.89 240.80h6.20v9.19h-6.20zM648.83 240.80h6.20v9.19h-6.20zM654.78 240.80h6.20v9.19h-6.20zM660.73 240.80h6.20v9.19h-6.20zM672.62 240.80h6.20v9.19h-6.20zM678.57 240.80h6.20v9.19h-6.20zM458.53 249.74h6.20v9.19h-6.20zM476.37 249.74h6.20v9.19h-6.20zM482.32 249.74h6.20v9.19h-6.20zM488.26 249.74h6.20v9.19h-6.20zM494.21 249.74h6.20v9.19h-6.20zM500.16 249.74h6.20v9.19h-6.20zM512.05 249.74h6.20v9.19h-6.20zM518.00 249.74h6.20v9.19h-6.20zM523.95 249.74h6.20v9.19h-6.20zM529.89 249.74h6.20v9.19h-6.20zM535.84 249.74h6.20v9.19h-6.20zM547.73 249.74h6.20v9.19h-6.20zM553.68 249.74h6.20v9.19h-6.20zM559.63 249.74h6.20v9.19h-6.20zM565.58 249.74h6.20v9.19h-6.20zM583.42 249.74h6.20v9.19h-6.20zM595.31 249.74h6.20v9.19h-6.20zM601.26 249.74h6.20v9.19h-6.20zM619.10 249.74h6.20v9.19h-6.20zM625.04 249.74h6.20v9.19h-6.20zM416.90 258.68h6.20v9.19h-6.20zM440.69 258.68h6.20v9.19h-6.20zM452.58 258.68h6.20v9.19h-6.20zM458.53 267.62h6.20v9.19h-6.20zM482.32 267.62h6.20v9.19h-6.20zM488.26 267.62h6.20v9.19h-6.20zM529.89 267.62h6.20v9.19h-6.20zM547.73 267.62h6.20v9.19h-6.20zM553.68 267.62h6.20v9.19h-6.20zM583.42 267.62h6.20v9.19h-6.20zM642.89 267.62h6.20v9.19h-6.20zM672.62 267.62h6.20v9.19h-6.20zM690.46 267.62h6.20v9.19h-6.20zM696.41 267.62h6.20v9.19h-6.20zM702.36 267.62h6.20v9.19h-6.20zM422.85 276.56h6.20v9.19h-6.20zM428.79 276.56h6.20v9.19h-6.20zM464.48 276.56h6.20v9.19h-6.20zM416.90 294.44h6.20v9.19h-6.20zM422.85 294.44h6.20v9.19h-6.20zM613.15 294.44h6.20v9.19h-6.20zM642.89 294.44h6.20v9.19h-6.20zM660.73 294.44h6.20v9.19h-6.20zM666.67 294.44h6.20v9.19h-6.20zM678.57 294.44h6.20v9.19h-6.20zM702.36 294.44h6.20v9.19h-6.20zM589.36 303.38h6.20v9.19h-6.20zM702.36 303.38h6.20v9.19h-6.20zM446.63 312.32h6.20v9.19h-6.20zM452.58 312.32h6.20v9.19h-6.20zM458.53 312.32h6.20v9.19h-6.20zM464.48 312.32h6.20v9.19h-6.20zM541.79 312.32h6.20v9.19h-6.20zM607.20 312.32h6.20v9.19h-6.20zM648.83 312.32h6.20v9.19h-6.20zM660.73 312.32h6.20v9.19h-6.20zM666.67 312.32h6.20v9.19h-6.20zM696.41 312.32h6.20v9.19h-6.20zM571.52 321.26h6.20v9.19h-6.20zM422.85 330.20h6.20v9.19h-6.20zM428.79 330.20h6.20v9.19h-6.20zM440.69 330.20h6.20v9.19h-6.20zM464.48 330.20h6.20v9.19h-6.20zM482.32 330.20h6.20v9.19h-6.20zM488.26 330.20h6.20v9.19h-6.20zM494.21 330.20h6.20v9.19h-6.20zM500.16 330.20h6.20v9.19h-6.20zM506.10 330.20h6.20v9.19h-6.20zM512.05 330.20h6.20v9.19h-6.20zM518.00 330.20h6.20v9.19h-6.20zM523.95 330.20h6.20v9.19h-6.20zM529.89 330.20h6.20v9.19h-6.20zM535.84 330.20h6.20v9.19h-6.20zM547.73 330.20h6.20v9.19h-6.20zM559.63 330.20h6.20v9.19h-6.20zM565.58 330.20h6.20v9.19h-6.20zM577.47 330.20h6.20v9.19h-6.20zM583.42 330.20h6.20v9.19h-6.20zM589.36 330.20h6.20v9.19h-6.20zM625.04 330.20h6.20v9.19h-6.20zM636.94 330.20h6.20v9.19h-6.20zM642.89 330.20h6.20v9.19h-6.20zM648.83 330.20h6.20v9.19h-6.20zM660.73 330.20h6.20v9.19h-6.20zM666.67 330.20h6.20v9.19h-6.20zM672.62 330.20h6.20v9.19h-6.20zM678.57 330.20h6.20v9.19h-6.20zM690.46 330.20h6.20v9.19h-6.20zM434.74 357.02h6.20v9.19h-6.20zM458.53 357.02h6.20v9.19h-6.20zM506.10 357.02h6.20v9.19h-6.20zM529.89 357.02h6.20v9.19h-6.20zM547.73 357.02h6.20v9.19h-6.20zM595.31 357.02h6.20v9.19h-6.20zM630.99 357.02h6.20v9.19h-6.20zM636.94 357.02h6.20v9.19h-6.20zM654.78 357.02h6.20v9.19h-6.20zM684.51 357.02h6.20v9.19h-6.20zM696.41 357.02h6.20v9.19h-6.20zM702.36 357.02h6.20v9.19h-6.20zM476.37 365.96h6.20v9.19h-6.20zM518.00 365.96h6.20v9.19h-6.20zM523.95 365.96h6.20v9.19h-6.20zM529.89 365.96h6.20v9.19h-6.20zM553.68 365.96h6.20v9.19h-6.20zM583.42 365.96h6.20v9.19h-6.20zM589.36 365.96h6.20v9.19h-6.20zM595.31 365.96h6.20v9.19h-6.20zM607.20 365.96h6.20v9.19h-6.20zM654.78 365.96h6.20v9.19h-6.20zM684.51 365.96h6.20v9.19h-6.20zM696.41 365.96h6.20v9.19h-6.20zM422.85 374.90h6.20v9.19h-6.20zM428.79 374.90h6.20v9.19h-6.20zM434.74 374.90h6.20v9.19h-6.20zM446.63 374.90h6.20v9.19h-6.20zM452.58 374.90h6.20v9.19h-6.20zM458.53 374.90h6.20v9.19h-6.20zM494.21 374.90h6.20v9.19h-6.20zM500.16 374.90h6.20v9.19h-6.20zM529.89 374.90h6.20v9.19h-6.20zM535.84 374.90h6.20v9.19h-6.20zM547.73 374.90h6.20v9.19h-6.20zM553.68 374.90h6.20v9.19h-6.20zM607.20 374.90h6.20v9.19h-6.20zM648.83 374.90h6.20v9.19h-6.20zM654.78 374.90h6.20v9.19h-6.20zM416.90 383.84h6.20v9.19h-6.20zM422.85 383.84h6.20v9.19h-6.20zM458.53 383.84h6.20v9.19h-6.20zM601.26 383.84h6.20v9.19h-6.20zM488.26 392.78h6.20v9.19h-6.20zM518.00 392.78h6.20v9.19h-6.20zM547.73 392.78h6.20v9.19h-6.20zM595.31 392.78h6.20v9.19h-6.20zM666.67 392.78h6.20v9.19h-6.20zM702.36 392.78h6.20v9.19h-6.20zM440.69 419.60h6.20v9.19h-6.20zM452.58 419.60h6.20v9.19h-6.20zM500.16 419.60h6.20v9.19h-6.20zM523.95 419.60h6.20v9.19h-6.20zM625.04 419.60h6.20v9.19h-6.20zM636.94 419.60h6.20v9.19h-6.20zM654.78 419.60h6.20v9.19h-6.20zM672.62 419.60h6.20v9.19h-6.20zM547.73 437.48h6.20v9.19h-6.20zM571.52 437.48h6.20v9.19h-6.20zM577.47 437.48h6.20v9.19h-6.20zM595.31 437.48h6.20v9.19h-6.20zM642.89 437.48h6.20v9.19h-6.20zM577.47 446.42h6.20v9.19h-6.20zM583.42 446.42h6.20v9.19h-6.20zM595.31 446.42h6.20v9.19h-6.20zM619.10 446.42h6.20v9.19h-6.20zM642.89 446.42h6.20v9.19h-6.20zM666.67 446.42h6.20v9.19h-6.20zM422.85 455.36h6.20v9.19h-6.20zM434.74 455.36h6.20v9.19h-6.20zM440.69 455.36h6.20v9.19h-6.20zM452.58 455.36h6.20v9.19h-6.20zM488.26 455.36h6.20v9.19h-6.20zM523.95 455.36h6.20v9.19h-6.20zM613.15 455.36h6.20v9.19h-6.20zM428.79 491.12h6.20v9.19h-6.20zM440.69 491.12h6.20v9.19h-6.20zM500.16 491.12h6.20v9.19h-6.20zM648.83 491.12h6.20v9.19h-6.20z"/>
<path fill="#fb835f" d="M446.63 205.04h6.20v9.19h-6.20zM458.53 205.04h6.20v9.19h-6.20zM654.78 205.04h6.20v9.19h-6.20zM666.67 205.04h6.20v9.19h-6.20zM440.69 213.98h6.20v9.19h-6.20zM500.16 213.98h6.20v9.19h-6.20zM565.58 213.98h6.20v9.19h-6.20zM607.20 213.98h6.20v9.19h-6.20zM630.99 213.98h6.20v9.19h-6.20zM636.94 213.98h6.20v9.19h-6.20zM672.62 213.98h6.20v9.19h-6.20zM678.57 213.98h6.20v9.19h-6.20zM696.41 213.98h6.20v9.19h-6.20zM464.48 231.86h6.20v9.19h-6.20zM535.84 231.86h6.20v9.19h-6.20zM607.20 231.86h6.20v9.19h-6.20zM613.15 231.86h6.20v9.19h-6.20zM619.10 231.86h6.20v9.19h-6.20zM654.78 231.86h6.20v9.19h-6.20zM690.46 231.86h6.20v9.19h-6.20zM696.41 231.86h6.20v9.19h-6.20zM702.36 231.86h6.20v9.19h-6.20zM434.74 240.80h6.20v9.19h-6.20zM440.69 240.80h6.20v9.19h-6.20zM458.53 240.80h6.20v9.19h-6.20zM583.42 240.80h6.20v9.19h-6.20zM589.36 240.80h6.20v9.19h-6.20zM607.20 240.80h6.20v9.19h-6.20zM630.99 240.80h6.20v9.19h-6.20zM464.48 249.74h6.20v9.19h-6.20zM589.36 249.74h6.20v9.19h-6.20zM613.15 249.74h6.20v9.19h-6.20zM422.85 258.68h6.20v9.19h-6.20zM428.79 258.68h6.20v9.19h-6.20zM434.74 258.68h6.20v9.19h-6.20zM446.63 258.68h6.20v9.19h-6.20zM648.83 267.62h6.20v9.19h-6.20zM660.73 267.62h6.20v9.19h-6.20zM678.57 267.62h6.20v9.19h-6.20zM416.90 276.56h6.20v9.19h-6.20zM476.37 276.56h6.20v9.19h-6.20zM434.74 285.50h6.20v9.19h-6.20zM470.42 285.50h6.20v9.19h-6.20zM446.63 294.44h6.20v9.19h-6.20zM458.53 294.44h6.20v9.19h-6.20zM470.42 294.44h6.20v9.19h-6.20zM476.37 294.44h6.20v9.19h-6.20zM482.32 294.44h6.20v9.19h-6.20zM500.16 294.44h6.20v9.19h-6.20zM518.00 294.44h6.20v9.19h-6.20zM523.95 294.44h6.20v9.19h-6.20zM529.89 294.44h6.20v9.19h-6.20zM547.73 294.44h6.20v9.19h-6.20zM565.58 294.44h6.20v9.19h-6.20zM583.42 294.44h6.20v9.19h-6.20zM595.31 294.44h6.20v9.19h-6.20zM619.10 294.44h6.20v9.19h-6.20zM654.78 294.44h6.20v9.19h-6.20zM690.46 294.44h6.20v9.19h-6.20zM500.16 303.38h6.20v9.19h-6.20zM512.05 303.38h6.20v9.19h-6.20zM535.84 303.38h6.20v9.19h-6.20zM601.26 303.38h6.20v9.19h-6.20zM625.04 303.38h6.20v9.19h-6.20zM630.99 303.38h6.20v9.19h-6.20zM672.62 303.38h6.20v9.19h-6.20zM696.41 303.38h6.20v9.19h-6.20zM416.90 312.32h6.20v9.19h-6.20zM422.85 312.32h6.20v9.19h-6.20zM428.79 312.32h6.20v9.19h-6.20zM440.69 312.32h6.20v9.19h-6.20zM482.32 312.32h6.20v9.19h-6.20zM488.26 312.32h6.20v9.19h-6.20zM494.21 312.32h6.20v9.19h-6.20zM500.16 312.32h6.20v9.19h-6.20zM512.05 312.32h6.20v9.19h-6.20zM518.00 312.32h6.20v9.19h-6.20zM523.95 312.32h6.20v9.19h-6.20zM529.89 312.32h6.20v9.19h-6.20zM535.84 312.32h6.20v9.19h-6.20zM547.73 312.32h6.20v9.19h-6.20zM553.68 312.32h6.20v9.19h-6.20zM559.63 312.32h6.20v9.19h-6.20zM565.58 312.32h6.20v9.19h-6.20zM577.47 312.32h6.20v9.19h-6.20zM583.42 312.32h6.20v9.19h-6.20zM589.36 312.32h6.20v9.19h-6.20zM595.31 312.32h6.20v9.19h-6.20zM601.26 312.32h6.20v9.19h-6.20zM613.15 312.32h6.20v9.19h-6.20zM619.10 312.32h6.20v9.19h-6.20zM625.04 312.32h6.20v9.19h-6.20zM630.99 312.32h6.20v9.19h-6.20zM636.94 312.32h6.20v9.19h-6.20zM642.89 312.32h6.20v9.19h-6.20zM654.78 312.32h6.20v9.19h-6.20zM672.62 312.32h6.20v9.19h-6.20zM678.57 312.32h6.20v9.19h-6.20zM690.46 312.32h6.20v9.19h-6.20zM702.36 312.32h6.20v9.19h-6.20zM476.37 330.20h6.20v9.19h-6.20zM613.15 330.20h6.20v9.19h-6.20zM619.10 330.20h6.20v9.19h-6.20zM571.52 339.14h6.20v9.19h-6.20zM470.42 357.02h6.20v9.19h-6.20zM535.84 357.02h6.20v9.19h-6.20zM607.20 357.02h6.20v9.19h-6.20zM428.79 365.96h6.20v9.19h-6.20zM440.69 365.96h6.20v9.19h-6.20zM452.58 365.96h6.20v9.19h-6.20zM482.32 365.96h6.20v9.19h-6.20zM494.21 365.96h6.20v9.19h-6.20zM500.16 365.96h6.20v9.19h-6.20zM506.10 365.96h6.20v9.19h-6.20zM512.05 365.96h6.20v9.19h-6.20zM559.63 365.96h6.20v9.19h-6.20zM565.58 365.96h6.20v9.19h-6.20zM630.99 365.96h6.20v9.19h-6.20zM666.67 365.96h6.20v9.19h-6.20zM482.32 374.90h6.20v9.19h-6.20zM506.10 374.90h6.20v9.19h-6.20zM541.79 374.90h6.20v9.19h-6.20zM601.26 374.90h6.20v9.19h-6.20zM625.04 374.90h6.20v9.19h-6.20zM630.99 374.90h6.20v9.19h-6.20zM672.62 374.90h6.20v9.19h-6.20zM571.52 383.84h6.20v9.19h-6.20zM601.26 392.78h6.20v9.19h-6.20zM654.78 392.78h6.20v9.19h-6.20zM690.46 392.78h6.20v9.19h-6.20zM422.85 419.60h6.20v9.19h-6.20zM434.74 419.60h6.20v9.19h-6.20zM464.48 419.60h6.20v9.19h-6.20zM470.42 419.60h6.20v9.19h-6.20zM476.37 419.60h6.20v9.19h-6.20zM482.32 419.60h6.20v9.19h-6.20zM488.26 419.60h6.20v9.19h-6.20zM494.21 419.60h6.20v9.19h-6.20zM559.63 419.60h6.20v9.19h-6.20zM565.58 419.60h6.20v9.19h-6.20zM589.36 419.60h6.20v9.19h-6.20zM595.31 419.60h6.20v9.19h-6.20zM601.26 419.60h6.20v9.19h-6.20zM630.99 419.60h6.20v9.19h-6.20zM642.89 419.60h6.20v9.19h-6.20zM660.73 419.60h6.20v9.19h-6.20zM535.84 437.48h6.20v9.19h-6.20zM434.74 446.42h6.20v9.19h-6.20zM452.58 446.42h6.20v9.19h-6.20zM464.48 446.42h6.20v9.19h-6.20zM470.42 446.42h6.20v9.19h-6.20zM506.10 446.42h6.20v9.19h-6.20zM523.95 446.42h6.20v9.19h-6.20zM571.52 446.42h6.20v9.19h-6.20zM648.83 446.42h6.20v9.19h-6.20zM678.57 446.42h6.20v9.19h-6.20zM702.36 446.42h6.20v9.19h-6.20zM428.79 455.36h6.20v9.19h-6.20zM422.85 491.12h6.20v9.19h-6.20zM446.63 491.12h6.20v9.19h-6.20zM571.52 562.64h6.20v9.19h-6.20z"/>
<path fill="#fea571" d="M464.48 205.04h6.20v9.19h-6.20zM470.42 205.04h6.20v9.19h-6.20zM488.26 205.04h6.20v9.19h-6.20zM541.79 205.04h6.20v9.19h-6.20zM607.20 205.04h6.20v9.19h-6.20zM512.05 213.98h6.20v9.19h-6.20zM684.51 213.98h6.20v9.19h-6.20zM482.32 231.86h6.20v9.19h-6.20zM523.95 231.86h6.20v9.19h-6.20zM565.58 231.86h6.20v9.19h-6.20zM589.36 231.86h6.20v9.19h-6.20zM595.31 231.86h6.20v9.19h-6.20zM630.99 231.86h6.20v9.19h-6.20zM636.94 231.86h6.20v9.19h-6.20zM660.73 231.86h6.20v9.19h-6.20zM672.62 231.86h6.20v9.19h-6.20zM470.42 240.80h6.20v9.19h-6.20zM541.79 240.80h6.20v9.19h-6.20zM547.73 240.80h6.20v9.19h-6.20zM571.52 240.80h6.20v9.19h-6.20zM684.51 240.80h6.20v9.19h-6.20zM696.41 240.80h6.20v9.19h-6.20zM452.58 267.62h6.20v9.19h-6.20zM476.37 267.62h6.20v9.19h-6.20zM494.21 267.62h6.20v9.19h-6.20zM500.16 267.62h6.20v9.19h-6.20zM506.10 267.62h6.20v9.19h-6.20zM512.05 267.62h6.20v9.19h-6.20zM523.95 267.62h6.20v9.19h-6.20zM559.63 267.62h6.20v9.19h-6.20zM601.26 267.62h6.20v9.19h-6.20zM607.20 267.62h6.20v9.19h-6.20zM613.15 267.62h6.20v9.19h-6.20zM416.90 285.50h6.20v9.19h-6.20zM422.85 285.50h6.20v9.19h-6.20zM428.79 285.50h6.20v9.19h-6.20zM440.69 285.50h6.20v9.19h-6.20zM446.63 285.50h6.20v9.19h-6.20zM452.58 285.50h6.20v9.19h-6.20zM464.48 285.50h6.20v9.19h-6.20zM506.10 285.50h6.20v9.19h-6.20zM541.79 285.50h6.20v9.19h-6.20zM547.73 285.50h6.20v9.19h-6.20zM553.68 285.50h6.20v9.19h-6.20zM607.20 285.50h6.20v9.19h-6.20zM684.51 285.50h6.20v9.19h-6.20zM696.41 285.50h6.20v9.19h-6.20zM702.36 285.50h6.20v9.19h-6.20zM488.26 294.44h6.20v9.19h-6.20zM494.21 294.44h6.20v9.19h-6.20zM512.05 294.44h6.20v9.19h-6.20zM535.84 294.44h6.20v9.19h-6.20zM541.79 294.44h6.20v9.19h-6.20zM553.68 294.44h6.20v9.19h-6.20zM559.63 294.44h6.20v9.19h-6.20zM577.47 294.44h6.20v9.19h-6.20zM589.36 294.44h6.20v9.19h-6.20zM607.20 294.44h6.20v9.19h-6.20zM625.04 294.44h6.20v9.19h-6.20zM630.99 294.44h6.20v9.19h-6.20zM636.94 294.44h6.20v9.19h-6.20zM416.90 303.38h6.20v9.19h-6.20zM422.85 303.38h6.20v9.19h-6.20zM428.79 303.38h6.20v9.19h-6.20zM434.74 303.38h6.20v9.19h-6.20zM440.69 303.38h6.20v9.19h-6.20zM446.63 303.38h6.20v9.19h-6.20zM452.58 303.38h6.20v9.19h-6.20zM458.53 303.38h6.20v9.19h-6.20zM470.42 303.38h6.20v9.19h-6.20zM476.37 303.38h6.20v9.19h-6.20zM488.26 303.38h6.20v9.19h-6.20zM494.21 303.38h6.20v9.19h-6.20zM506.10 303.38h6.20v9.19h-6.20zM518.00 303.38h6.20v9.19h-6.20zM523.95 303.38h6.20v9.19h-6.20zM529.89 303.38h6.20v9.19h-6.20zM541.79 303.38h6.20v9.19h-6.20zM547.73 303.38h6.20v9.19h-6.20zM553.68 303.38h6.20v9.19h-6.20zM559.63 303.38h6.20v9.19h-6.20zM565.58 303.38h6.20v9.19h-6.20zM577.47 303.38h6.20v9.19h-6.20zM583.42 303.38h6.20v9.19h-6.20zM607.20 303.38h6.20v9.19h-6.20zM613.15 303.38h6.20v9.19h-6.20zM619.10 303.38h6.20v9.19h-6.20zM642.89 303.38h6.20v9.19h-6.20zM648.83 303.38h6.20v9.19h-6.20zM654.78 303.38h6.20v9.19h-6.20zM660.73 303.38h6.20v9.19h-6.20zM666.67 303.38h6.20v9.19h-6.20zM678.57 303.38h6.20v9.19h-6.20zM684.51 303.38h6.20v9.19h-6.20zM476.37 312.32h6.20v9.19h-6.20zM506.10 312.32h6.20v9.19h-6.20zM434.74 321.26h6.20v9.19h-6.20zM470.42 321.26h6.20v9.19h-6.20zM512.05 321.26h6.20v9.19h-6.20zM541.79 321.26h6.20v9.19h-6.20zM648.83 321.26h6.20v9.19h-6.20zM684.51 321.26h6.20v9.19h-6.20zM696.41 321.26h6.20v9.19h-6.20zM416.90 365.96h6.20v9.19h-6.20zM422.85 365.96h6.20v9.19h-6.20zM434.74 365.96h6.20v9.19h-6.20zM446.63 365.96h6.20v9.19h-6.20zM458.53 365.96h6.20v9.19h-6.20zM464.48 365.96h6.20v9.19h-6.20zM470.42 365.96h6.20v9.19h-6.20zM488.26 365.96h6.20v9.19h-6.20zM601.26 365.96h6.20v9.19h-6.20zM684.51 374.90h6.20v9.19h-6.20zM696.41 374.90h6.20v9.19h-6.20zM416.90 419.60h6.20v9.19h-6.20zM428.79 419.60h6.20v9.19h-6.20zM506.10 419.60h6.20v9.19h-6.20zM512.05 419.60h6.20v9.19h-6.20zM518.00 419.60h6.20v9.19h-6.20zM529.89 419.60h6.20v9.19h-6.20zM535.84 419.60h6.20v9.19h-6.20zM541.79 419.60h6.20v9.19h-6.20zM547.73 419.60h6.20v9.19h-6.20zM553.68 419.60h6.20v9.19h-6.20zM684.51 419.60h6.20v9.19h-6.20zM416.90 446.42h6.20v9.19h-6.20zM422.85 446.42h6.20v9.19h-6.20zM428.79 446.42h6.20v9.19h-6.20zM440.69 446.42h6.20v9.19h-6.20zM458.53 446.42h6.20v9.19h-6.20zM476.37 446.42h6.20v9.19h-6.20zM482.32 446.42h6.20v9.19h-6.20zM488.26 446.42h6.20v9.19h-6.20zM494.21 446.42h6.20v9.19h-6.20zM518.00 446.42h6.20v9.19h-6.20zM535.84 446.42h6.20v9.19h-6.20zM541.79 446.42h6.20v9.19h-6.20zM547.73 446.42h6.20v9.19h-6.20zM553.68 446.42h6.20v9.19h-6.20zM559.63 446.42h6.20v9.19h-6.20zM565.58 446.42h6.20v9.19h-6.20zM589.36 446.42h6.20v9.19h-6.20zM601.26 446.42h6.20v9.19h-6.20zM607.20 446.42h6.20v9.19h-6.20zM625.04 446.42h6.20v9.19h-6.20zM636.94 446.42h6.20v9.19h-6.20zM654.78 446.42h6.20v9.19h-6.20zM660.73 446.42h6.20v9.19h-6.20zM684.51 446.42h6.20v9.19h-6.20z"/>
<path fill="#fec488" d="M571.52 205.04h6.20v9.19h-6.20zM625.04 231.86h6.20v9.19h-6.20zM559.63 240.80h6.20v9.19h-6.20zM464.48 267.62h6.20v9.19h-6.20zM518.00 267.62h6.20v9.19h-6.20zM535.84 267.62h6.20v9.19h-6.20zM565.58 267.62h6.20v9.19h-6.20zM458.53 285.50h6.20v9.19h-6.20zM476.37 285.50h6.20v9.19h-6.20zM482.32 285.50h6.20v9.19h-6.20zM488.26 285.50h6.20v9.19h-6.20zM494.21 285.50h6.20v9.19h-6.20zM500.16 285.50h6.20v9.19h-6.20zM512.05 285.50h6.20v9.19h-6.20zM518.00 285.50h6.20v9.19h-6.20zM523.95 285.50h6.20v9.19h-6.20zM529.89 285.50h6.20v9.19h-6.20zM535.84 285.50h6.20v9.19h-6.20zM559.63 285.50h6.20v9.19h-6.20zM565.58 285.50h6.20v9.19h-6.20zM577.47 285.50h6.20v9.19h-6.20zM583.42 285.50h6.20v9.19h-6.20zM589.36 285.50h6.20v9.19h-6.20zM595.31 285.50h6.20v9.19h-6.20zM601.26 285.50h6.20v9.19h-6.20zM613.15 285.50h6.20v9.19h-6.20zM619.10 285.50h6.20v9.19h-6.20zM625.04 285.50h6.20v9.19h-6.20zM630.99 285.50h6.20v9.19h-6.20zM636.94 285.50h6.20v9.19h-6.20zM642.89 285.50h6.20v9.19h-6.20zM648.83 285.50h6.20v9.19h-6.20zM654.78 285.50h6.20v9.19h-6.20zM660.73 285.50h6.20v9.19h-6.20zM666.67 285.50h6.20v9.19h-6.20zM672.62 285.50h6.20v9.19h-6.20zM678.57 285.50h6.20v9.19h-6.20zM690.46 285.50h6.20v9.19h-6.20zM571.52 294.44h6.20v9.19h-6.20zM672.62 294.44h6.20v9.19h-6.20zM696.41 294.44h6.20v9.19h-6.20zM464.48 303.38h6.20v9.19h-6.20zM482.32 303.38h6.20v9.19h-6.20zM595.31 303.38h6.20v9.19h-6.20zM636.94 303.38h6.20v9.19h-6.20zM690.46 303.38h6.20v9.19h-6.20zM416.90 321.26h6.20v9.19h-6.20zM422.85 321.26h6.20v9.19h-6.20zM428.79 321.26h6.20v9.19h-6.20zM440.69 321.26h6.20v9.19h-6.20zM446.63 321.26h6.20v9.19h-6.20zM452.58 321.26h6.20v9.19h-6.20zM458.53 321.26h6.20v9.19h-6.20zM464.48 321.26h6.20v9.19h-6.20zM482.32 321.26h6.20v9.19h-6.20zM488.26 321.26h6.20v9.19h-6.20zM494.21 321.26h6.20v9.19h-6.20zM500.16 321.26h6.20v9.19h-6.20zM518.00 321.26h6.20v9.19h-6.20zM523.95 321.26h6.20v9.19h-6.20zM529.89 321.26h6.20v9.19h-6.20zM535.84 321.26h6.20v9.19h-6.20zM547.73 321.26h6.20v9.19h-6.20zM553.68 321.26h6.20v9.19h-6.20zM559.63 321.26h6.20v9.19h-6.20zM565.58 321.26h6.20v9.19h-6.20zM577.47 321.26h6.20v9.19h-6.20zM583.42 321.26h6.20v9.19h-6.20zM589.36 321.26h6.20v9.19h-6.20zM595.31 321.26h6.20v9.19h-6.20zM601.26 321.26h6.20v9.19h-6.20zM607.20 321.26h6.20v9.19h-6.20zM613.15 321.26h6.20v9.19h-6.20zM619.10 321.26h6.20v9.19h-6.20zM625.04 321.26h6.20v9.19h-6.20zM630.99 321.26h6.20v9.19h-6.20zM636.94 321.26h6.20v9.19h-6.20zM642.89 321.26h6.20v9.19h-6.20zM654.78 321.26h6.20v9.19h-6.20zM660.73 321.26h6.20v9.19h-6.20zM666.67 321.26h6.20v9.19h-6.20zM672.62 321.26h6.20v9.19h-6.20zM678.57 321.26h6.20v9.19h-6.20zM690.46 321.26h6.20v9.19h-6.20zM702.36 321.26h6.20v9.19h-6.20zM476.37 339.14h6.20v9.19h-6.20zM696.41 339.14h6.20v9.19h-6.20zM571.52 357.02h6.20v9.19h-6.20zM571.52 365.96h6.20v9.19h-6.20zM446.63 419.60h6.20v9.19h-6.20zM571.52 419.60h6.20v9.19h-6.20zM607.20 419.60h6.20v9.19h-6.20zM446.63 446.42h6.20v9.19h-6.20zM500.16 446.42h6.20v9.19h-6.20zM512.05 446.42h6.20v9.19h-6.20zM529.89 446.42h6.20v9.19h-6.20zM630.99 446.42h6.20v9.19h-6.20zM672.62 446.42h6.20v9.19h-6.20zM696.41 446.42h6.20v9.19h-6.20z"/>
<path fill="#fde2a3" d="M494.21 231.86h6.20v9.19h-6.20zM541.79 231.86h6.20v9.19h-6.20zM476.37 321.26h6.20v9.19h-6.20zM506.10 321.26h6.20v9.19h-6.20zM416.90 339.14h6.20v9.19h-6.20zM422.85 339.14h6.20v9.19h-6.20zM428.79 339.14h6.20v9.19h-6.20zM440.69 339.14h6.20v9.19h-6.20zM446.63 339.14h6.20v9.19h-6.20zM452.58 339.14h6.20v9.19h-6.20zM458.53 339.14h6.20v9.19h-6.20zM464.48 339.14h6.20v9.19h-6.20zM470.42 339.14h6.20v9.19h-6.20zM482.32 339.14h6.20v9.19h-6.20zM488.26 339.14h6.20v9.19h-6.20zM494.21 339.14h6.20v9.19h-6.20zM500.16 339.14h6.20v9.19h-6.20zM506.10 339.14h6.20v9.19h-6.20zM512.05 339.14h6.20v9.19h-6.20zM518.00 339.14h6.20v9.19h-6.20zM523.95 339.14h6.20v9.19h-6.20zM529.89 339.14h6.20v9.19h-6.20zM535.84 339.14h6.20v9.19h-6.20zM541.79 339.14h6.20v9.19h-6.20zM547.73 339.14h6.20v9.19h-6.20zM553.68 339.14h6.20v9.19h-6.20zM559.63 339.14h6.20v9.19h-6.20zM565.58 339.14h6.20v9.19h-6.20zM577.47 339.14h6.20v9.19h-6.20zM583.42 339.14h6.20v9.19h-6.20zM589.36 339.14h6.20v9.19h-6.20zM595.31 339.14h6.20v9.19h-6.20zM601.26 339.14h6.20v9.19h-6.20zM607.20 339.14h6.20v9.19h-6.20zM613.15 339.14h6.20v9.19h-6.20zM619.10 339.14h6.20v9.19h-6.20zM625.04 339.14h6.20v9.19h-6.20zM630.99 339.14h6.20v9.19h-6.20zM636.94 339.14h6.20v9.19h-6.20zM642.89 339.14h6.20v9.19h-6.20zM654.78 339.14h6.20v9.19h-6.20zM660.73 339.14h6.20v9.19h-6.20zM666.67 339.14h6.20v9.19h-6.20zM672.62 339.14h6.20v9.19h-6.20zM678.57 339.14h6.20v9.19h-6.20zM684.51 339.14h6.20v9.19h-6.20zM690.46 339.14h6.20v9.19h-6.20zM702.36 339.14h6.20v9.19h-6.20z"/>
<path fill="#3b0f70" d="M571.52 249.74h6.20v9.19h-6.20zM571.52 267.62h6.20v9.19h-6.20zM541.79 276.56h6.20v9.19h-6.20zM464.48 374.90h6.20v9.19h-6.20zM642.89 401.72h6.20v9.19h-6.20zM428.79 562.64h6.20v9.19h-6.20zM470.42 562.64h6.20v9.19h-6.20zM583.42 562.64h6.20v9.19h-6.20zM583.42 589.46h6.20v9.19h-6.20zM642.89 589.46h6.20v9.19h-6.20z"/>
<path fill="#752181" d="M541.79 258.68h6.20v9.19h-6.20zM577.47 276.56h6.20v9.19h-6.20zM654.78 276.56h6.20v9.19h-6.20zM660.73 276.56h6.20v9.19h-6.20zM672.62 276.56h6.20v9.19h-6.20zM684.51 276.56h6.20v9.19h-6.20zM613.15 383.84h6.20v9.19h-6.20zM648.83 383.84h6.20v9.19h-6.20zM696.41 383.84h6.20v9.19h-6.20zM636.94 392.78h6.20v9.19h-6.20zM464.48 401.72h6.20v9.19h-6.20zM625.04 401.72h6.20v9.19h-6.20zM690.46 419.60h6.20v9.19h-6.20zM696.41 419.60h6.20v9.19h-6.20zM488.26 437.48h6.20v9.19h-6.20zM678.57 437.48h6.20v9.19h-6.20zM571.52 455.36h6.20v9.19h-6.20zM595.31 482.18h6.20v9.19h-6.20zM690.46 482.18h6.20v9.19h-6.20zM696.41 482.18h6.20v9.19h-6.20zM416.90 562.64h6.20v9.19h-6.20zM494.21 562.64h6.20v9.19h-6.20zM506.10 562.64h6.20v9.19h-6.20zM613.15 562.64h6.20v9.19h-6.20zM595.31 589.46h6.20v9.19h-6.20zM601.26 589.46h6.20v9.19h-6.20z"/>
<path fill="#59157e" d="M434.74 267.62h6.20v9.19h-6.20zM434.74 276.56h6.20v9.19h-6.20zM595.31 276.56h6.20v9.19h-6.20zM672.62 383.84h6.20v9.19h-6.20zM571.52 392.78h6.20v9.19h-6.20zM434.74 401.72h6.20v9.19h-6.20zM446.63 401.72h6.20v9.19h-6.20zM672.62 401.72h6.20v9.19h-6.20zM678.57 401.72h6.20v9.19h-6.20zM696.41 401.72h6.20v9.19h-6.20zM428.79 437.48h6.20v9.19h-6.20zM452.58 437.48h6.20v9.19h-6.20zM702.36 437.48h6.20v9.19h-6.20zM648.83 482.18h6.20v9.19h-6.20zM654.78 482.18h6.20v9.19h-6.20zM678.57 482.18h6.20v9.19h-6.20zM422.85 562.64h6.20v9.19h-6.20zM535.84 562.64h6.20v9.19h-6.20zM434.74 589.46h6.20v9.19h-6.20z"/>
<path fill="#fcfdbf" d="M434.74 339.14h6.20v9.19h-6.20zM648.83 339.14h6.20v9.19h-6.20z"/>
<rect x="243.99" y="258.68" width="5.95" height="8.94" fill="none" stroke="#000" stroke-width="1.6"/>
<rect x="249.93" y="258.68" width="5.95" height="8.94" fill="none" stroke="#000" stroke-width="1.6"/>
<rect x="255.88" y="258.68" width="5.95" height="8.94" fill="none" stroke="#000" stroke-width="1.6"/>
<rect x="261.83" y="258.68" width="5.95" height="8.94" fill="none" stroke="#000" stroke-width="1.6"/>
<rect x="267.77" y="258.68" width="5.95" height="8.94" fill="none" stroke="#000" stroke-width="1.6"/>
<rect x="273.72" y="258.68" width="5.95" height="8.94" fill="none" stroke="#000" stroke-width="1.6"/>
<rect x="279.67" y="258.68" width="5.95" height="8.94" fill="none" stroke="#000" stroke-width="1.6"/>
<rect x="285.62" y="258.68" width="5.95" height="8.94" fill="none" stroke="#000" stroke-width="1.6"/>
<rect x="291.56" y="258.68" width="5.95" height="8.94" fill="none" stroke="#000" stroke-width="1.6"/>
<rect x="297.51" y="258.68" width="5.95" height="8.94" fill="none" stroke="#000" stroke-width="1.6"/>
<rect x="303.46" y="258.68" width="5.95" height="8.94" fill="none" stroke="#000" stroke-width="1.6"/>
<rect x="309.40" y="258.68" width="5.95" height="8.94" fill="none" stroke="#000" stroke-width="1.6"/>
<rect x="315.35" y="258.68" width="5.95" height="8.94" fill="none" stroke="#000" stroke-width="1.6"/>
<rect x="321.30" y="258.68" width="5.95" height="8.94" fill="none" stroke="#000" stroke-width="1.6"/>
<rect x="327.25" y="258.68" width="5.95" height="8.94" fill="none" stroke="#000" stroke-width="1.6"/>
<rect x="333.19" y="258.68" width="5.95" height="8.94" fill="none" stroke="#000" stroke-width="1.6"/>
<rect x="339.14" y="258.68" width="5.95" height="8.94" fill="none" stroke="#000" stroke-width="1.6"/>
<rect x="345.09" y="258.68" width="5.95" height="8.94" fill="none" stroke="#000" stroke-width="1.6"/>
<rect x="351.03" y="258.68" width="5.95" height="8.94" fill="none" stroke="#000" stroke-width="1.6"/>
<rect x="356.98" y="258.68" width="5.95" height="8.94" fill="none" stroke="#000" stroke-width="1.6"/>
<rect x="362.93" y="258.68" width="5.95" height="8.94" fill="none" stroke="#000" stroke-width="1.6"/>
<rect x="368.87" y="258.68" width="5.95" height="8.94" fill="none" stroke="#000" stroke-width="1.6"/>
<rect x="374.82" y="258.68" width="5.95" height="8.94" fill="none" stroke="#000" stroke-width="1.6"/>
<rect x="380.77" y="258.68" width="5.95" height="8.94" fill="none" stroke="#000" stroke-width="1.6"/>
<rect x="386.72" y="258.68" width="5.95" height="8.94" fill="none" stroke="#000" stroke-width="1.6"/>
<rect x="392.66" y="258.68" width="5.95" height="8.94" fill="none" stroke="#000" stroke-width="1.6"/>
<rect x="398.61" y="258.68" width="5.95" height="8.94" fill="none" stroke="#000" stroke-width="1.6"/>
<rect x="333.19" y="348.08" width="5.95" height="8.94" fill="none" stroke="#000" stroke-width="1.6"/>
<rect x="339.14" y="348.08" width="5.95" height="8.94" fill="none" stroke="#000" stroke-width="1.6"/>
<rect x="345.09" y="348.08" width="5.95" height="8.94" fill="none" stroke="#000" stroke-width="1.6"/>
<rect x="351.03" y="348.08" width="5.95" height="8.94" fill="none" stroke="#000" stroke-width="1.6"/>
<rect x="356.98" y="348.08" width="5.95" height="8.94" fill="none" stroke="#000" stroke-width="1.6"/>
<rect x="362.93" y="348.08" width="5.95" height="8.94" fill="none" stroke="#000" stroke-width="1.6"/>
<rect x="368.87" y="348.08" width="5.95" height="8.94" fill="none" stroke="#000" stroke-width="1.6"/>
<rect x="374.82" y="348.08" width="5.95" height="8.94" fill="none" stroke="#000" stroke-width="1.6"/>
<rect x="380.77" y="348.08" width="5.95" height="8.94" fill="none" stroke="#000" stroke-width="1.6"/>
<rect x="386.72" y="348.08" width="5.95" height="8.94" fill="none" stroke="#000" stroke-width="1.6"/>
<rect x="392.66" y="348.08" width="5.95" height="8.94" fill="none" stroke="#000" stroke-width="1.6"/>
<rect x="398.61" y="348.08" width="5.95" height="8.94" fill="none" stroke="#000" stroke-width="1.6"/>
<rect x="440.69" y="491.12" width="5.95" height="8.94" fill="none" stroke="#000" stroke-width="1.6"/>
<rect x="446.63" y="491.12" width="5.95" height="8.94" fill="none" stroke="#000" stroke-width="1.6"/>
<rect x="452.58" y="491.12" width="5.95" height="8.94" fill="none" stroke="#000" stroke-width="1.6"/>
<rect x="458.53" y="491.12" width="5.95" height="8.94" fill="none" stroke="#000" stroke-width="1.6"/>
<rect x="464.48" y="491.12" width="5.95" height="8.94" fill="none" stroke="#000" stroke-width="1.6"/>
<rect x="470.42" y="491.12" width="5.95" height="8.94" fill="none" stroke="#000" stroke-width="1.6"/>
<rect x="476.37" y="491.12" width="5.95" height="8.94" fill="none" stroke="#000" stroke-width="1.6"/>
<rect x="482.32" y="491.12" width="5.95" height="8.94" fill="none" stroke="#000" stroke-width="1.6"/>
<rect x="488.26" y="491.12" width="5.95" height="8.94" fill="none" stroke="#000" stroke-width="1.6"/>
<rect x="494.21" y="491.12" width="5.95" height="8.94" fill="none" stroke="#000" stroke-width="1.6"/>
<rect x="500.16" y="491.12" width="5.95" height="8.94" fill="none" stroke="#000" stroke-width="1.6"/>
<rect x="506.10" y="491.12" width="5.95" height="8.94" fill="none" stroke="#000" stroke-width="1.6"/>
<rect x="512.05" y="491.12" width="5.95" height="8.94" fill="none" stroke="#000" stroke-width="1.6"/>
<rect x="518.00" y="491.12" width="5.95" height="8.94" fill="none" stroke="#000" stroke-width="1.6"/>
<rect x="523.95" y="491.12" width="5.95" height="8.94" fill="none" stroke="#000" stroke-width="1.6"/>
<rect x="529.89" y="491.12" width="5.95" height="8.94" fill="none" stroke="#000" stroke-width="1.6"/>
<rect x="535.84" y="491.12" width="5.95" height="8.94" fill="none" stroke="#000" stroke-width="1.6"/>
<rect x="541.79" y="491.12" width="5.95" height="8.94" fill="none" stroke="#000" stroke-width="1.6"/>
<rect x="547.73" y="491.12" width="5.95" height="8.94" fill="none" stroke="#000" stroke-width="1.6"/>
<rect x="553.68" y="491.12" width="5.95" height="8.94" fill="none" stroke="#000" stroke-width="1.6"/>
<rect x="559.63" y="491.12" width="5.95" height="8.94" fill="none" stroke="#000" stroke-width="1.6"/>
<rect x="565.58" y="491.12" width="5.95" height="8.94" fill="none" stroke="#000" stroke-width="1.6"/>
<rect x="571.52" y="491.12" width="5.95" height="8.94" fill="none" stroke="#000" stroke-width="1.6"/>
<rect x="577.47" y="491.12" width="5.95" height="8.94" fill="none" stroke="#000" stroke-width="1.6"/>
<rect x="583.42" y="491.12" width="5.95" height="8.94" fill="none" stroke="#000" stroke-width="1.6"/>
<rect x="589.36" y="491.12" width="5.95" height="8.94" fill="none" stroke="#000" stroke-width="1.6"/>
<rect x="595.31" y="491.12" width="5.95" height="8.94" fill="none" stroke="#000" stroke-width="1.6"/>
<rect x="601.26" y="491.12" width="5.95" height="8.94" fill="none" stroke="#000" stroke-width="1.6"/>
<rect x="607.20" y="491.12" width="5.95" height="8.94" fill="none" stroke="#000" stroke-width="1.6"/>
<rect x="613.15" y="491.12" width="5.95" height="8.94" fill="none" stroke="#000" stroke-width="1.6"/>
<rect x="619.10" y="491.12" width="5.95" height="8.94" fill="none" stroke="#000" stroke-width="1.6"/>
<rect x="625.04" y="491.12" width="5.95" height="8.94" fill="none" stroke="#000" stroke-width="1.6"/>
<rect x="630.99" y="491.12" width="5.95" height="8.94" fill="none" stroke="#000" stroke-width="1.6"/>
<rect x="636.94" y="491.12" width="5.95" height="8.94" fill="none" stroke="#000" stroke-width="1.6"/>
<rect x="642.89" y="491.12" width="5.95" height="8.94" fill="none" stroke="#000" stroke-width="1.6"/>
<rect x="648.83" y="491.12" width="5.95" height="8.94" fill="none" stroke="#000" stroke-width="1.6"/>
<rect x="654.78" y="491.12" width="5.95" height="8.94" fill="none" stroke="#000" stroke-width="1.6"/>
<rect x="660.73" y="491.12" width="5.95" height="8.94" fill="none" stroke="#000" stroke-width="1.6"/>
<rect x="666.67" y="491.12" width="5.95" height="8.94" fill="none" stroke="#000" stroke-width="1.6"/>
<rect x="672.62" y="491.12" width="5.95" height="8.94" fill="none" stroke="#000" stroke-width="1.6"/>
<rect x="678.57" y="491.12" width="5.95" height="8.94" fill="none" stroke="#000" stroke-width="1.6"/>
<rect x="684.51" y="491.12" width="5.95" height="8.94" fill="none" stroke="#000" stroke-width="1.6"/>
<rect x="690.46" y="491.12" width="5.95" height="8.94" fill="none" stroke="#000" stroke-width="1.6"/>
<rect x="696.41" y="491.12" width="5.95" height="8.94" fill="none" stroke="#000" stroke-width="1.6"/>
<rect x="702.36" y="491.12" width="5.95" height="8.94" fill="none" stroke="#000" stroke-width="1.6"/>
<circle cx="122.07" cy="200.57" r="2.05" fill="#000"/>
<circle cx="122.07" cy="209.51" r="2.0" fill="none" stroke="#000" stroke-width="1.2"/>
<circle cx="122.07" cy="218.45" r="2.0" fill="none" stroke="#000" stroke-width="1.2"/>
<circle cx="122.07" cy="236.33" r="2.0" fill="none" stroke="#000" stroke-width="1.2"/>
<circle cx="122.07" cy="263.15" r="2.0" fill="none" stroke="#000" stroke-width="1.2"/>
<circle cx="122.07" cy="272.09" r="2.0" fill="none" stroke="#000" stroke-width="1.2"/>
<circle cx="122.07" cy="289.97" r="2.05" fill="#000"/>
<circle cx="122.07" cy="298.91" r="2.05" fill="#000"/>
<circle cx="122.07" cy="307.85" r="2.05" fill="#000"/>
<circle cx="122.07" cy="325.73" r="2.0" fill="none" stroke="#000" stroke-width="1.2"/>
<circle cx="122.07" cy="343.61" r="2.05" fill="#000"/>
<circle cx="122.07" cy="361.49" r="2.0" fill="none" stroke="#000" stroke-width="1.2"/>
<circle cx="122.07" cy="397.25" r="2.05" fill="#000"/>
<circle cx="122.07" cy="424.07" r="2.0" fill="none" stroke="#000" stroke-width="1.2"/>
<circle cx="122.07" cy="450.89" r="2.0" fill="none" stroke="#000" stroke-width="1.2"/>
<circle cx="122.07" cy="459.83" r="2.05" fill="#000"/>
<circle cx="122.07" cy="486.65" r="2.0" fill="none" stroke="#000" stroke-width="1.2"/>
<circle cx="122.07" cy="495.59" r="2.05" fill="#000"/>
<circle cx="419.87" cy="200.57" r="2.05" fill="#000"/>
<circle cx="419.87" cy="209.51" r="2.0" fill="none" stroke="#000" stroke-width="1.2"/>
<circle cx="419.87" cy="218.45" r="2.0" fill="none" stroke="#000" stroke-width="1.2"/>
<circle cx="419.87" cy="236.33" r="2.0" fill="none" stroke="#000" stroke-width="1.2"/>
<circle cx="419.87" cy="263.15" r="2.0" fill="none" stroke="#000" stroke-width="1.2"/>
<circle cx="419.87" cy="272.09" r="2.0" fill="none" stroke="#000" stroke-width="1.2"/>
<circle cx="419.87" cy="289.97" r="2.05" fill="#000"/>
<circle cx="419.87" cy="298.91" r="2.05" fill="#000"/>
<circle cx="419.87" cy="307.85" r="2.05" fill="#000"/>
<circle cx="419.87" cy="325.73" r="2.0" fill="none" stroke="#000" stroke-width="1.2"/>
<circle cx="419.87" cy="334.67" r="2.05" fill="#000"/>
<circle cx="419.87" cy="343.61" r="2.05" fill="#000"/>
<circle cx="419.87" cy="361.49" r="2.0" fill="none" stroke="#000" stroke-width="1.2"/>
<circle cx="419.87" cy="397.25" r="2.05" fill="#000"/>
<circle cx="419.87" cy="424.07" r="2.0" fill="none" stroke="#000" stroke-width="1.2"/>
<circle cx="419.87" cy="450.89" r="2.0" fill="none" stroke="#000" stroke-width="1.2"/>
<circle cx="419.87" cy="459.83" r="2.05" fill="#000"/>
<circle cx="419.87" cy="486.65" r="2.0" fill="none" stroke="#000" stroke-width="1.2"/>
<circle cx="419.87" cy="495.59" r="2.0" fill="none" stroke="#000" stroke-width="1.2"/>
<circle cx="401.58" cy="289.97" r="2.05" fill="#000"/>
<circle cx="401.58" cy="325.73" r="2.0" fill="none" stroke="#000" stroke-width="1.2"/>
<circle cx="401.58" cy="343.61" r="2.05" fill="#000"/>
<circle cx="705.33" cy="236.33" r="2.0" fill="none" stroke="#000" stroke-width="1.2"/>
<circle cx="705.33" cy="289.97" r="2.05" fill="#000"/>
<circle cx="705.33" cy="298.91" r="2.05" fill="#000"/>
<circle cx="705.33" cy="307.85" r="2.05" fill="#000"/>
<circle cx="705.33" cy="325.73" r="2.0" fill="none" stroke="#000" stroke-width="1.2"/>
<circle cx="705.33" cy="343.61" r="2.05" fill="#000"/>
<circle cx="705.33" cy="450.89" r="2.0" fill="none" stroke="#000" stroke-width="1.2"/>
<line x1="118.6" y1="195.20" x2="118.6" y2="734.00" stroke="#000" stroke-width="1.3"/>
<line x1="118.0" y1="733.40" x2="405.16" y2="733.40" stroke="#000" stroke-width="1.3"/>
<line x1="416.30" y1="733.40" x2="708.90" y2="733.40" stroke="#000" stroke-width="1.3"/>
<line x1="113.1" y1="200.57" x2="118.6" y2="200.57" stroke="#000" stroke-width="1.2"/>
<text x="108.2" y="203.47" font-size="8" text-anchor="end" fill="#6a6a6a" stroke="#6a6a6a" stroke-width="0.22">Bacteroides fragilis</text>
<line x1="113.1" y1="209.51" x2="118.6" y2="209.51" stroke="#000" stroke-width="1.2"/>
<text x="108.2" y="212.41" font-size="8" text-anchor="end" fill="#6a6a6a" stroke="#6a6a6a" stroke-width="0.22">Blautia wexlerae</text>
<line x1="113.1" y1="218.45" x2="118.6" y2="218.45" stroke="#000" stroke-width="1.2"/>
<text x="108.2" y="221.35" font-size="8" text-anchor="end" fill="#6a6a6a" stroke="#6a6a6a" stroke-width="0.22">Clostridiales bacterium</text>
<line x1="113.1" y1="227.39" x2="118.6" y2="227.39" stroke="#000" stroke-width="1.2"/>
<text x="108.2" y="230.29" font-size="8" text-anchor="end" fill="#6a6a6a" stroke="#6a6a6a" stroke-width="0.22">Coprococcus comes</text>
<line x1="113.1" y1="236.33" x2="118.6" y2="236.33" stroke="#000" stroke-width="1.2"/>
<text x="108.2" y="239.23" font-size="8" text-anchor="end" fill="#6a6a6a" stroke="#6a6a6a" stroke-width="0.22">Eubacterium rectale</text>
<line x1="113.1" y1="245.27" x2="118.6" y2="245.27" stroke="#000" stroke-width="1.2"/>
<text x="108.2" y="248.17" font-size="8" text-anchor="end" fill="#6a6a6a" stroke="#6a6a6a" stroke-width="0.22">Ruminococcus lactaris</text>
<line x1="113.1" y1="254.21" x2="118.6" y2="254.21" stroke="#000" stroke-width="1.2"/>
<text x="108.2" y="257.11" font-size="8" text-anchor="end" fill="#2e8b57" stroke="#2e8b57" stroke-width="0.22">Bacteroides finegoldii</text>
<line x1="113.1" y1="263.15" x2="118.6" y2="263.15" stroke="#000" stroke-width="1.2"/>
<text x="108.2" y="266.05" font-size="8" text-anchor="end" fill="#2e8b57" stroke="#2e8b57" stroke-width="0.22">Clostridiales bacterium</text>
<line x1="113.1" y1="272.09" x2="118.6" y2="272.09" stroke="#000" stroke-width="1.2"/>
<text x="108.2" y="274.99" font-size="8" text-anchor="end" fill="#2e8b57" stroke="#2e8b57" stroke-width="0.22">Bacteroides cellulosilyticus</text>
<line x1="113.1" y1="281.03" x2="118.6" y2="281.03" stroke="#000" stroke-width="1.2"/>
<text x="108.2" y="283.93" font-size="8" text-anchor="end" fill="#2e8b57" stroke="#2e8b57" stroke-width="0.22">Bacteroides intestinalis</text>
<line x1="113.1" y1="289.97" x2="118.6" y2="289.97" stroke="#000" stroke-width="1.2"/>
<text x="108.2" y="292.87" font-size="8" text-anchor="end" fill="#2e8b57" stroke="#2e8b57" stroke-width="0.22">Bacteroides ovatus</text>
<line x1="113.1" y1="298.91" x2="118.6" y2="298.91" stroke="#000" stroke-width="1.2"/>
<text x="108.2" y="301.81" font-size="8" text-anchor="end" fill="#2e8b57" stroke="#2e8b57" stroke-width="0.22">Bifidobacterium longum</text>
<line x1="113.1" y1="307.85" x2="118.6" y2="307.85" stroke="#000" stroke-width="1.2"/>
<text x="108.2" y="310.75" font-size="8" text-anchor="end" fill="#2e8b57" stroke="#2e8b57" stroke-width="0.22">Bacteroides faecis</text>
<line x1="113.1" y1="316.79" x2="118.6" y2="316.79" stroke="#000" stroke-width="1.2"/>
<text x="108.2" y="319.69" font-size="8" text-anchor="end" fill="#2e8b57" stroke="#2e8b57" stroke-width="0.22">Bacteroides rodentium</text>
<line x1="113.1" y1="325.73" x2="118.6" y2="325.73" stroke="#000" stroke-width="1.2"/>
<text x="108.2" y="328.63" font-size="8" text-anchor="end" fill="#2e8b57" stroke="#2e8b57" stroke-width="0.22">Bacteroides uniformis</text>
<line x1="113.1" y1="334.67" x2="118.6" y2="334.67" stroke="#000" stroke-width="1.2"/>
<text x="108.2" y="337.57" font-size="8" text-anchor="end" fill="#2e8b57" stroke="#2e8b57" stroke-width="0.22">Bacteroides xylanisolvens</text>
<line x1="113.1" y1="343.61" x2="118.6" y2="343.61" stroke="#000" stroke-width="1.2"/>
<text x="108.2" y="346.51" font-size="8" text-anchor="end" fill="#2e8b57" stroke="#2e8b57" stroke-width="0.22">Bacteroides vulgatus</text>
<line x1="113.1" y1="352.55" x2="118.6" y2="352.55" stroke="#000" stroke-width="1.2"/>
<text x="108.2" y="355.45" font-size="8" text-anchor="end" fill="#2e8b57" stroke="#2e8b57" stroke-width="0.22">Guyana massiliensis</text>
<line x1="113.1" y1="361.49" x2="118.6" y2="361.49" stroke="#000" stroke-width="1.2"/>
<text x="108.2" y="364.39" font-size="8" text-anchor="end" fill="#2e8b57" stroke="#2e8b57" stroke-width="0.22">Anaerostipes hadrus</text>
<line x1="113.1" y1="370.43" x2="118.6" y2="370.43" stroke="#000" stroke-width="1.2"/>
<text x="108.2" y="373.33" font-size="8" text-anchor="end" fill="#2e8b57" stroke="#2e8b57" stroke-width="0.22">Faecalibacterium cf</text>
<line x1="113.1" y1="379.37" x2="118.6" y2="379.37" stroke="#000" stroke-width="1.2"/>
<text x="108.2" y="382.27" font-size="8" text-anchor="end" fill="#2e8b57" stroke="#2e8b57" stroke-width="0.22">Faecalibacterium prausnitzii</text>
<line x1="113.1" y1="388.31" x2="118.6" y2="388.31" stroke="#000" stroke-width="1.2"/>
<text x="108.2" y="391.21" font-size="8" text-anchor="end" fill="#2e8b57" stroke="#2e8b57" stroke-width="0.22">Oscillospiraceae bacterium</text>
<line x1="113.1" y1="397.25" x2="118.6" y2="397.25" stroke="#000" stroke-width="1.2"/>
<text x="108.2" y="400.15" font-size="8" text-anchor="end" fill="#2e8b57" stroke="#2e8b57" stroke-width="0.22">Bilophila wadsworthia</text>
<line x1="113.1" y1="406.19" x2="118.6" y2="406.19" stroke="#000" stroke-width="1.2"/>
<text x="108.2" y="409.09" font-size="8" text-anchor="end" fill="#2e8b57" stroke="#2e8b57" stroke-width="0.22">Holdemania filiformis</text>
<line x1="113.1" y1="415.13" x2="118.6" y2="415.13" stroke="#000" stroke-width="1.2"/>
<text x="108.2" y="418.03" font-size="8" text-anchor="end" fill="#3d3aa6" stroke="#3d3aa6" stroke-width="0.22">Alistipes finegoldii</text>
<line x1="113.1" y1="424.07" x2="118.6" y2="424.07" stroke="#000" stroke-width="1.2"/>
<text x="108.2" y="426.97" font-size="8" text-anchor="end" fill="#3d3aa6" stroke="#3d3aa6" stroke-width="0.22">Eubacterium eligens</text>
<line x1="113.1" y1="433.01" x2="118.6" y2="433.01" stroke="#000" stroke-width="1.2"/>
<text x="108.2" y="435.91" font-size="8" text-anchor="end" fill="#3d3aa6" stroke="#3d3aa6" stroke-width="0.22">Eubacterium siraeum</text>
<line x1="113.1" y1="441.95" x2="118.6" y2="441.95" stroke="#000" stroke-width="1.2"/>
<text x="108.2" y="444.85" font-size="8" text-anchor="end" fill="#3d3aa6" stroke="#3d3aa6" stroke-width="0.22">Eubacterium ventriosum</text>
<line x1="113.1" y1="450.89" x2="118.6" y2="450.89" stroke="#000" stroke-width="1.2"/>
<text x="108.2" y="453.79" font-size="8" text-anchor="end" fill="#3d3aa6" stroke="#3d3aa6" stroke-width="0.22">Faecalibacterium prausnitzii</text>
<line x1="113.1" y1="459.83" x2="118.6" y2="459.83" stroke="#000" stroke-width="1.2"/>
<text x="108.2" y="462.73" font-size="8" text-anchor="end" fill="#3d3aa6" stroke="#3d3aa6" stroke-width="0.22">Parabacteroides distasonis</text>
<line x1="113.1" y1="468.77" x2="118.6" y2="468.77" stroke="#000" stroke-width="1.2"/>
<text x="108.2" y="471.67" font-size="8" text-anchor="end" fill="#3d3aa6" stroke="#3d3aa6" stroke-width="0.22">Parabacteroides goldsteinii</text>
<line x1="113.1" y1="477.71" x2="118.6" y2="477.71" stroke="#000" stroke-width="1.2"/>
<text x="108.2" y="480.61" font-size="8" text-anchor="end" fill="#3d3aa6" stroke="#3d3aa6" stroke-width="0.22">Phascolarctobacterium sp</text>
<line x1="113.1" y1="486.65" x2="118.6" y2="486.65" stroke="#000" stroke-width="1.2"/>
<text x="108.2" y="489.55" font-size="8" text-anchor="end" fill="#3d3aa6" stroke="#3d3aa6" stroke-width="0.22">Roseburia hominis</text>
<line x1="113.1" y1="495.59" x2="118.6" y2="495.59" stroke="#000" stroke-width="1.2"/>
<text x="108.2" y="498.49" font-size="8" text-anchor="end" fill="#3d3aa6" stroke="#3d3aa6" stroke-width="0.22">Roseburia inulinivorans</text>
<line x1="113.1" y1="504.53" x2="118.6" y2="504.53" stroke="#000" stroke-width="1.2"/>
<text x="108.2" y="507.43" font-size="8" text-anchor="end" fill="#b03060" stroke="#b03060" stroke-width="0.22">Clostridium paraputrificum</text>
<line x1="113.1" y1="513.47" x2="118.6" y2="513.47" stroke="#000" stroke-width="1.2"/>
<text x="108.2" y="516.37" font-size="8" text-anchor="end" fill="#b03060" stroke="#b03060" stroke-width="0.22">Clostridium sp</text>
<line x1="113.1" y1="522.41" x2="118.6" y2="522.41" stroke="#000" stroke-width="1.2"/>
<text x="108.2" y="525.31" font-size="8" text-anchor="end" fill="#b03060" stroke="#b03060" stroke-width="0.22">Clostridium spiroforme</text>
<line x1="113.1" y1="531.35" x2="118.6" y2="531.35" stroke="#000" stroke-width="1.2"/>
<text x="108.2" y="534.25" font-size="8" text-anchor="end" fill="#b03060" stroke="#b03060" stroke-width="0.22">Dialister invisus</text>
<line x1="113.1" y1="540.29" x2="118.6" y2="540.29" stroke="#000" stroke-width="1.2"/>
<text x="108.2" y="543.19" font-size="8" text-anchor="end" fill="#b03060" stroke="#b03060" stroke-width="0.22">Citrobacter freundii</text>
<line x1="113.1" y1="549.23" x2="118.6" y2="549.23" stroke="#000" stroke-width="1.2"/>
<text x="108.2" y="552.13" font-size="8" text-anchor="end" fill="#b03060" stroke="#b03060" stroke-width="0.22">Citrobacter sp</text>
<line x1="113.1" y1="558.17" x2="118.6" y2="558.17" stroke="#000" stroke-width="1.2"/>
<text x="108.2" y="561.07" font-size="8" text-anchor="end" fill="#b03060" stroke="#b03060" stroke-width="0.22">Prevotella oris</text>
<line x1="113.1" y1="567.11" x2="118.6" y2="567.11" stroke="#000" stroke-width="1.2"/>
<text x="108.2" y="570.01" font-size="8" text-anchor="end" fill="#b03060" stroke="#b03060" stroke-width="0.22">Streptococcus gallolyticus</text>
<line x1="113.1" y1="576.05" x2="118.6" y2="576.05" stroke="#000" stroke-width="1.2"/>
<text x="108.2" y="578.95" font-size="8" text-anchor="end" fill="#b03060" stroke="#b03060" stroke-width="0.22">Clostridiales bacterium</text>
<line x1="113.1" y1="584.99" x2="118.6" y2="584.99" stroke="#000" stroke-width="1.2"/>
<text x="108.2" y="587.89" font-size="8" text-anchor="end" fill="#b03060" stroke="#b03060" stroke-width="0.22">Clostridium nexile</text>
<line x1="113.1" y1="593.93" x2="118.6" y2="593.93" stroke="#000" stroke-width="1.2"/>
<text x="108.2" y="596.83" font-size="8" text-anchor="end" fill="#b03060" stroke="#b03060" stroke-width="0.22">Clostridium symbiosum</text>
<line x1="113.1" y1="602.87" x2="118.6" y2="602.87" stroke="#000" stroke-width="1.2"/>
<text x="108.2" y="605.77" font-size="8" text-anchor="end" fill="#b03060" stroke="#b03060" stroke-width="0.22">Blautia producta</text>
<line x1="113.1" y1="611.81" x2="118.6" y2="611.81" stroke="#000" stroke-width="1.2"/>
<text x="108.2" y="614.71" font-size="8" text-anchor="end" fill="#b03060" stroke="#b03060" stroke-width="0.22">Erysipelotrichaceae bacterium</text>
<line x1="113.1" y1="620.75" x2="118.6" y2="620.75" stroke="#000" stroke-width="1.2"/>
<text x="108.2" y="623.65" font-size="8" text-anchor="end" fill="#b03060" stroke="#b03060" stroke-width="0.22">Citrobacter amalonaticus</text>
<line x1="113.1" y1="629.69" x2="118.6" y2="629.69" stroke="#000" stroke-width="1.2"/>
<text x="108.2" y="632.59" font-size="8" text-anchor="end" fill="#b03060" stroke="#b03060" stroke-width="0.22">Enterobacter cloacae</text>
<line x1="113.1" y1="638.63" x2="118.6" y2="638.63" stroke="#000" stroke-width="1.2"/>
<text x="108.2" y="641.53" font-size="8" text-anchor="end" fill="#b03060" stroke="#b03060" stroke-width="0.22">Klebsiella pneumoniae</text>
<line x1="113.1" y1="647.57" x2="118.6" y2="647.57" stroke="#000" stroke-width="1.2"/>
<text x="108.2" y="650.47" font-size="8" text-anchor="end" fill="#b03060" stroke="#b03060" stroke-width="0.22">Butyricicoccus pullicaecorum</text>
<line x1="113.1" y1="656.51" x2="118.6" y2="656.51" stroke="#000" stroke-width="1.2"/>
<text x="108.2" y="659.41" font-size="8" text-anchor="end" fill="#b03060" stroke="#b03060" stroke-width="0.22">Clostridium lentocellum</text>
<line x1="113.1" y1="665.45" x2="118.6" y2="665.45" stroke="#000" stroke-width="1.2"/>
<text x="108.2" y="668.35" font-size="8" text-anchor="end" fill="#b03060" stroke="#b03060" stroke-width="0.22">Lachnospiraceae bacterium</text>
<line x1="113.1" y1="674.39" x2="118.6" y2="674.39" stroke="#000" stroke-width="1.2"/>
<text x="108.2" y="677.29" font-size="8" text-anchor="end" fill="#b03060" stroke="#b03060" stroke-width="0.22">Dorea longicatena</text>
<line x1="113.1" y1="683.33" x2="118.6" y2="683.33" stroke="#000" stroke-width="1.2"/>
<text x="108.2" y="686.23" font-size="8" text-anchor="end" fill="#b03060" stroke="#b03060" stroke-width="0.22">Erysipelotrichaceae bacterium</text>
<line x1="113.1" y1="692.27" x2="118.6" y2="692.27" stroke="#000" stroke-width="1.2"/>
<text x="108.2" y="695.17" font-size="8" text-anchor="end" fill="#b03060" stroke="#b03060" stroke-width="0.22">Bifidobacterium animalis</text>
<line x1="113.1" y1="701.21" x2="118.6" y2="701.21" stroke="#000" stroke-width="1.2"/>
<text x="108.2" y="704.11" font-size="8" text-anchor="end" fill="#b03060" stroke="#b03060" stroke-width="0.22">Bifidobacterium scardovii</text>
<line x1="113.1" y1="710.15" x2="118.6" y2="710.15" stroke="#000" stroke-width="1.2"/>
<text x="108.2" y="713.05" font-size="8" text-anchor="end" fill="#b03060" stroke="#b03060" stroke-width="0.22">Clostridium citroniae</text>
<line x1="113.1" y1="719.09" x2="118.6" y2="719.09" stroke="#000" stroke-width="1.2"/>
<text x="108.2" y="721.99" font-size="8" text-anchor="end" fill="#b03060" stroke="#b03060" stroke-width="0.22">Lachnospiraceae bacterium</text>
<line x1="113.1" y1="728.03" x2="118.6" y2="728.03" stroke="#000" stroke-width="1.2"/>
<text x="108.2" y="730.93" font-size="8" text-anchor="end" fill="#b03060" stroke="#b03060" stroke-width="0.22">Clostridiales bacterium</text>
<line x1="122.07" y1="733.4" x2="122.07" y2="739.8" stroke="#000" stroke-width="1.3"/>
<text transform="translate(124.87,744.8) rotate(-90)" font-size="7.8" text-anchor="end" fill="#111" stroke="#111" stroke-width="0.22">−28</text>
<line x1="128.02" y1="733.4" x2="128.02" y2="739.8" stroke="#000" stroke-width="1.3"/>
<text transform="translate(130.82,744.8) rotate(-90)" font-size="7.8" text-anchor="end" fill="#111" stroke="#111" stroke-width="0.22">−21</text>
<line x1="133.97" y1="733.4" x2="133.97" y2="739.8" stroke="#000" stroke-width="1.3"/>
<text transform="translate(136.77,744.8) rotate(-90)" font-size="7.8" text-anchor="end" fill="#111" stroke="#111" stroke-width="0.22">−14</text>
<line x1="139.91" y1="733.4" x2="139.91" y2="739.8" stroke="#000" stroke-width="1.3"/>
<text transform="translate(142.71,744.8) rotate(-90)" font-size="7.8" text-anchor="end" fill="#111" stroke="#111" stroke-width="0.22">−7</text>
<line x1="145.86" y1="733.4" x2="145.86" y2="739.8" stroke="#000" stroke-width="1.3"/>
<text transform="translate(148.66,744.8) rotate(-90)" font-size="7.8" text-anchor="end" fill="#111" stroke="#111" stroke-width="0.22">−6</text>
<line x1="151.81" y1="733.4" x2="151.81" y2="739.8" stroke="#000" stroke-width="1.3"/>
<text transform="translate(154.61,744.8) rotate(-90)" font-size="7.8" text-anchor="end" fill="#111" stroke="#111" stroke-width="0.22">−5</text>
<line x1="157.76" y1="733.4" x2="157.76" y2="739.8" stroke="#000" stroke-width="1.3"/>
<text transform="translate(160.56,744.8) rotate(-90)" font-size="7.8" text-anchor="end" fill="#111" stroke="#111" stroke-width="0.22">−4</text>
<line x1="163.70" y1="733.4" x2="163.70" y2="739.8" stroke="#000" stroke-width="1.3"/>
<text transform="translate(166.50,744.8) rotate(-90)" font-size="7.8" text-anchor="end" fill="#111" stroke="#111" stroke-width="0.22">−3</text>
<line x1="169.65" y1="733.4" x2="169.65" y2="739.8" stroke="#000" stroke-width="1.3"/>
<text transform="translate(172.45,744.8) rotate(-90)" font-size="7.8" text-anchor="end" fill="#111" stroke="#111" stroke-width="0.22">−2</text>
<line x1="175.60" y1="733.4" x2="175.60" y2="739.8" stroke="#000" stroke-width="1.3"/>
<text transform="translate(178.40,744.8) rotate(-90)" font-size="7.8" text-anchor="end" fill="#111" stroke="#111" stroke-width="0.22">−1</text>
<line x1="181.54" y1="733.4" x2="181.54" y2="739.8" stroke="#000" stroke-width="1.3"/>
<text transform="translate(184.34,744.8) rotate(-90)" font-size="7.8" text-anchor="end" fill="#111" stroke="#111" stroke-width="0.22">0</text>
<line x1="187.49" y1="733.4" x2="187.49" y2="739.8" stroke="#000" stroke-width="1.3"/>
<text transform="translate(190.29,744.8) rotate(-90)" font-size="7.8" text-anchor="end" fill="#111" stroke="#111" stroke-width="0.22">1</text>
<line x1="193.44" y1="733.4" x2="193.44" y2="739.8" stroke="#000" stroke-width="1.3"/>
<text transform="translate(196.24,744.8) rotate(-90)" font-size="7.8" text-anchor="end" fill="#111" stroke="#111" stroke-width="0.22">7</text>
<line x1="199.38" y1="733.4" x2="199.38" y2="739.8" stroke="#000" stroke-width="1.3"/>
<text transform="translate(202.18,744.8) rotate(-90)" font-size="7.8" text-anchor="end" fill="#111" stroke="#111" stroke-width="0.22">8</text>
<line x1="205.33" y1="733.4" x2="205.33" y2="739.8" stroke="#000" stroke-width="1.3"/>
<text transform="translate(208.13,744.8) rotate(-90)" font-size="7.8" text-anchor="end" fill="#111" stroke="#111" stroke-width="0.22">10</text>
<line x1="211.28" y1="733.4" x2="211.28" y2="739.8" stroke="#000" stroke-width="1.3"/>
<text transform="translate(214.08,744.8) rotate(-90)" font-size="7.8" text-anchor="end" fill="#111" stroke="#111" stroke-width="0.22">15</text>
<line x1="217.23" y1="733.4" x2="217.23" y2="739.8" stroke="#000" stroke-width="1.3"/>
<text transform="translate(220.03,744.8) rotate(-90)" font-size="7.8" text-anchor="end" fill="#111" stroke="#111" stroke-width="0.22">22</text>
<line x1="223.17" y1="733.4" x2="223.17" y2="739.8" stroke="#000" stroke-width="1.3"/>
<text transform="translate(225.97,744.8) rotate(-90)" font-size="7.8" text-anchor="end" fill="#111" stroke="#111" stroke-width="0.22">29</text>
<line x1="229.12" y1="733.4" x2="229.12" y2="739.8" stroke="#000" stroke-width="1.3"/>
<text transform="translate(231.92,744.8) rotate(-90)" font-size="7.8" text-anchor="end" fill="#111" stroke="#111" stroke-width="0.22">36</text>
<line x1="235.07" y1="733.4" x2="235.07" y2="739.8" stroke="#000" stroke-width="1.3"/>
<text transform="translate(237.87,744.8) rotate(-90)" font-size="7.8" text-anchor="end" fill="#111" stroke="#111" stroke-width="0.22">57</text>
<line x1="241.01" y1="733.4" x2="241.01" y2="739.8" stroke="#000" stroke-width="1.3"/>
<text transform="translate(243.81,744.8) rotate(-90)" font-size="7.8" text-anchor="end" fill="#111" stroke="#111" stroke-width="0.22">85</text>
<line x1="246.96" y1="733.4" x2="246.96" y2="739.8" stroke="#000" stroke-width="1.3"/>
<text transform="translate(249.76,744.8) rotate(-90)" font-size="7.8" text-anchor="end" fill="#111" stroke="#111" stroke-width="0.22">106</text>
<line x1="252.91" y1="733.4" x2="252.91" y2="739.8" stroke="#000" stroke-width="1.3"/>
<text transform="translate(255.71,744.8) rotate(-90)" font-size="7.8" text-anchor="end" fill="#111" stroke="#111" stroke-width="0.22">135</text>
<line x1="258.85" y1="733.4" x2="258.85" y2="739.8" stroke="#000" stroke-width="1.3"/>
<text transform="translate(261.65,744.8) rotate(-90)" font-size="7.8" text-anchor="end" fill="#111" stroke="#111" stroke-width="0.22">165</text>
<line x1="264.80" y1="733.4" x2="264.80" y2="739.8" stroke="#000" stroke-width="1.3"/>
<text transform="translate(267.60,744.8) rotate(-90)" font-size="7.8" text-anchor="end" fill="#111" stroke="#111" stroke-width="0.22">195</text>
<line x1="270.75" y1="733.4" x2="270.75" y2="739.8" stroke="#000" stroke-width="1.3"/>
<text transform="translate(273.55,744.8) rotate(-90)" font-size="7.8" text-anchor="end" fill="#111" stroke="#111" stroke-width="0.22">225</text>
<line x1="276.70" y1="733.4" x2="276.70" y2="739.8" stroke="#000" stroke-width="1.3"/>
<text transform="translate(279.50,744.8) rotate(-90)" font-size="7.8" text-anchor="end" fill="#111" stroke="#111" stroke-width="0.22">255</text>
<line x1="282.64" y1="733.4" x2="282.64" y2="739.8" stroke="#000" stroke-width="1.3"/>
<text transform="translate(285.44,744.8) rotate(-90)" font-size="7.8" text-anchor="end" fill="#111" stroke="#111" stroke-width="0.22">284</text>
<line x1="288.59" y1="733.4" x2="288.59" y2="739.8" stroke="#000" stroke-width="1.3"/>
<text transform="translate(291.39,744.8) rotate(-90)" font-size="7.8" text-anchor="end" fill="#111" stroke="#111" stroke-width="0.22">314</text>
<line x1="294.54" y1="733.4" x2="294.54" y2="739.8" stroke="#000" stroke-width="1.3"/>
<text transform="translate(297.34,744.8) rotate(-90)" font-size="7.8" text-anchor="end" fill="#111" stroke="#111" stroke-width="0.22">344</text>
<line x1="300.48" y1="733.4" x2="300.48" y2="739.8" stroke="#000" stroke-width="1.3"/>
<text transform="translate(303.28,744.8) rotate(-90)" font-size="7.8" text-anchor="end" fill="#111" stroke="#111" stroke-width="0.22">374</text>
<line x1="306.43" y1="733.4" x2="306.43" y2="739.8" stroke="#000" stroke-width="1.3"/>
<text transform="translate(309.23,744.8) rotate(-90)" font-size="7.8" text-anchor="end" fill="#111" stroke="#111" stroke-width="0.22">404</text>
<line x1="312.38" y1="733.4" x2="312.38" y2="739.8" stroke="#000" stroke-width="1.3"/>
<text transform="translate(315.18,744.8) rotate(-90)" font-size="7.8" text-anchor="end" fill="#111" stroke="#111" stroke-width="0.22">433</text>
<line x1="318.32" y1="733.4" x2="318.32" y2="739.8" stroke="#000" stroke-width="1.3"/>
<text transform="translate(321.12,744.8) rotate(-90)" font-size="7.8" text-anchor="end" fill="#111" stroke="#111" stroke-width="0.22">463</text>
<line x1="324.27" y1="733.4" x2="324.27" y2="739.8" stroke="#000" stroke-width="1.3"/>
<text transform="translate(327.07,744.8) rotate(-90)" font-size="7.8" text-anchor="end" fill="#111" stroke="#111" stroke-width="0.22">493</text>
<line x1="330.22" y1="733.4" x2="330.22" y2="739.8" stroke="#000" stroke-width="1.3"/>
<text transform="translate(333.02,744.8) rotate(-90)" font-size="7.8" text-anchor="end" fill="#111" stroke="#111" stroke-width="0.22">523</text>
<line x1="336.17" y1="733.4" x2="336.17" y2="739.8" stroke="#000" stroke-width="1.3"/>
<text transform="translate(338.97,744.8) rotate(-90)" font-size="7.8" text-anchor="end" fill="#111" stroke="#111" stroke-width="0.22">553</text>
<line x1="342.11" y1="733.4" x2="342.11" y2="739.8" stroke="#000" stroke-width="1.3"/>
<text transform="translate(344.91,744.8) rotate(-90)" font-size="7.8" text-anchor="end" fill="#111" stroke="#111" stroke-width="0.22">582</text>
<line x1="348.06" y1="733.4" x2="348.06" y2="739.8" stroke="#000" stroke-width="1.3"/>
<text transform="translate(350.86,744.8) rotate(-90)" font-size="7.8" text-anchor="end" fill="#111" stroke="#111" stroke-width="0.22">612</text>
<line x1="354.01" y1="733.4" x2="354.01" y2="739.8" stroke="#000" stroke-width="1.3"/>
<text transform="translate(356.81,744.8) rotate(-90)" font-size="7.8" text-anchor="end" fill="#111" stroke="#111" stroke-width="0.22">642</text>
<line x1="359.95" y1="733.4" x2="359.95" y2="739.8" stroke="#000" stroke-width="1.3"/>
<text transform="translate(362.75,744.8) rotate(-90)" font-size="7.8" text-anchor="end" fill="#111" stroke="#111" stroke-width="0.22">672</text>
<line x1="365.90" y1="733.4" x2="365.90" y2="739.8" stroke="#000" stroke-width="1.3"/>
<text transform="translate(368.70,744.8) rotate(-90)" font-size="7.8" text-anchor="end" fill="#111" stroke="#111" stroke-width="0.22">702</text>
<line x1="371.85" y1="733.4" x2="371.85" y2="739.8" stroke="#000" stroke-width="1.3"/>
<text transform="translate(374.65,744.8) rotate(-90)" font-size="7.8" text-anchor="end" fill="#111" stroke="#111" stroke-width="0.22">731</text>
<line x1="377.79" y1="733.4" x2="377.79" y2="739.8" stroke="#000" stroke-width="1.3"/>
<text transform="translate(380.59,744.8) rotate(-90)" font-size="7.8" text-anchor="end" fill="#111" stroke="#111" stroke-width="0.22">761</text>
<line x1="383.74" y1="733.4" x2="383.74" y2="739.8" stroke="#000" stroke-width="1.3"/>
<text transform="translate(386.54,744.8) rotate(-90)" font-size="7.8" text-anchor="end" fill="#111" stroke="#111" stroke-width="0.22">791</text>
<line x1="389.69" y1="733.4" x2="389.69" y2="739.8" stroke="#000" stroke-width="1.3"/>
<text transform="translate(392.49,744.8) rotate(-90)" font-size="7.8" text-anchor="end" fill="#111" stroke="#111" stroke-width="0.22">821</text>
<line x1="395.64" y1="733.4" x2="395.64" y2="739.8" stroke="#000" stroke-width="1.3"/>
<text transform="translate(398.44,744.8) rotate(-90)" font-size="7.8" text-anchor="end" fill="#111" stroke="#111" stroke-width="0.22">851</text>
<line x1="401.58" y1="733.4" x2="401.58" y2="739.8" stroke="#000" stroke-width="1.3"/>
<text transform="translate(404.38,744.8) rotate(-90)" font-size="7.8" text-anchor="end" fill="#111" stroke="#111" stroke-width="0.22">881</text>
<line x1="419.87" y1="733.4" x2="419.87" y2="739.8" stroke="#000" stroke-width="1.3"/>
<text transform="translate(422.67,744.8) rotate(-90)" font-size="7.8" text-anchor="end" fill="#111" stroke="#111" stroke-width="0.22">−28</text>
<line x1="425.82" y1="733.4" x2="425.82" y2="739.8" stroke="#000" stroke-width="1.3"/>
<text transform="translate(428.62,744.8) rotate(-90)" font-size="7.8" text-anchor="end" fill="#111" stroke="#111" stroke-width="0.22">0</text>
<line x1="431.77" y1="733.4" x2="431.77" y2="739.8" stroke="#000" stroke-width="1.3"/>
<text transform="translate(434.57,744.8) rotate(-90)" font-size="7.8" text-anchor="end" fill="#111" stroke="#111" stroke-width="0.22">3</text>
<line x1="437.71" y1="733.4" x2="437.71" y2="739.8" stroke="#000" stroke-width="1.3"/>
<text transform="translate(440.51,744.8) rotate(-90)" font-size="7.8" text-anchor="end" fill="#111" stroke="#111" stroke-width="0.22">7</text>
<line x1="443.66" y1="733.4" x2="443.66" y2="739.8" stroke="#000" stroke-width="1.3"/>
<text transform="translate(446.46,744.8) rotate(-90)" font-size="7.8" text-anchor="end" fill="#111" stroke="#111" stroke-width="0.22">14</text>
<line x1="449.61" y1="733.4" x2="449.61" y2="739.8" stroke="#000" stroke-width="1.3"/>
<text transform="translate(452.41,744.8) rotate(-90)" font-size="7.8" text-anchor="end" fill="#111" stroke="#111" stroke-width="0.22">29</text>
<line x1="455.56" y1="733.4" x2="455.56" y2="739.8" stroke="#000" stroke-width="1.3"/>
<text transform="translate(458.36,744.8) rotate(-90)" font-size="7.8" text-anchor="end" fill="#111" stroke="#111" stroke-width="0.22">57</text>
<line x1="461.50" y1="733.4" x2="461.50" y2="739.8" stroke="#000" stroke-width="1.3"/>
<text transform="translate(464.30,744.8) rotate(-90)" font-size="7.8" text-anchor="end" fill="#111" stroke="#111" stroke-width="0.22">106</text>
<line x1="467.45" y1="733.4" x2="467.45" y2="739.8" stroke="#000" stroke-width="1.3"/>
<text transform="translate(470.25,744.8) rotate(-90)" font-size="7.8" text-anchor="end" fill="#111" stroke="#111" stroke-width="0.22">124</text>
<line x1="473.40" y1="733.4" x2="473.40" y2="739.8" stroke="#000" stroke-width="1.3"/>
<text transform="translate(476.20,744.8) rotate(-90)" font-size="7.8" text-anchor="end" fill="#111" stroke="#111" stroke-width="0.22">143</text>
<line x1="479.34" y1="733.4" x2="479.34" y2="739.8" stroke="#000" stroke-width="1.3"/>
<text transform="translate(482.14,744.8) rotate(-90)" font-size="7.8" text-anchor="end" fill="#111" stroke="#111" stroke-width="0.22">161</text>
<line x1="485.29" y1="733.4" x2="485.29" y2="739.8" stroke="#000" stroke-width="1.3"/>
<text transform="translate(488.09,744.8) rotate(-90)" font-size="7.8" text-anchor="end" fill="#111" stroke="#111" stroke-width="0.22">180</text>
<line x1="491.24" y1="733.4" x2="491.24" y2="739.8" stroke="#000" stroke-width="1.3"/>
<text transform="translate(494.04,744.8) rotate(-90)" font-size="7.8" text-anchor="end" fill="#111" stroke="#111" stroke-width="0.22">199</text>
<line x1="497.18" y1="733.4" x2="497.18" y2="739.8" stroke="#000" stroke-width="1.3"/>
<text transform="translate(499.98,744.8) rotate(-90)" font-size="7.8" text-anchor="end" fill="#111" stroke="#111" stroke-width="0.22">217</text>
<line x1="503.13" y1="733.4" x2="503.13" y2="739.8" stroke="#000" stroke-width="1.3"/>
<text transform="translate(505.93,744.8) rotate(-90)" font-size="7.8" text-anchor="end" fill="#111" stroke="#111" stroke-width="0.22">236</text>
<line x1="509.08" y1="733.4" x2="509.08" y2="739.8" stroke="#000" stroke-width="1.3"/>
<text transform="translate(511.88,744.8) rotate(-90)" font-size="7.8" text-anchor="end" fill="#111" stroke="#111" stroke-width="0.22">255</text>
<line x1="515.03" y1="733.4" x2="515.03" y2="739.8" stroke="#000" stroke-width="1.3"/>
<text transform="translate(517.83,744.8) rotate(-90)" font-size="7.8" text-anchor="end" fill="#111" stroke="#111" stroke-width="0.22">273</text>
<line x1="520.97" y1="733.4" x2="520.97" y2="739.8" stroke="#000" stroke-width="1.3"/>
<text transform="translate(523.77,744.8) rotate(-90)" font-size="7.8" text-anchor="end" fill="#111" stroke="#111" stroke-width="0.22">292</text>
<line x1="526.92" y1="733.4" x2="526.92" y2="739.8" stroke="#000" stroke-width="1.3"/>
<text transform="translate(529.72,744.8) rotate(-90)" font-size="7.8" text-anchor="end" fill="#111" stroke="#111" stroke-width="0.22">311</text>
<line x1="532.87" y1="733.4" x2="532.87" y2="739.8" stroke="#000" stroke-width="1.3"/>
<text transform="translate(535.67,744.8) rotate(-90)" font-size="7.8" text-anchor="end" fill="#111" stroke="#111" stroke-width="0.22">329</text>
<line x1="538.81" y1="733.4" x2="538.81" y2="739.8" stroke="#000" stroke-width="1.3"/>
<text transform="translate(541.61,744.8) rotate(-90)" font-size="7.8" text-anchor="end" fill="#111" stroke="#111" stroke-width="0.22">348</text>
<line x1="544.76" y1="733.4" x2="544.76" y2="739.8" stroke="#000" stroke-width="1.3"/>
<text transform="translate(547.56,744.8) rotate(-90)" font-size="7.8" text-anchor="end" fill="#111" stroke="#111" stroke-width="0.22">367</text>
<line x1="550.71" y1="733.4" x2="550.71" y2="739.8" stroke="#000" stroke-width="1.3"/>
<text transform="translate(553.51,744.8) rotate(-90)" font-size="7.8" text-anchor="end" fill="#111" stroke="#111" stroke-width="0.22">385</text>
<line x1="556.65" y1="733.4" x2="556.65" y2="739.8" stroke="#000" stroke-width="1.3"/>
<text transform="translate(559.45,744.8) rotate(-90)" font-size="7.8" text-anchor="end" fill="#111" stroke="#111" stroke-width="0.22">404</text>
<line x1="562.60" y1="733.4" x2="562.60" y2="739.8" stroke="#000" stroke-width="1.3"/>
<text transform="translate(565.40,744.8) rotate(-90)" font-size="7.8" text-anchor="end" fill="#111" stroke="#111" stroke-width="0.22">423</text>
<line x1="568.55" y1="733.4" x2="568.55" y2="739.8" stroke="#000" stroke-width="1.3"/>
<text transform="translate(571.35,744.8) rotate(-90)" font-size="7.8" text-anchor="end" fill="#111" stroke="#111" stroke-width="0.22">441</text>
<line x1="574.50" y1="733.4" x2="574.50" y2="739.8" stroke="#000" stroke-width="1.3"/>
<text transform="translate(577.30,744.8) rotate(-90)" font-size="7.8" text-anchor="end" fill="#111" stroke="#111" stroke-width="0.22">460</text>
<line x1="580.44" y1="733.4" x2="580.44" y2="739.8" stroke="#000" stroke-width="1.3"/>
<text transform="translate(583.24,744.8) rotate(-90)" font-size="7.8" text-anchor="end" fill="#111" stroke="#111" stroke-width="0.22">479</text>
<line x1="586.39" y1="733.4" x2="586.39" y2="739.8" stroke="#000" stroke-width="1.3"/>
<text transform="translate(589.19,744.8) rotate(-90)" font-size="7.8" text-anchor="end" fill="#111" stroke="#111" stroke-width="0.22">497</text>
<line x1="592.34" y1="733.4" x2="592.34" y2="739.8" stroke="#000" stroke-width="1.3"/>
<text transform="translate(595.14,744.8) rotate(-90)" font-size="7.8" text-anchor="end" fill="#111" stroke="#111" stroke-width="0.22">516</text>
<line x1="598.28" y1="733.4" x2="598.28" y2="739.8" stroke="#000" stroke-width="1.3"/>
<text transform="translate(601.08,744.8) rotate(-90)" font-size="7.8" text-anchor="end" fill="#111" stroke="#111" stroke-width="0.22">535</text>
<line x1="604.23" y1="733.4" x2="604.23" y2="739.8" stroke="#000" stroke-width="1.3"/>
<text transform="translate(607.03,744.8) rotate(-90)" font-size="7.8" text-anchor="end" fill="#111" stroke="#111" stroke-width="0.22">553</text>
<line x1="610.18" y1="733.4" x2="610.18" y2="739.8" stroke="#000" stroke-width="1.3"/>
<text transform="translate(612.98,744.8) rotate(-90)" font-size="7.8" text-anchor="end" fill="#111" stroke="#111" stroke-width="0.22">572</text>
<line x1="616.12" y1="733.4" x2="616.12" y2="739.8" stroke="#000" stroke-width="1.3"/>
<text transform="translate(618.92,744.8) rotate(-90)" font-size="7.8" text-anchor="end" fill="#111" stroke="#111" stroke-width="0.22">591</text>
<line x1="622.07" y1="733.4" x2="622.07" y2="739.8" stroke="#000" stroke-width="1.3"/>
<text transform="translate(624.87,744.8) rotate(-90)" font-size="7.8" text-anchor="end" fill="#111" stroke="#111" stroke-width="0.22">609</text>
<line x1="628.02" y1="733.4" x2="628.02" y2="739.8" stroke="#000" stroke-width="1.3"/>
<text transform="translate(630.82,744.8) rotate(-90)" font-size="7.8" text-anchor="end" fill="#111" stroke="#111" stroke-width="0.22">628</text>
<line x1="633.97" y1="733.4" x2="633.97" y2="739.8" stroke="#000" stroke-width="1.3"/>
<text transform="translate(636.77,744.8) rotate(-90)" font-size="7.8" text-anchor="end" fill="#111" stroke="#111" stroke-width="0.22">647</text>
<line x1="639.91" y1="733.4" x2="639.91" y2="739.8" stroke="#000" stroke-width="1.3"/>
<text transform="translate(642.71,744.8) rotate(-90)" font-size="7.8" text-anchor="end" fill="#111" stroke="#111" stroke-width="0.22">665</text>
<line x1="645.86" y1="733.4" x2="645.86" y2="739.8" stroke="#000" stroke-width="1.3"/>
<text transform="translate(648.66,744.8) rotate(-90)" font-size="7.8" text-anchor="end" fill="#111" stroke="#111" stroke-width="0.22">684</text>
<line x1="651.81" y1="733.4" x2="651.81" y2="739.8" stroke="#000" stroke-width="1.3"/>
<text transform="translate(654.61,744.8) rotate(-90)" font-size="7.8" text-anchor="end" fill="#111" stroke="#111" stroke-width="0.22">703</text>
<line x1="657.75" y1="733.4" x2="657.75" y2="739.8" stroke="#000" stroke-width="1.3"/>
<text transform="translate(660.55,744.8) rotate(-90)" font-size="7.8" text-anchor="end" fill="#111" stroke="#111" stroke-width="0.22">721</text>
<line x1="663.70" y1="733.4" x2="663.70" y2="739.8" stroke="#000" stroke-width="1.3"/>
<text transform="translate(666.50,744.8) rotate(-90)" font-size="7.8" text-anchor="end" fill="#111" stroke="#111" stroke-width="0.22">740</text>
<line x1="669.65" y1="733.4" x2="669.65" y2="739.8" stroke="#000" stroke-width="1.3"/>
<text transform="translate(672.45,744.8) rotate(-90)" font-size="7.8" text-anchor="end" fill="#111" stroke="#111" stroke-width="0.22">759</text>
<line x1="675.59" y1="733.4" x2="675.59" y2="739.8" stroke="#000" stroke-width="1.3"/>
<text transform="translate(678.39,744.8) rotate(-90)" font-size="7.8" text-anchor="end" fill="#111" stroke="#111" stroke-width="0.22">777</text>
<line x1="681.54" y1="733.4" x2="681.54" y2="739.8" stroke="#000" stroke-width="1.3"/>
<text transform="translate(684.34,744.8) rotate(-90)" font-size="7.8" text-anchor="end" fill="#111" stroke="#111" stroke-width="0.22">796</text>
<line x1="687.49" y1="733.4" x2="687.49" y2="739.8" stroke="#000" stroke-width="1.3"/>
<text transform="translate(690.29,744.8) rotate(-90)" font-size="7.8" text-anchor="end" fill="#111" stroke="#111" stroke-width="0.22">815</text>
<line x1="693.44" y1="733.4" x2="693.44" y2="739.8" stroke="#000" stroke-width="1.3"/>
<text transform="translate(696.24,744.8) rotate(-90)" font-size="7.8" text-anchor="end" fill="#111" stroke="#111" stroke-width="0.22">833</text>
<line x1="699.38" y1="733.4" x2="699.38" y2="739.8" stroke="#000" stroke-width="1.3"/>
<text transform="translate(702.18,744.8) rotate(-90)" font-size="7.8" text-anchor="end" fill="#111" stroke="#111" stroke-width="0.22">852</text>
<line x1="705.33" y1="733.4" x2="705.33" y2="739.8" stroke="#000" stroke-width="1.3"/>
<text transform="translate(708.13,744.8) rotate(-90)" font-size="7.8" text-anchor="end" fill="#111" stroke="#111" stroke-width="0.22">871</text>
<text x="413.5" y="772.2" font-size="11" text-anchor="middle" fill="#1a1a1a" stroke="#1a1a1a" stroke-width="0.22">Study day</text>
<text x="714.2" y="211.7" font-size="11" fill="#1a1a1a" stroke="#1a1a1a" stroke-width="0.22">Species</text>
<text x="714.2" y="222.7" font-size="11" fill="#1a1a1a" stroke="#1a1a1a" stroke-width="0.22">trajectory</text>
<text x="714.2" y="243.2" font-size="9.6" fill="#6a6a6a" stroke="#6a6a6a" stroke-width="0.22">species maintained</text>
<text x="714.2" y="253.2" font-size="9.6" fill="#2e8b57" stroke="#2e8b57" stroke-width="0.22">species disrupted,</text>
<text x="722.0" y="262.8" font-size="9.6" fill="#2e8b57" stroke="#2e8b57" stroke-width="0.22">recovered</text>
<text x="714.2" y="273.0" font-size="9.6" fill="#3d3aa6" stroke="#3d3aa6" stroke-width="0.22">species disrupted,</text>
<text x="722.0" y="282.2" font-size="9.6" fill="#3d3aa6" stroke="#3d3aa6" stroke-width="0.22">not recovered</text>
<text x="714.2" y="292.9" font-size="9.6" fill="#b03060" stroke="#b03060" stroke-width="0.22">species colonized</text>
<text x="714.2" y="335.8" font-size="11" fill="#1a1a1a" stroke="#1a1a1a" stroke-width="0.22">Log</text>
<text x="714.2" y="347.7" font-size="11" fill="#1a1a1a" stroke="#1a1a1a" stroke-width="0.22">relative</text>
<text x="714.2" y="359.6" font-size="11" fill="#1a1a1a" stroke="#1a1a1a" stroke-width="0.22">abundance</text>
<defs><linearGradient id="cbg" x1="0" y1="0" x2="0" y2="1"><stop offset="0.00" stop-color="#fcfdbf"/><stop offset="0.05" stop-color="#fde7a9"/><stop offset="0.10" stop-color="#fecf92"/><stop offset="0.15" stop-color="#feb77e"/><stop offset="0.20" stop-color="#fe9f6d"/><stop offset="0.25" stop-color="#fc8961"/><stop offset="0.30" stop-color="#f7705c"/><stop offset="0.35" stop-color="#ed5a5f"/><stop offset="0.40" stop-color="#de4968"/><stop offset="0.45" stop-color="#ca3e72"/><stop offset="0.50" stop-color="#b73779"/><stop offset="0.55" stop-color="#a1307e"/><stop offset="0.60" stop-color="#8c2981"/><stop offset="0.65" stop-color="#782281"/><stop offset="0.70" stop-color="#641a80"/><stop offset="0.75" stop-color="#51127c"/><stop offset="0.80" stop-color="#3b0f70"/><stop offset="0.85" stop-color="#251255"/><stop offset="0.90" stop-color="#140e36"/><stop offset="0.95" stop-color="#06051a"/><stop offset="1.00" stop-color="#000004"/></linearGradient></defs>
<rect x="714.2" y="366.8" width="11.3" height="57.5" fill="url(#cbg)"/>
<line x1="714.2" y1="376.71" x2="716.5" y2="376.71" stroke="#fff" stroke-width="0.6"/>
<line x1="723.2" y1="376.71" x2="725.5" y2="376.71" stroke="#fff" stroke-width="0.6"/>
<text x="731.6" y="380.11" font-size="9.6" fill="#333333" stroke="#333333" stroke-width="0.22">−1</text>
<line x1="714.2" y1="387.47" x2="716.5" y2="387.47" stroke="#fff" stroke-width="0.6"/>
<line x1="723.2" y1="387.47" x2="725.5" y2="387.47" stroke="#fff" stroke-width="0.6"/>
<text x="731.6" y="390.87" font-size="9.6" fill="#333333" stroke="#333333" stroke-width="0.22">−2</text>
<line x1="714.2" y1="398.24" x2="716.5" y2="398.24" stroke="#fff" stroke-width="0.6"/>
<line x1="723.2" y1="398.24" x2="725.5" y2="398.24" stroke="#fff" stroke-width="0.6"/>
<text x="731.6" y="401.64" font-size="9.6" fill="#333333" stroke="#333333" stroke-width="0.22">−3</text>
<line x1="714.2" y1="409.01" x2="716.5" y2="409.01" stroke="#fff" stroke-width="0.6"/>
<line x1="723.2" y1="409.01" x2="725.5" y2="409.01" stroke="#fff" stroke-width="0.6"/>
<text x="731.6" y="412.41" font-size="9.6" fill="#333333" stroke="#333333" stroke-width="0.22">−4</text>
<line x1="714.2" y1="419.78" x2="716.5" y2="419.78" stroke="#fff" stroke-width="0.6"/>
<line x1="723.2" y1="419.78" x2="725.5" y2="419.78" stroke="#fff" stroke-width="0.6"/>
<text x="731.6" y="423.18" font-size="9.6" fill="#333333" stroke="#333333" stroke-width="0.22">−5</text>
<text x="714.2" y="456.1" font-size="11" fill="#1a1a1a" stroke="#1a1a1a" stroke-width="0.22">Strain</text>
<text x="714.2" y="468.1" font-size="11" fill="#1a1a1a" stroke="#1a1a1a" stroke-width="0.22">shared?</text>
<circle cx="719.7" cy="481.3" r="2.05" fill="#000"/>
<circle cx="719.7" cy="492.9" r="2.0" fill="none" stroke="#000" stroke-width="1.2"/>
<text x="731.9" y="484.7" font-size="9.6" fill="#333333" stroke="#333333" stroke-width="0.22">TRUE</text>
<text x="731.9" y="496.3" font-size="9.6" fill="#333333" stroke="#333333" stroke-width="0.22">FALSE</text>
<text x="714.2" y="529.6" font-size="11" fill="#1a1a1a" stroke="#1a1a1a" stroke-width="0.22">New</text>
<text x="714.2" y="542.2" font-size="11" fill="#1a1a1a" stroke="#1a1a1a" stroke-width="0.22">strain?</text>
<rect x="715.3" y="551.6" width="8.8" height="7.4" fill="none" stroke="#000" stroke-width="1.6"/>
<text x="731.9" y="558.7" font-size="9.6" fill="#333333" stroke="#333333" stroke-width="0.22">TRUE</text>
<text x="731.9" y="570.4" font-size="9.6" fill="#333333" stroke="#333333" stroke-width="0.22">FALSE</text>
</svg>
</body></html>
